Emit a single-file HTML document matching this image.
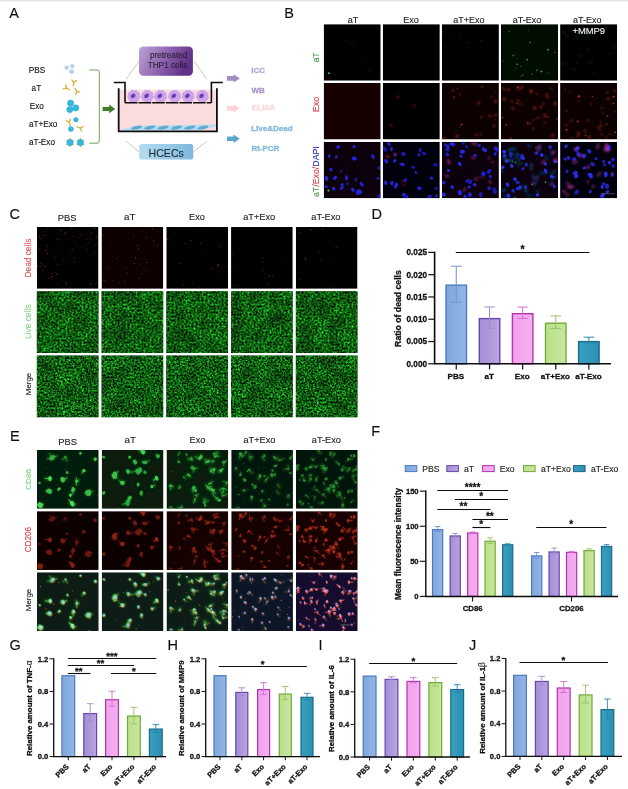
<!DOCTYPE html>
<html lang="en"><head><meta charset="utf-8"><title>Figure</title>
<style>html,body{margin:0;padding:0;background:#fff}svg{display:block}text{white-space:pre}</style></head>
<body>
<svg width="628" height="789" viewBox="0 0 628 789" font-family='"Liberation Sans", Arial, sans-serif'>
<defs>
<filter id="soft" filterUnits="userSpaceOnUse" x="0" y="0" width="628" height="789"><feGaussianBlur stdDeviation="0.4"/></filter>
<filter id="b1" x="-50%" y="-50%" width="200%" height="200%"><feGaussianBlur stdDeviation="0.5"/></filter>
<filter id="b2" x="-50%" y="-50%" width="200%" height="200%"><feGaussianBlur stdDeviation="0.9"/></filter>
<filter id="b3" x="-50%" y="-50%" width="200%" height="200%"><feGaussianBlur stdDeviation="1.6"/></filter>
<filter id="e1" x="-50%" y="-50%" width="200%" height="200%"><feMorphology operator="erode" radius="0.45"/><feGaussianBlur stdDeviation="0.55"/></filter>
<filter id="gn1" x="0" y="0" width="100%" height="100%" color-interpolation-filters="sRGB">
 <feTurbulence type="fractalNoise" baseFrequency="0.5" numOctaves="2" seed="7"/>
 <feColorMatrix type="matrix" values="0 0.28 0 0 -0.09  0 1.32 0 0 -0.3  0 0.32 0 0 -0.1  0 0 0 0 1" result="hi"/>
 <feTurbulence type="fractalNoise" baseFrequency="0.07" numOctaves="2" seed="11"/>
 <feColorMatrix type="matrix" values="0.9 0 0 0 0.05  0.9 0 0 0 0.05  0.9 0 0 0 0.05  0 0 0 0 1" result="lo"/>
 <feComposite in="hi" in2="lo" operator="arithmetic" k1="1.0" k2="0.5" k3="0" k4="0"/>
</filter>
<filter id="gn2" x="0" y="0" width="100%" height="100%" color-interpolation-filters="sRGB">
 <feTurbulence type="fractalNoise" baseFrequency="0.52" numOctaves="2" seed="23"/>
 <feColorMatrix type="matrix" values="0 0.28 0 0 -0.09  0 1.32 0 0 -0.3  0 0.32 0 0 -0.1  0 0 0 0 1" result="hi"/>
 <feTurbulence type="fractalNoise" baseFrequency="0.07" numOctaves="2" seed="11"/>
 <feColorMatrix type="matrix" values="0.9 0 0 0 0.05  0.9 0 0 0 0.05  0.9 0 0 0 0.05  0 0 0 0 1" result="lo"/>
 <feComposite in="hi" in2="lo" operator="arithmetic" k1="1.0" k2="0.5" k3="0" k4="0"/>
</filter>
<linearGradient id="gPur" x1="0" y1="0" x2="1" y2="0.3"><stop offset="0" stop-color="#bba5d6"/><stop offset="0.5" stop-color="#9269b3"/><stop offset="1" stop-color="#5f3088"/></linearGradient>
<linearGradient id="gBlu" x1="0" y1="0" x2="1" y2="0"><stop offset="0" stop-color="#b4dcef"/><stop offset="1" stop-color="#7db9dc"/></linearGradient>
<linearGradient id="bPBS" x1="0" y1="0" x2="1" y2="0"><stop offset="0" stop-color="#7fa6dc"/><stop offset="1" stop-color="#93b6e4"/></linearGradient>
<linearGradient id="baT" x1="0" y1="0" x2="1" y2="0"><stop offset="0" stop-color="#a48ed6"/><stop offset="1" stop-color="#b9a3e0"/></linearGradient>
<linearGradient id="bExo" x1="0" y1="0" x2="1" y2="0"><stop offset="0" stop-color="#f3a0ee"/><stop offset="1" stop-color="#f2b0f0"/></linearGradient>
<linearGradient id="baTpE" x1="0" y1="0" x2="1" y2="0"><stop offset="0" stop-color="#b9e08a"/><stop offset="1" stop-color="#c8e79e"/></linearGradient>
<linearGradient id="baTmE" x1="0" y1="0" x2="1" y2="0"><stop offset="0" stop-color="#3aa0c0"/><stop offset="1" stop-color="#2b8fb3"/></linearGradient>
</defs>
<rect width="628" height="789" fill="#fff"/>
<rect width="628" height="1.3" fill="#e6e6e6"/>
<g filter="url(#soft)">
<text x="9.30" y="17.80" font-size="14.5" fill="#111" text-anchor="start" stroke="#111" stroke-width="0.12">A</text>
<text x="284.30" y="17.60" font-size="14.5" fill="#111" text-anchor="start" stroke="#111" stroke-width="0.12">B</text>
<text x="9.60" y="218.80" font-size="14.5" fill="#111" text-anchor="start" stroke="#111" stroke-width="0.12">C</text>
<text x="371.50" y="218.80" font-size="14.5" fill="#111" text-anchor="start" stroke="#111" stroke-width="0.12">D</text>
<text x="10.00" y="441.30" font-size="14.5" fill="#111" text-anchor="start" stroke="#111" stroke-width="0.12">E</text>
<text x="371.30" y="435.60" font-size="14.5" fill="#111" text-anchor="start" stroke="#111" stroke-width="0.12">F</text>
<text x="9.60" y="650.40" font-size="14.5" fill="#111" text-anchor="start" stroke="#111" stroke-width="0.12">G</text>
<text x="167.60" y="650.20" font-size="14.5" fill="#111" text-anchor="start" stroke="#111" stroke-width="0.12">H</text>
<text x="318.60" y="650.20" font-size="14.5" fill="#111" text-anchor="start" stroke="#111" stroke-width="0.12">I</text>
<text x="469.00" y="650.20" font-size="14.5" fill="#111" text-anchor="start" stroke="#111" stroke-width="0.12">J</text>
<text x="36.90" y="72.50" font-size="8.2" fill="#151515" text-anchor="middle" stroke="#151515" stroke-width="0.12">PBS</text>
<text x="36.40" y="90.80" font-size="8.2" fill="#151515" text-anchor="middle" stroke="#151515" stroke-width="0.12">aT</text>
<text x="36.80" y="108.60" font-size="8.2" fill="#151515" text-anchor="middle" stroke="#151515" stroke-width="0.12">Exo</text>
<text x="43.20" y="126.80" font-size="8.2" fill="#151515" text-anchor="middle" stroke="#151515" stroke-width="0.12">aT+Exo</text>
<text x="42.00" y="145.00" font-size="8.2" fill="#151515" text-anchor="middle" stroke="#151515" stroke-width="0.12">aT-Exo</text>
<circle cx="66.7" cy="67.6" r="2.2" fill="#b9cfe8"/>
<circle cx="72.3" cy="66.2" r="2.1" fill="#b9cfe8"/>
<circle cx="71.6" cy="71.7" r="2.4" fill="#b9cfe8"/>
<g transform="translate(73.8 82.6) rotate(10) scale(1.0)" stroke="#d9b23a" stroke-width="1.3" stroke-linecap="round" fill="none"><path d="M0 3.2 L0 0 L-2.3 -2.4 M0 0 L2.3 -2.4"/></g>
<g transform="translate(66.6 88.2) rotate(-60) scale(1.0)" stroke="#d9b23a" stroke-width="1.3" stroke-linecap="round" fill="none"><path d="M0 3.2 L0 0 L-2.3 -2.4 M0 0 L2.3 -2.4"/></g>
<g transform="translate(76.6 91.2) rotate(150) scale(1.0)" stroke="#d9b23a" stroke-width="1.3" stroke-linecap="round" fill="none"><path d="M0 3.2 L0 0 L-2.3 -2.4 M0 0 L2.3 -2.4"/></g>
<circle cx="70.6" cy="103.1" r="3.1" fill="#36b9dd" stroke="#2aa0c8" stroke-width="0.5"/>
<circle cx="75.7" cy="107.9" r="3.1" fill="#36b9dd" stroke="#2aa0c8" stroke-width="0.5"/>
<circle cx="69.8" cy="109.6" r="3.1" fill="#36b9dd" stroke="#2aa0c8" stroke-width="0.5"/>
<g transform="translate(69.2 122.2) rotate(-20) scale(1.0)" stroke="#d9b23a" stroke-width="1.3" stroke-linecap="round" fill="none"><path d="M0 3.2 L0 0 L-2.3 -2.4 M0 0 L2.3 -2.4"/></g>
<g transform="translate(80.2 128.0) rotate(110) scale(1.0)" stroke="#d9b23a" stroke-width="1.3" stroke-linecap="round" fill="none"><path d="M0 3.2 L0 0 L-2.3 -2.4 M0 0 L2.3 -2.4"/></g>
<circle cx="75.9" cy="119.7" r="2.3" fill="#36b9dd" stroke="#2aa0c8" stroke-width="0.5"/>
<circle cx="70.9" cy="129.0" r="2.5" fill="#36b9dd" stroke="#2aa0c8" stroke-width="0.5"/>
<line x1="70.0" y1="142.5" x2="73.98" y2="144.80" stroke="#d9b23a" stroke-width="1"/>
<line x1="70.0" y1="142.5" x2="70.00" y2="147.10" stroke="#d9b23a" stroke-width="1"/>
<line x1="70.0" y1="142.5" x2="66.02" y2="144.80" stroke="#d9b23a" stroke-width="1"/>
<line x1="70.0" y1="142.5" x2="66.02" y2="140.20" stroke="#d9b23a" stroke-width="1"/>
<line x1="70.0" y1="142.5" x2="70.00" y2="137.90" stroke="#d9b23a" stroke-width="1"/>
<line x1="70.0" y1="142.5" x2="73.98" y2="140.20" stroke="#d9b23a" stroke-width="1"/>
<circle cx="70.0" cy="142.5" r="3.2" fill="#36b9dd" stroke="#2aa0c8" stroke-width="0.5"/>
<line x1="80.4" y1="142.5" x2="84.38" y2="144.80" stroke="#d9b23a" stroke-width="1"/>
<line x1="80.4" y1="142.5" x2="80.40" y2="147.10" stroke="#d9b23a" stroke-width="1"/>
<line x1="80.4" y1="142.5" x2="76.42" y2="144.80" stroke="#d9b23a" stroke-width="1"/>
<line x1="80.4" y1="142.5" x2="76.42" y2="140.20" stroke="#d9b23a" stroke-width="1"/>
<line x1="80.4" y1="142.5" x2="80.40" y2="137.90" stroke="#d9b23a" stroke-width="1"/>
<line x1="80.4" y1="142.5" x2="84.38" y2="140.20" stroke="#d9b23a" stroke-width="1"/>
<circle cx="80.4" cy="142.5" r="3.2" fill="#36b9dd" stroke="#2aa0c8" stroke-width="0.5"/>
<path d="M89.2 70 H97 Q99.3 70 99.3 72.3 V140.9 Q99.3 143.2 97 143.2 H89.2" fill="none" stroke="#5f9a46" stroke-width="0.9"/>
<path d="M102.6 106.9 H109.2 V104.5 L115.3 108.9 L109.2 113.3 V110.9 H102.6 Z" fill="#3e7f2a"/>
<line x1="139.2" y1="61" x2="126.2" y2="79.2" stroke="#a4a4a4" stroke-width="0.6"/>
<line x1="194" y1="61" x2="206.8" y2="79.2" stroke="#a4a4a4" stroke-width="0.6"/>
<line x1="126.2" y1="141.3" x2="139.2" y2="152" stroke="#a4a4a4" stroke-width="0.6"/>
<line x1="206.8" y1="141.3" x2="193.2" y2="152" stroke="#a4a4a4" stroke-width="0.6"/>
<rect x="119.4" y="89.6" width="96.8" height="41" fill="#fbdcdc"/>
<path d="M119.6 130.4 Q130 126 150 125.4 Q185 125.6 216 124.6 L216 126.4 Q205 128.6 196 130.6 L119.6 130.8 Z" fill="#b3dcf0"/>
<ellipse cx="136.5" cy="127.6" rx="5.6" ry="1.7" fill="#62a9cf" transform="rotate(-12 136.5 127.6)"/>
<ellipse cx="149.8" cy="127.6" rx="5.6" ry="1.7" fill="#62a9cf" transform="rotate(-12 149.8 127.6)"/>
<ellipse cx="163.1" cy="127.6" rx="5.6" ry="1.7" fill="#62a9cf" transform="rotate(-12 163.1 127.6)"/>
<ellipse cx="176.4" cy="127.6" rx="5.6" ry="1.7" fill="#62a9cf" transform="rotate(-12 176.4 127.6)"/>
<ellipse cx="189.7" cy="127.6" rx="5.6" ry="1.7" fill="#62a9cf" transform="rotate(-12 189.7 127.6)"/>
<ellipse cx="203.0" cy="127.6" rx="5.6" ry="1.7" fill="#62a9cf" transform="rotate(-12 203.0 127.6)"/>
<polygon points="140.07,97.55 138.68,99.22 137.83,101.23 135.68,101.61 133.74,102.60 131.85,101.51 129.73,101.02 128.98,98.98 127.67,97.24 128.41,95.19 128.53,93.01 130.41,91.92 131.90,90.33 134.04,90.70 136.20,90.44 137.61,92.10 139.43,93.29 139.44,95.47" fill="#cda4ec" stroke="#c79be8" stroke-width="0.7" stroke-linejoin="round"/>
<ellipse cx="133.1" cy="95.89999999999999" rx="2.6" ry="1.9" fill="#6b3fb0" transform="rotate(-35 133.1 95.89999999999999)"/>
<polygon points="153.57,97.55 152.18,99.22 151.33,101.23 149.18,101.61 147.24,102.60 145.35,101.51 143.23,101.02 142.48,98.98 141.17,97.24 141.91,95.19 142.03,93.01 143.91,91.92 145.40,90.33 147.54,90.70 149.70,90.44 151.11,92.10 152.93,93.29 152.94,95.47" fill="#cda4ec" stroke="#c79be8" stroke-width="0.7" stroke-linejoin="round"/>
<ellipse cx="146.6" cy="95.89999999999999" rx="2.6" ry="1.9" fill="#6b3fb0" transform="rotate(-35 146.6 95.89999999999999)"/>
<polygon points="166.77,97.55 165.38,99.22 164.53,101.23 162.38,101.61 160.44,102.60 158.55,101.51 156.43,101.02 155.68,98.98 154.37,97.24 155.11,95.19 155.23,93.01 157.11,91.92 158.60,90.33 160.74,90.70 162.90,90.44 164.31,92.10 166.13,93.29 166.14,95.47" fill="#cda4ec" stroke="#c79be8" stroke-width="0.7" stroke-linejoin="round"/>
<ellipse cx="159.79999999999998" cy="95.89999999999999" rx="2.6" ry="1.9" fill="#6b3fb0" transform="rotate(-35 159.79999999999998 95.89999999999999)"/>
<polygon points="180.77,97.55 179.38,99.22 178.53,101.23 176.38,101.61 174.44,102.60 172.55,101.51 170.43,101.02 169.68,98.98 168.37,97.24 169.11,95.19 169.23,93.01 171.11,91.92 172.60,90.33 174.74,90.70 176.90,90.44 178.31,92.10 180.13,93.29 180.14,95.47" fill="#cda4ec" stroke="#c79be8" stroke-width="0.7" stroke-linejoin="round"/>
<ellipse cx="173.79999999999998" cy="95.89999999999999" rx="2.6" ry="1.9" fill="#6b3fb0" transform="rotate(-35 173.79999999999998 95.89999999999999)"/>
<polygon points="194.37,97.55 192.98,99.22 192.13,101.23 189.98,101.61 188.04,102.60 186.15,101.51 184.03,101.02 183.28,98.98 181.97,97.24 182.71,95.19 182.83,93.01 184.71,91.92 186.20,90.33 188.34,90.70 190.50,90.44 191.91,92.10 193.73,93.29 193.74,95.47" fill="#cda4ec" stroke="#c79be8" stroke-width="0.7" stroke-linejoin="round"/>
<ellipse cx="187.39999999999998" cy="95.89999999999999" rx="2.6" ry="1.9" fill="#6b3fb0" transform="rotate(-35 187.39999999999998 95.89999999999999)"/>
<polygon points="208.57,97.55 207.18,99.22 206.33,101.23 204.18,101.61 202.24,102.60 200.35,101.51 198.23,101.02 197.48,98.98 196.17,97.24 196.91,95.19 197.03,93.01 198.91,91.92 200.40,90.33 202.54,90.70 204.70,90.44 206.11,92.10 207.93,93.29 207.94,95.47" fill="#cda4ec" stroke="#c79be8" stroke-width="0.7" stroke-linejoin="round"/>
<ellipse cx="201.6" cy="95.89999999999999" rx="2.6" ry="1.9" fill="#6b3fb0" transform="rotate(-35 201.6 95.89999999999999)"/>
<path d="M113.8 82.5 H125 V102.8" fill="none" stroke="#111" stroke-width="1.6"/>
<path d="M222.8 82.5 H211.4 V102.8" fill="none" stroke="#111" stroke-width="1.6"/>
<path d="M125 102.8 H211.4" fill="none" stroke="#111" stroke-width="1.4" stroke-dasharray="12.6 1.0"/>
<path d="M118.7 88.2 V131.3 H216.9 V88.2" fill="none" stroke="#111" stroke-width="1.8"/>
<rect x="139.0" y="46.6" width="53.9" height="29.2" rx="4.2" fill="url(#gPur)"/>
<text x="187.30" y="57.90" font-size="8.2" fill="#2a1f35" text-anchor="end" stroke="#2a1f35" stroke-width="0.12">pretreated</text>
<text x="187.30" y="67.70" font-size="8.2" fill="#2a1f35" text-anchor="end" stroke="#2a1f35" stroke-width="0.12">THP1 cells</text>
<rect x="139.2" y="144.1" width="54" height="15.4" rx="2.6" fill="url(#gBlu)"/>
<text x="166.20" y="156.90" font-size="10.6" fill="#1c2a33" text-anchor="middle" stroke="#1c2a33" stroke-width="0.12">HCECs</text>
<path d="M227 76.10000000000001 H233.6 V74.2 L239.8 78.4 L233.6 82.60000000000001 V80.7 H227 Z" fill="#a58cc6"/>
<path d="M227 106.10000000000001 H233.6 V104.2 L239.8 108.4 L233.6 112.60000000000001 V110.7 H227 Z" fill="#fbd3d8"/>
<path d="M227 136.39999999999998 H233.6 V134.5 L239.8 138.7 L233.6 142.89999999999998 V141.0 H227 Z" fill="#5ca6cd"/>
<text x="251.20" y="72.90" font-size="8.0" fill="#b6a6d2" text-anchor="start" font-weight="bold" stroke="#b6a6d2" stroke-width="0.28">ICC</text>
<text x="251.40" y="93.20" font-size="8.0" fill="#a993cb" text-anchor="start" font-weight="bold" stroke="#a993cb" stroke-width="0.28">WB</text>
<text x="251.80" y="110.30" font-size="8.0" fill="#fbd6da" text-anchor="start" font-weight="bold" stroke="#fbd6da" stroke-width="0.28">ELISA</text>
<text x="251.20" y="131.00" font-size="8.0" fill="#80b8d8" text-anchor="start" font-weight="bold" stroke="#80b8d8" stroke-width="0.28">Live&amp;Dead</text>
<text x="251.40" y="150.60" font-size="8.0" fill="#80b8d8" text-anchor="start" font-weight="bold" stroke="#80b8d8" stroke-width="0.28">Rt-PCR</text>
<text x="353.00" y="22.50" font-size="9.0" fill="#222" text-anchor="middle" stroke="#222" stroke-width="0.12">aT</text>
<text x="411.00" y="22.50" font-size="9.0" fill="#222" text-anchor="middle" stroke="#222" stroke-width="0.12">Exo</text>
<text x="468.80" y="22.50" font-size="9.0" fill="#222" text-anchor="middle" stroke="#222" stroke-width="0.12">aT+Exo</text>
<text x="527.10" y="22.50" font-size="9.0" fill="#222" text-anchor="middle" stroke="#222" stroke-width="0.12">aT-Exo</text>
<text x="587.30" y="22.50" font-size="9.0" fill="#222" text-anchor="middle" stroke="#222" stroke-width="0.12">aT-Exo</text>
<text x="319.20" y="57.50" font-size="8.7" fill="#4f9a4f" text-anchor="middle" stroke="#4f9a4f" stroke-width="0.12" transform="rotate(-90 319.20 57.50)">aT</text>
<text x="319.20" y="104.60" font-size="9.0" fill="#d13a3a" text-anchor="middle" stroke="#d13a3a" stroke-width="0.12" transform="rotate(-90 319.20 104.60)">Exo</text>
<text x="319.2" y="171.6" font-size="8.8" text-anchor="middle" stroke-width="0.12" transform="rotate(-90 319.2 171.6)"><tspan fill="#4f9a4f" stroke="#4f9a4f">aT</tspan><tspan fill="#d13a3a" stroke="#d13a3a">/Exo/</tspan><tspan fill="#2a2ab8" stroke="#2a2ab8">DAPI</tspan></text>
<clipPath id="c1"><rect x="323.70" y="24.20" width="57.00" height="56.50"/></clipPath>
<g clip-path="url(#c1)">
<rect x="323.70" y="24.20" width="57.00" height="56.50" fill="#020302"/>
<g fill="#35d040" filter="url(#b1)">
<circle cx="328.9" cy="73.3" r="1.06" opacity="0.92"/>
</g>
<g fill="#1f8a28" filter="url(#b1)">
<circle cx="370.1" cy="70.7" r="0.60" opacity="0.36"/>
<circle cx="353.4" cy="42.7" r="0.47" opacity="0.68"/>
<circle cx="380.5" cy="26.7" r="0.66" opacity="0.54"/>
<circle cx="345.5" cy="40.2" r="0.60" opacity="0.48"/>
<circle cx="362.8" cy="61.6" r="0.44" opacity="0.61"/>
<circle cx="379.7" cy="79.0" r="0.58" opacity="0.32"/>
</g>
</g>
<clipPath id="c2"><rect x="382.80" y="24.20" width="57.00" height="56.50"/></clipPath>
<g clip-path="url(#c2)">
<rect x="382.80" y="24.20" width="57.00" height="56.50" fill="#010101"/>
</g>
<clipPath id="c3"><rect x="441.90" y="24.20" width="57.00" height="56.50"/></clipPath>
<g clip-path="url(#c3)">
<rect x="441.90" y="24.20" width="57.00" height="56.50" fill="#010201"/>
<g fill="#1f9a28" filter="url(#b1)">
<circle cx="469.0" cy="42.8" r="0.67" opacity="0.36"/>
<circle cx="442.5" cy="34.8" r="0.51" opacity="0.62"/>
<circle cx="481.3" cy="41.2" r="0.62" opacity="0.56"/>
<circle cx="450.2" cy="36.6" r="0.46" opacity="0.66"/>
<circle cx="445.3" cy="47.3" r="0.43" opacity="0.57"/>
<circle cx="461.1" cy="35.6" r="0.74" opacity="0.31"/>
</g>
</g>
<clipPath id="c4"><rect x="501.00" y="24.20" width="57.00" height="56.50"/></clipPath>
<g clip-path="url(#c4)">
<rect x="501.00" y="24.20" width="57.00" height="56.50" fill="#030803"/>
<g fill="#1c7a24" filter="url(#b2)">
<circle cx="515.8" cy="68.3" r="1.05" opacity="0.45"/>
<circle cx="511.6" cy="50.3" r="0.62" opacity="0.27"/>
<circle cx="542.8" cy="46.3" r="0.93" opacity="0.26"/>
<circle cx="517.8" cy="58.2" r="1.17" opacity="0.38"/>
<circle cx="501.8" cy="52.1" r="0.62" opacity="0.46"/>
<circle cx="547.2" cy="73.0" r="1.16" opacity="0.42"/>
<circle cx="555.1" cy="72.5" r="0.71" opacity="0.45"/>
<circle cx="528.7" cy="71.0" r="0.95" opacity="0.33"/>
<circle cx="521.8" cy="58.1" r="0.75" opacity="0.24"/>
<circle cx="547.7" cy="72.7" r="1.29" opacity="0.41"/>
<circle cx="532.6" cy="70.7" r="0.61" opacity="0.40"/>
<circle cx="526.3" cy="48.1" r="0.66" opacity="0.36"/>
<circle cx="515.4" cy="59.3" r="0.98" opacity="0.32"/>
<circle cx="508.5" cy="60.6" r="0.69" opacity="0.27"/>
<circle cx="512.1" cy="55.6" r="0.56" opacity="0.40"/>
<circle cx="555.4" cy="56.6" r="1.08" opacity="0.48"/>
<circle cx="503.5" cy="46.8" r="1.14" opacity="0.45"/>
<circle cx="537.4" cy="47.5" r="0.83" opacity="0.46"/>
<circle cx="551.5" cy="72.9" r="0.66" opacity="0.46"/>
<circle cx="522.4" cy="69.5" r="0.61" opacity="0.49"/>
<circle cx="535.4" cy="69.7" r="0.67" opacity="0.39"/>
<circle cx="534.1" cy="64.5" r="0.79" opacity="0.42"/>
<circle cx="520.5" cy="52.8" r="0.63" opacity="0.41"/>
<circle cx="507.4" cy="50.1" r="0.56" opacity="0.39"/>
<circle cx="532.7" cy="62.6" r="0.53" opacity="0.33"/>
<circle cx="520.6" cy="44.8" r="0.50" opacity="0.50"/>
<circle cx="507.9" cy="53.1" r="0.72" opacity="0.38"/>
<circle cx="505.4" cy="59.7" r="0.79" opacity="0.45"/>
<circle cx="501.3" cy="54.4" r="0.90" opacity="0.49"/>
<circle cx="530.5" cy="59.9" r="1.04" opacity="0.29"/>
<circle cx="502.8" cy="61.0" r="1.23" opacity="0.42"/>
<circle cx="515.7" cy="68.2" r="1.18" opacity="0.28"/>
<circle cx="534.5" cy="55.2" r="0.70" opacity="0.29"/>
<circle cx="512.6" cy="55.0" r="0.53" opacity="0.32"/>
</g>
<g fill="#1c7a24" filter="url(#b2)">
<circle cx="505.9" cy="67.0" r="0.80" opacity="0.20"/>
<circle cx="545.1" cy="35.0" r="0.74" opacity="0.37"/>
<circle cx="520.0" cy="40.6" r="0.72" opacity="0.24"/>
<circle cx="550.2" cy="30.5" r="0.91" opacity="0.27"/>
<circle cx="518.3" cy="46.1" r="0.52" opacity="0.24"/>
<circle cx="521.6" cy="49.2" r="0.94" opacity="0.50"/>
<circle cx="503.5" cy="54.4" r="0.56" opacity="0.44"/>
<circle cx="519.4" cy="74.6" r="0.77" opacity="0.24"/>
<circle cx="501.3" cy="38.2" r="0.93" opacity="0.24"/>
<circle cx="528.3" cy="45.2" r="0.67" opacity="0.44"/>
</g>
<g fill="#2fc23a" filter="url(#b1)">
<circle cx="517.1" cy="64.3" r="0.80" opacity="0.92"/>
<circle cx="531.9" cy="74.1" r="0.70" opacity="0.76"/>
<circle cx="536.8" cy="70.2" r="0.90" opacity="0.55"/>
<circle cx="513.3" cy="55.5" r="0.87" opacity="0.74"/>
<circle cx="521.2" cy="76.0" r="0.63" opacity="0.54"/>
<circle cx="509.2" cy="31.3" r="0.83" opacity="0.55"/>
<circle cx="541.4" cy="71.5" r="0.95" opacity="0.86"/>
<circle cx="527.3" cy="59.7" r="0.87" opacity="0.82"/>
<circle cx="520.8" cy="66.4" r="0.55" opacity="0.64"/>
<circle cx="555.0" cy="52.5" r="0.62" opacity="0.85"/>
<circle cx="528.5" cy="30.0" r="0.51" opacity="0.62"/>
<circle cx="522.8" cy="74.9" r="0.61" opacity="0.88"/>
<circle cx="548.1" cy="49.8" r="0.95" opacity="0.84"/>
<circle cx="530.2" cy="42.4" r="0.71" opacity="0.91"/>
</g>
</g>
<clipPath id="c5"><rect x="560.10" y="24.20" width="57.00" height="56.50"/></clipPath>
<g clip-path="url(#c5)">
<rect x="560.10" y="24.20" width="57.00" height="56.50" fill="#020402"/>
<g fill="#17601d" filter="url(#b2)">
<circle cx="566.2" cy="63.9" r="0.89" opacity="0.53"/>
<circle cx="575.6" cy="38.7" r="0.94" opacity="0.45"/>
<circle cx="577.4" cy="62.9" r="0.74" opacity="0.48"/>
<circle cx="566.8" cy="36.8" r="1.04" opacity="0.36"/>
<circle cx="574.9" cy="69.6" r="0.88" opacity="0.29"/>
<circle cx="591.5" cy="61.7" r="0.60" opacity="0.45"/>
<circle cx="567.1" cy="43.2" r="0.55" opacity="0.31"/>
<circle cx="615.8" cy="47.0" r="1.09" opacity="0.38"/>
<circle cx="594.7" cy="73.5" r="0.91" opacity="0.28"/>
<circle cx="593.7" cy="60.0" r="0.61" opacity="0.28"/>
<circle cx="610.0" cy="53.2" r="0.62" opacity="0.39"/>
<circle cx="572.5" cy="69.3" r="0.80" opacity="0.28"/>
<circle cx="606.7" cy="29.3" r="0.67" opacity="0.26"/>
<circle cx="602.3" cy="30.6" r="0.82" opacity="0.28"/>
<circle cx="587.5" cy="62.9" r="0.82" opacity="0.39"/>
<circle cx="587.7" cy="48.9" r="0.86" opacity="0.28"/>
<circle cx="587.1" cy="37.5" r="1.02" opacity="0.53"/>
<circle cx="563.9" cy="32.3" r="0.92" opacity="0.42"/>
<circle cx="561.2" cy="64.0" r="1.07" opacity="0.38"/>
<circle cx="579.9" cy="56.4" r="1.06" opacity="0.33"/>
<circle cx="577.3" cy="34.9" r="0.88" opacity="0.39"/>
<circle cx="574.7" cy="46.1" r="0.52" opacity="0.34"/>
</g>
</g>
<clipPath id="c6"><rect x="323.70" y="83.00" width="57.00" height="56.50"/></clipPath>
<g clip-path="url(#c6)">
<rect x="323.70" y="83.00" width="57.00" height="56.50" fill="#130404"/>
</g>
<clipPath id="c7"><rect x="382.80" y="83.00" width="57.00" height="56.50"/></clipPath>
<g clip-path="url(#c7)">
<rect x="382.80" y="83.00" width="57.00" height="56.50" fill="#030000"/>
<g fill="#7a1510" filter="url(#b2)">
<ellipse cx="398.2" cy="97.1" rx="1.71" ry="1.10" opacity="0.69" transform="rotate(114 398.2 97.1)"/>
<ellipse cx="414.2" cy="105.6" rx="1.85" ry="1.13" opacity="0.70" transform="rotate(145 414.2 105.6)"/>
<ellipse cx="391.4" cy="125.4" rx="1.55" ry="1.30" opacity="0.65" transform="rotate(1 391.4 125.4)"/>
</g>
</g>
<clipPath id="c8"><rect x="441.90" y="83.00" width="57.00" height="56.50"/></clipPath>
<g clip-path="url(#c8)">
<rect x="441.90" y="83.00" width="57.00" height="56.50" fill="#080101"/>
<g fill="#8a1c14" filter="url(#b2)">
<ellipse cx="495.5" cy="91.7" rx="1.55" ry="1.10" opacity="0.44" transform="rotate(120 495.5 91.7)"/>
<ellipse cx="444.3" cy="138.3" rx="1.31" ry="1.03" opacity="0.81" transform="rotate(6 444.3 138.3)"/>
<ellipse cx="453.1" cy="90.7" rx="1.70" ry="1.35" opacity="0.68" transform="rotate(74 453.1 90.7)"/>
<ellipse cx="478.7" cy="102.9" rx="1.89" ry="1.64" opacity="0.64" transform="rotate(67 478.7 102.9)"/>
<ellipse cx="491.7" cy="96.7" rx="1.57" ry="1.21" opacity="0.57" transform="rotate(98 491.7 96.7)"/>
<ellipse cx="495.5" cy="101.5" rx="1.86" ry="1.47" opacity="0.85" transform="rotate(16 495.5 101.5)"/>
<ellipse cx="475.9" cy="134.7" rx="1.52" ry="1.25" opacity="0.81" transform="rotate(73 475.9 134.7)"/>
<ellipse cx="480.5" cy="134.2" rx="2.09" ry="1.67" opacity="0.40" transform="rotate(72 480.5 134.2)"/>
<ellipse cx="481.8" cy="86.8" rx="1.77" ry="1.63" opacity="0.52" transform="rotate(98 481.8 86.8)"/>
<ellipse cx="491.3" cy="116.1" rx="1.45" ry="1.23" opacity="0.37" transform="rotate(34 491.3 116.1)"/>
<ellipse cx="460.0" cy="94.4" rx="1.92" ry="1.37" opacity="0.45" transform="rotate(116 460.0 94.4)"/>
<ellipse cx="489.5" cy="115.7" rx="1.52" ry="1.49" opacity="0.76" transform="rotate(74 489.5 115.7)"/>
<ellipse cx="494.4" cy="126.1" rx="2.02" ry="1.64" opacity="0.60" transform="rotate(152 494.4 126.1)"/>
<ellipse cx="495.6" cy="114.8" rx="1.77" ry="1.37" opacity="0.72" transform="rotate(178 495.6 114.8)"/>
<ellipse cx="481.3" cy="117.3" rx="1.82" ry="1.33" opacity="0.53" transform="rotate(116 481.3 117.3)"/>
<ellipse cx="457.2" cy="136.0" rx="2.18" ry="1.55" opacity="0.82" transform="rotate(110 457.2 136.0)"/>
<ellipse cx="460.1" cy="126.5" rx="1.27" ry="1.01" opacity="0.52" transform="rotate(114 460.1 126.5)"/>
<ellipse cx="495.3" cy="119.4" rx="1.51" ry="1.12" opacity="0.48" transform="rotate(78 495.3 119.4)"/>
</g>
<g fill="#c03020" filter="url(#b1)">
<circle cx="444.3" cy="137.6" r="0.84" opacity="0.55"/>
<circle cx="454.2" cy="97.4" r="1.05" opacity="0.57"/>
<circle cx="457.7" cy="88.5" r="0.89" opacity="0.58"/>
<circle cx="461.5" cy="124.5" r="1.07" opacity="0.83"/>
</g>
</g>
<clipPath id="c9"><rect x="501.00" y="83.00" width="57.00" height="56.50"/></clipPath>
<g clip-path="url(#c9)">
<rect x="501.00" y="83.00" width="57.00" height="56.50" fill="#0b0202"/>
<g fill="#8e2018" filter="url(#b2)">
<ellipse cx="552.7" cy="135.6" rx="2.02" ry="1.38" opacity="0.87" transform="rotate(107 552.7 135.6)"/>
<ellipse cx="551.0" cy="88.7" rx="1.66" ry="1.12" opacity="0.58" transform="rotate(10 551.0 88.7)"/>
<ellipse cx="534.5" cy="107.1" rx="1.43" ry="1.02" opacity="0.89" transform="rotate(124 534.5 107.1)"/>
<ellipse cx="531.1" cy="91.2" rx="2.31" ry="1.56" opacity="0.89" transform="rotate(97 531.1 91.2)"/>
<ellipse cx="512.6" cy="108.2" rx="1.79" ry="1.52" opacity="0.56" transform="rotate(175 512.6 108.2)"/>
<ellipse cx="514.2" cy="108.8" rx="1.18" ry="1.14" opacity="0.46" transform="rotate(84 514.2 108.8)"/>
<ellipse cx="503.5" cy="88.8" rx="2.44" ry="1.65" opacity="0.41" transform="rotate(39 503.5 88.8)"/>
<ellipse cx="541.0" cy="107.0" rx="1.49" ry="1.37" opacity="0.80" transform="rotate(98 541.0 107.0)"/>
<ellipse cx="530.2" cy="124.0" rx="1.43" ry="1.18" opacity="0.59" transform="rotate(162 530.2 124.0)"/>
<ellipse cx="521.8" cy="87.3" rx="1.79" ry="1.24" opacity="0.84" transform="rotate(146 521.8 87.3)"/>
<ellipse cx="545.0" cy="116.1" rx="1.79" ry="1.48" opacity="0.81" transform="rotate(125 545.0 116.1)"/>
<ellipse cx="538.1" cy="117.8" rx="1.62" ry="1.45" opacity="0.58" transform="rotate(53 538.1 117.8)"/>
<ellipse cx="555.3" cy="103.8" rx="1.97" ry="1.54" opacity="0.80" transform="rotate(99 555.3 103.8)"/>
<ellipse cx="543.7" cy="104.1" rx="1.42" ry="1.08" opacity="0.66" transform="rotate(60 543.7 104.1)"/>
<ellipse cx="533.4" cy="120.0" rx="1.78" ry="1.58" opacity="0.39" transform="rotate(171 533.4 120.0)"/>
<ellipse cx="519.3" cy="88.8" rx="1.77" ry="1.39" opacity="0.66" transform="rotate(42 519.3 88.8)"/>
<ellipse cx="528.1" cy="123.1" rx="1.63" ry="1.33" opacity="0.35" transform="rotate(129 528.1 123.1)"/>
<ellipse cx="534.5" cy="108.4" rx="1.76" ry="1.26" opacity="0.83" transform="rotate(26 534.5 108.4)"/>
<ellipse cx="537.3" cy="94.0" rx="1.53" ry="1.14" opacity="0.60" transform="rotate(31 537.3 94.0)"/>
<ellipse cx="511.9" cy="101.7" rx="1.35" ry="1.30" opacity="0.61" transform="rotate(126 511.9 101.7)"/>
<ellipse cx="546.8" cy="94.7" rx="1.88" ry="1.48" opacity="0.64" transform="rotate(100 546.8 94.7)"/>
<ellipse cx="508.4" cy="89.5" rx="1.75" ry="1.21" opacity="0.83" transform="rotate(16 508.4 89.5)"/>
<ellipse cx="504.3" cy="99.1" rx="2.00" ry="1.60" opacity="0.72" transform="rotate(140 504.3 99.1)"/>
<ellipse cx="533.5" cy="128.6" rx="1.63" ry="1.42" opacity="0.54" transform="rotate(58 533.5 128.6)"/>
<ellipse cx="520.2" cy="104.2" rx="1.79" ry="1.21" opacity="0.56" transform="rotate(61 520.2 104.2)"/>
<ellipse cx="517.9" cy="100.7" rx="1.82" ry="1.29" opacity="0.65" transform="rotate(86 517.9 100.7)"/>
<ellipse cx="544.7" cy="113.9" rx="1.34" ry="1.18" opacity="0.47" transform="rotate(16 544.7 113.9)"/>
<ellipse cx="516.3" cy="89.9" rx="1.69" ry="1.18" opacity="0.41" transform="rotate(90 516.3 89.9)"/>
<ellipse cx="545.0" cy="122.5" rx="1.40" ry="1.32" opacity="0.59" transform="rotate(102 545.0 122.5)"/>
<ellipse cx="547.5" cy="97.0" rx="1.81" ry="1.60" opacity="0.49" transform="rotate(153 547.5 97.0)"/>
</g>
<g fill="#c83424" filter="url(#b1)">
<circle cx="557.0" cy="118.8" r="0.72" opacity="0.82"/>
<circle cx="516.7" cy="103.5" r="0.76" opacity="0.83"/>
<circle cx="506.2" cy="124.7" r="0.86" opacity="0.77"/>
<circle cx="517.7" cy="87.4" r="1.07" opacity="0.76"/>
<circle cx="510.7" cy="138.2" r="1.06" opacity="0.57"/>
<circle cx="502.1" cy="117.5" r="0.76" opacity="0.79"/>
<circle cx="527.7" cy="123.1" r="0.93" opacity="0.81"/>
<circle cx="547.8" cy="117.1" r="0.94" opacity="0.63"/>
</g>
</g>
<clipPath id="c10"><rect x="560.10" y="83.00" width="57.00" height="56.50"/></clipPath>
<g clip-path="url(#c10)">
<rect x="560.10" y="83.00" width="57.00" height="56.50" fill="#080101"/>
<g fill="#8a1c14" filter="url(#b2)">
<ellipse cx="600.2" cy="129.7" rx="1.51" ry="1.15" opacity="0.67" transform="rotate(47 600.2 129.7)"/>
<ellipse cx="571.2" cy="138.3" rx="1.66" ry="1.39" opacity="0.55" transform="rotate(143 571.2 138.3)"/>
<ellipse cx="571.9" cy="120.5" rx="1.81" ry="1.28" opacity="0.44" transform="rotate(45 571.9 120.5)"/>
<ellipse cx="566.3" cy="125.2" rx="1.64" ry="1.34" opacity="0.47" transform="rotate(157 566.3 125.2)"/>
<ellipse cx="569.5" cy="122.5" rx="1.26" ry="1.22" opacity="0.51" transform="rotate(81 569.5 122.5)"/>
<ellipse cx="600.9" cy="125.7" rx="1.75" ry="1.27" opacity="0.84" transform="rotate(7 600.9 125.7)"/>
<ellipse cx="585.4" cy="131.1" rx="2.01" ry="1.43" opacity="0.64" transform="rotate(97 585.4 131.1)"/>
<ellipse cx="615.3" cy="90.4" rx="1.49" ry="1.25" opacity="0.50" transform="rotate(40 615.3 90.4)"/>
<ellipse cx="589.5" cy="136.1" rx="1.37" ry="1.18" opacity="0.75" transform="rotate(163 589.5 136.1)"/>
<ellipse cx="601.7" cy="108.2" rx="1.40" ry="1.38" opacity="0.62" transform="rotate(47 601.7 108.2)"/>
<ellipse cx="577.9" cy="135.8" rx="1.71" ry="1.42" opacity="0.80" transform="rotate(114 577.9 135.8)"/>
<ellipse cx="565.9" cy="125.4" rx="1.38" ry="1.16" opacity="0.51" transform="rotate(137 565.9 125.4)"/>
<ellipse cx="607.4" cy="92.7" rx="1.72" ry="1.43" opacity="0.58" transform="rotate(3 607.4 92.7)"/>
<ellipse cx="579.1" cy="100.7" rx="1.45" ry="1.04" opacity="0.61" transform="rotate(152 579.1 100.7)"/>
<ellipse cx="590.9" cy="104.0" rx="1.70" ry="1.54" opacity="0.44" transform="rotate(80 590.9 104.0)"/>
<ellipse cx="610.1" cy="134.3" rx="1.45" ry="1.03" opacity="0.82" transform="rotate(9 610.1 134.3)"/>
<ellipse cx="578.5" cy="132.7" rx="1.80" ry="1.33" opacity="0.80" transform="rotate(9 578.5 132.7)"/>
<ellipse cx="565.0" cy="89.4" rx="1.55" ry="1.48" opacity="0.42" transform="rotate(33 565.0 89.4)"/>
<ellipse cx="597.6" cy="127.5" rx="1.35" ry="1.30" opacity="0.60" transform="rotate(144 597.6 127.5)"/>
<ellipse cx="606.1" cy="137.9" rx="1.60" ry="1.42" opacity="0.58" transform="rotate(118 606.1 137.9)"/>
<ellipse cx="608.3" cy="98.6" rx="1.67" ry="1.39" opacity="0.77" transform="rotate(178 608.3 98.6)"/>
<ellipse cx="601.9" cy="134.3" rx="1.76" ry="1.50" opacity="0.43" transform="rotate(34 601.9 134.3)"/>
<ellipse cx="566.4" cy="110.9" rx="1.60" ry="1.08" opacity="0.79" transform="rotate(51 566.4 110.9)"/>
<ellipse cx="569.7" cy="91.9" rx="1.49" ry="1.14" opacity="0.50" transform="rotate(45 569.7 91.9)"/>
<ellipse cx="587.5" cy="120.5" rx="1.89" ry="1.45" opacity="0.47" transform="rotate(170 587.5 120.5)"/>
<ellipse cx="614.5" cy="91.3" rx="1.20" ry="1.16" opacity="0.84" transform="rotate(39 614.5 91.3)"/>
<ellipse cx="588.9" cy="138.2" rx="1.66" ry="1.34" opacity="0.73" transform="rotate(61 588.9 138.2)"/>
<ellipse cx="603.1" cy="113.0" rx="1.52" ry="1.41" opacity="0.44" transform="rotate(8 603.1 113.0)"/>
</g>
<g fill="#d83a26" filter="url(#b1)">
<circle cx="606.7" cy="124.4" r="0.81" opacity="0.62"/>
<circle cx="577.6" cy="121.4" r="1.07" opacity="0.62"/>
<circle cx="578.9" cy="96.4" r="1.17" opacity="0.78"/>
<circle cx="613.7" cy="96.7" r="1.02" opacity="0.78"/>
<circle cx="613.2" cy="103.6" r="0.81" opacity="0.91"/>
<circle cx="614.4" cy="111.7" r="0.87" opacity="0.54"/>
<circle cx="585.4" cy="135.3" r="0.88" opacity="0.72"/>
<circle cx="592.3" cy="96.4" r="0.75" opacity="0.76"/>
<circle cx="615.2" cy="132.3" r="0.85" opacity="0.89"/>
<circle cx="607.5" cy="116.0" r="0.88" opacity="0.60"/>
<circle cx="600.2" cy="121.8" r="0.81" opacity="0.57"/>
<circle cx="566.6" cy="129.8" r="1.14" opacity="0.76"/>
</g>
</g>
<clipPath id="c11"><rect x="323.70" y="141.80" width="57.00" height="56.50"/></clipPath>
<g clip-path="url(#c11)">
<rect x="323.70" y="141.80" width="57.00" height="56.50" fill="#0e0307"/>
<g fill="#2424f0" filter="url(#b1)">
<ellipse cx="354.3" cy="158.6" rx="2.54" ry="1.86" opacity="0.98" transform="rotate(12 354.3 158.6)"/>
<ellipse cx="326.5" cy="178.4" rx="2.48" ry="1.86" opacity="0.98" transform="rotate(87 326.5 178.4)"/>
<ellipse cx="336.3" cy="156.9" rx="1.62" ry="1.38" opacity="0.89" transform="rotate(125 336.3 156.9)"/>
<ellipse cx="346.6" cy="177.7" rx="2.65" ry="1.68" opacity="0.80" transform="rotate(92 346.6 177.7)"/>
<ellipse cx="378.9" cy="168.0" rx="1.56" ry="1.36" opacity="0.80" transform="rotate(67 378.9 168.0)"/>
<ellipse cx="379.2" cy="196.8" rx="2.46" ry="1.72" opacity="0.78" transform="rotate(92 379.2 196.8)"/>
<ellipse cx="338.1" cy="146.9" rx="2.08" ry="1.64" opacity="0.88" transform="rotate(144 338.1 146.9)"/>
<ellipse cx="333.6" cy="188.6" rx="2.13" ry="1.69" opacity="0.90" transform="rotate(93 333.6 188.6)"/>
<ellipse cx="357.6" cy="192.7" rx="2.56" ry="1.87" opacity="0.89" transform="rotate(58 357.6 192.7)"/>
<ellipse cx="378.0" cy="178.4" rx="1.58" ry="1.28" opacity="0.84" transform="rotate(6 378.0 178.4)"/>
<ellipse cx="354.1" cy="146.6" rx="1.76" ry="1.38" opacity="0.87" transform="rotate(142 354.1 146.6)"/>
<ellipse cx="326.1" cy="186.6" rx="1.61" ry="1.23" opacity="0.94" transform="rotate(1 326.1 186.6)"/>
<ellipse cx="361.6" cy="184.3" rx="2.47" ry="1.55" opacity="0.94" transform="rotate(48 361.6 184.3)"/>
<ellipse cx="355.8" cy="179.5" rx="2.08" ry="1.30" opacity="0.68" transform="rotate(70 355.8 179.5)"/>
<ellipse cx="359.8" cy="191.5" rx="2.92" ry="1.84" opacity="0.85" transform="rotate(35 359.8 191.5)"/>
<ellipse cx="331.0" cy="169.7" rx="1.69" ry="1.53" opacity="0.99" transform="rotate(77 331.0 169.7)"/>
<ellipse cx="341.8" cy="187.9" rx="2.25" ry="1.47" opacity="0.92" transform="rotate(137 341.8 187.9)"/>
<ellipse cx="372.8" cy="156.6" rx="2.66" ry="1.63" opacity="0.82" transform="rotate(62 372.8 156.6)"/>
<ellipse cx="329.2" cy="156.1" rx="1.62" ry="1.51" opacity="0.92" transform="rotate(88 329.2 156.1)"/>
<ellipse cx="342.1" cy="184.7" rx="1.80" ry="1.60" opacity="0.82" transform="rotate(44 342.1 184.7)"/>
<ellipse cx="347.3" cy="183.6" rx="1.45" ry="1.27" opacity="0.69" transform="rotate(133 347.3 183.6)"/>
<ellipse cx="341.3" cy="171.3" rx="1.42" ry="1.28" opacity="0.66" transform="rotate(93 341.3 171.3)"/>
<ellipse cx="335.0" cy="177.9" rx="2.35" ry="1.68" opacity="0.92" transform="rotate(137 335.0 177.9)"/>
<ellipse cx="352.9" cy="189.7" rx="2.32" ry="1.71" opacity="0.86" transform="rotate(55 352.9 189.7)"/>
</g>
<g fill="#2fd23a" filter="url(#b1)">
<circle cx="328.4" cy="190.6" r="1.07" opacity="0.96"/>
</g>
</g>
<clipPath id="c12"><rect x="382.80" y="141.80" width="57.00" height="56.50"/></clipPath>
<g clip-path="url(#c12)">
<rect x="382.80" y="141.80" width="57.00" height="56.50" fill="#030108"/>
<g fill="#2424f0" filter="url(#b1)">
<ellipse cx="384.6" cy="149.0" rx="2.94" ry="1.90" opacity="0.71" transform="rotate(55 384.6 149.0)"/>
<ellipse cx="405.4" cy="180.0" rx="2.26" ry="1.64" opacity="0.68" transform="rotate(121 405.4 180.0)"/>
<ellipse cx="391.5" cy="149.0" rx="2.20" ry="1.33" opacity="0.89" transform="rotate(108 391.5 149.0)"/>
<ellipse cx="396.6" cy="184.0" rx="1.62" ry="1.27" opacity="0.88" transform="rotate(164 396.6 184.0)"/>
<ellipse cx="392.0" cy="183.1" rx="2.16" ry="1.89" opacity="0.93" transform="rotate(82 392.0 183.1)"/>
<ellipse cx="420.2" cy="150.3" rx="2.35" ry="1.51" opacity="0.69" transform="rotate(101 420.2 150.3)"/>
<ellipse cx="413.3" cy="167.2" rx="2.14" ry="1.27" opacity="0.72" transform="rotate(21 413.3 167.2)"/>
<ellipse cx="406.5" cy="197.0" rx="2.15" ry="1.43" opacity="0.82" transform="rotate(154 406.5 197.0)"/>
<ellipse cx="389.0" cy="144.0" rx="2.40" ry="1.55" opacity="0.78" transform="rotate(50 389.0 144.0)"/>
<ellipse cx="435.4" cy="164.8" rx="2.35" ry="1.63" opacity="0.69" transform="rotate(7 435.4 164.8)"/>
<ellipse cx="394.8" cy="160.8" rx="1.95" ry="1.30" opacity="0.99" transform="rotate(125 394.8 160.8)"/>
<ellipse cx="403.9" cy="194.7" rx="2.05" ry="1.74" opacity="0.99" transform="rotate(138 403.9 194.7)"/>
<ellipse cx="395.4" cy="154.7" rx="1.46" ry="1.44" opacity="0.75" transform="rotate(68 395.4 154.7)"/>
<ellipse cx="415.9" cy="172.6" rx="1.37" ry="1.32" opacity="0.95" transform="rotate(22 415.9 172.6)"/>
<ellipse cx="436.1" cy="188.4" rx="1.77" ry="1.23" opacity="0.72" transform="rotate(37 436.1 188.4)"/>
<ellipse cx="403.4" cy="154.0" rx="2.15" ry="1.77" opacity="0.81" transform="rotate(33 403.4 154.0)"/>
<ellipse cx="429.7" cy="196.6" rx="2.31" ry="1.69" opacity="0.79" transform="rotate(155 429.7 196.6)"/>
<ellipse cx="385.6" cy="182.8" rx="2.35" ry="1.57" opacity="0.90" transform="rotate(83 385.6 182.8)"/>
<ellipse cx="431.5" cy="178.2" rx="1.67" ry="1.53" opacity="0.92" transform="rotate(22 431.5 178.2)"/>
<ellipse cx="395.9" cy="186.1" rx="2.86" ry="1.72" opacity="0.85" transform="rotate(124 395.9 186.1)"/>
<ellipse cx="423.9" cy="153.4" rx="2.10" ry="1.32" opacity="0.80" transform="rotate(21 423.9 153.4)"/>
<ellipse cx="419.0" cy="154.8" rx="1.64" ry="1.30" opacity="0.80" transform="rotate(55 419.0 154.8)"/>
<ellipse cx="386.2" cy="161.2" rx="2.34" ry="1.70" opacity="0.92" transform="rotate(44 386.2 161.2)"/>
<ellipse cx="402.2" cy="164.4" rx="2.71" ry="1.71" opacity="0.87" transform="rotate(6 402.2 164.4)"/>
<ellipse cx="419.3" cy="188.3" rx="2.16" ry="1.83" opacity="0.93" transform="rotate(36 419.3 188.3)"/>
<ellipse cx="436.5" cy="195.9" rx="1.86" ry="1.45" opacity="0.78" transform="rotate(147 436.5 195.9)"/>
</g>
<g fill="#b01a40" filter="url(#b2)">
<ellipse cx="394.8" cy="154.6" rx="2.26" ry="1.31" opacity="0.78" transform="rotate(90 394.8 154.6)"/>
<ellipse cx="402.9" cy="180.8" rx="1.45" ry="1.14" opacity="0.64" transform="rotate(6 402.9 180.8)"/>
<ellipse cx="404.1" cy="184.8" rx="1.96" ry="1.15" opacity="0.50" transform="rotate(1 404.1 184.8)"/>
<ellipse cx="387.5" cy="156.4" rx="2.54" ry="1.19" opacity="0.77" transform="rotate(54 387.5 156.4)"/>
</g>
</g>
<clipPath id="c13"><rect x="441.90" y="141.80" width="57.00" height="56.50"/></clipPath>
<g clip-path="url(#c13)">
<rect x="441.90" y="141.80" width="57.00" height="56.50" fill="#07020a"/>
<g fill="#2626f0" filter="url(#b1)">
<ellipse cx="447.3" cy="154.5" rx="2.25" ry="1.72" opacity="0.78" transform="rotate(41 447.3 154.5)"/>
<ellipse cx="459.6" cy="191.8" rx="2.10" ry="1.88" opacity="0.83" transform="rotate(153 459.6 191.8)"/>
<ellipse cx="470.2" cy="182.0" rx="2.66" ry="1.78" opacity="0.70" transform="rotate(116 470.2 182.0)"/>
<ellipse cx="448.5" cy="170.5" rx="1.50" ry="1.50" opacity="0.98" transform="rotate(5 448.5 170.5)"/>
<ellipse cx="489.2" cy="171.3" rx="2.81" ry="1.77" opacity="0.76" transform="rotate(141 489.2 171.3)"/>
<ellipse cx="494.7" cy="190.8" rx="3.22" ry="2.07" opacity="0.68" transform="rotate(82 494.7 190.8)"/>
<ellipse cx="463.3" cy="143.0" rx="1.71" ry="1.55" opacity="0.68" transform="rotate(66 463.3 143.0)"/>
<ellipse cx="484.4" cy="149.8" rx="2.97" ry="1.87" opacity="0.92" transform="rotate(38 484.4 149.8)"/>
<ellipse cx="443.6" cy="182.6" rx="2.28" ry="1.77" opacity="0.78" transform="rotate(163 443.6 182.6)"/>
<ellipse cx="489.2" cy="188.3" rx="2.00" ry="1.96" opacity="0.71" transform="rotate(174 489.2 188.3)"/>
<ellipse cx="495.2" cy="153.9" rx="1.99" ry="1.30" opacity="0.89" transform="rotate(130 495.2 153.9)"/>
<ellipse cx="447.5" cy="149.5" rx="2.35" ry="1.91" opacity="0.76" transform="rotate(21 447.5 149.5)"/>
<ellipse cx="496.5" cy="149.0" rx="3.28" ry="2.06" opacity="0.80" transform="rotate(41 496.5 149.0)"/>
<ellipse cx="451.8" cy="144.0" rx="2.56" ry="1.66" opacity="0.94" transform="rotate(1 451.8 144.0)"/>
<ellipse cx="445.7" cy="145.0" rx="2.00" ry="1.50" opacity="0.68" transform="rotate(23 445.7 145.0)"/>
<ellipse cx="462.4" cy="151.8" rx="2.61" ry="2.01" opacity="0.95" transform="rotate(175 462.4 151.8)"/>
<ellipse cx="460.0" cy="193.3" rx="1.99" ry="1.90" opacity="1.00" transform="rotate(106 460.0 193.3)"/>
<ellipse cx="452.2" cy="187.1" rx="1.77" ry="1.70" opacity="1.00" transform="rotate(33 452.2 187.1)"/>
<ellipse cx="483.4" cy="173.8" rx="2.39" ry="2.08" opacity="0.90" transform="rotate(57 483.4 173.8)"/>
<ellipse cx="474.5" cy="184.7" rx="1.90" ry="1.71" opacity="0.87" transform="rotate(177 474.5 184.7)"/>
<ellipse cx="475.2" cy="155.4" rx="1.61" ry="1.59" opacity="0.91" transform="rotate(92 475.2 155.4)"/>
<ellipse cx="461.1" cy="156.2" rx="1.52" ry="1.44" opacity="0.97" transform="rotate(130 461.1 156.2)"/>
<ellipse cx="465.0" cy="196.5" rx="2.06" ry="1.60" opacity="0.83" transform="rotate(115 465.0 196.5)"/>
<ellipse cx="466.4" cy="146.7" rx="1.63" ry="1.40" opacity="0.72" transform="rotate(37 466.4 146.7)"/>
<ellipse cx="469.1" cy="187.0" rx="1.69" ry="1.37" opacity="0.95" transform="rotate(39 469.1 187.0)"/>
<ellipse cx="467.4" cy="181.0" rx="2.46" ry="1.56" opacity="0.74" transform="rotate(146 467.4 181.0)"/>
<ellipse cx="448.0" cy="146.3" rx="1.91" ry="1.42" opacity="0.84" transform="rotate(85 448.0 146.3)"/>
<ellipse cx="479.3" cy="145.5" rx="1.84" ry="1.40" opacity="0.81" transform="rotate(137 479.3 145.5)"/>
<ellipse cx="459.6" cy="163.8" rx="2.34" ry="1.50" opacity="1.00" transform="rotate(53 459.6 163.8)"/>
<ellipse cx="453.6" cy="144.9" rx="1.85" ry="1.85" opacity="0.70" transform="rotate(81 453.6 144.9)"/>
<ellipse cx="443.4" cy="194.5" rx="2.42" ry="1.93" opacity="0.98" transform="rotate(15 443.4 194.5)"/>
<ellipse cx="480.7" cy="194.6" rx="2.65" ry="1.94" opacity="0.68" transform="rotate(102 480.7 194.6)"/>
<ellipse cx="469.9" cy="194.7" rx="2.46" ry="2.09" opacity="0.82" transform="rotate(94 469.9 194.7)"/>
<ellipse cx="490.2" cy="176.5" rx="1.70" ry="1.68" opacity="0.82" transform="rotate(161 490.2 176.5)"/>
</g>
<g fill="#b0208a" filter="url(#b2)">
<ellipse cx="464.6" cy="189.6" rx="3.25" ry="1.41" opacity="0.48" transform="rotate(125 464.6 189.6)"/>
<ellipse cx="490.1" cy="181.9" rx="2.09" ry="1.37" opacity="0.69" transform="rotate(75 490.1 181.9)"/>
<ellipse cx="492.7" cy="161.9" rx="2.14" ry="1.10" opacity="0.48" transform="rotate(169 492.7 161.9)"/>
<ellipse cx="448.8" cy="161.8" rx="3.12" ry="1.51" opacity="0.72" transform="rotate(73 448.8 161.8)"/>
<ellipse cx="476.0" cy="185.6" rx="1.30" ry="1.05" opacity="0.67" transform="rotate(180 476.0 185.6)"/>
<ellipse cx="483.2" cy="177.1" rx="1.31" ry="1.10" opacity="0.64" transform="rotate(80 483.2 177.1)"/>
<ellipse cx="475.9" cy="179.1" rx="2.04" ry="1.59" opacity="0.60" transform="rotate(114 475.9 179.1)"/>
<ellipse cx="474.5" cy="143.8" rx="3.22" ry="1.33" opacity="0.74" transform="rotate(21 474.5 143.8)"/>
<ellipse cx="473.0" cy="157.9" rx="2.02" ry="1.44" opacity="0.71" transform="rotate(22 473.0 157.9)"/>
<ellipse cx="447.0" cy="176.1" rx="2.30" ry="1.51" opacity="0.64" transform="rotate(25 447.0 176.1)"/>
<ellipse cx="489.1" cy="158.3" rx="2.16" ry="1.40" opacity="0.49" transform="rotate(74 489.1 158.3)"/>
<ellipse cx="479.7" cy="176.9" rx="1.45" ry="1.08" opacity="0.49" transform="rotate(136 479.7 176.9)"/>
</g>
</g>
<clipPath id="c14"><rect x="501.00" y="141.80" width="57.00" height="56.50"/></clipPath>
<g clip-path="url(#c14)">
<rect x="501.00" y="141.80" width="57.00" height="56.50" fill="#070410"/>
<g fill="#1c5cb4" filter="url(#b2)">
<ellipse cx="533.3" cy="177.2" rx="3.28" ry="0.96" opacity="0.54" transform="rotate(85 533.3 177.2)"/>
<ellipse cx="546.8" cy="158.0" rx="3.73" ry="0.92" opacity="0.43" transform="rotate(55 546.8 158.0)"/>
<ellipse cx="537.8" cy="191.2" rx="2.91" ry="0.89" opacity="0.44" transform="rotate(140 537.8 191.2)"/>
<ellipse cx="551.9" cy="153.0" rx="2.65" ry="1.05" opacity="0.58" transform="rotate(98 551.9 153.0)"/>
<ellipse cx="537.8" cy="176.4" rx="3.53" ry="0.83" opacity="0.47" transform="rotate(126 537.8 176.4)"/>
<ellipse cx="529.7" cy="195.3" rx="3.34" ry="0.90" opacity="0.43" transform="rotate(6 529.7 195.3)"/>
<ellipse cx="531.0" cy="167.1" rx="3.72" ry="0.94" opacity="0.57" transform="rotate(83 531.0 167.1)"/>
<ellipse cx="553.8" cy="177.4" rx="2.73" ry="0.90" opacity="0.78" transform="rotate(158 553.8 177.4)"/>
<ellipse cx="518.6" cy="159.7" rx="2.27" ry="0.89" opacity="0.72" transform="rotate(71 518.6 159.7)"/>
<ellipse cx="529.3" cy="145.8" rx="2.25" ry="0.83" opacity="0.68" transform="rotate(33 529.3 145.8)"/>
<ellipse cx="535.4" cy="182.8" rx="2.92" ry="0.95" opacity="0.70" transform="rotate(112 535.4 182.8)"/>
<ellipse cx="525.5" cy="188.8" rx="4.52" ry="1.09" opacity="0.72" transform="rotate(78 525.5 188.8)"/>
<ellipse cx="552.9" cy="173.1" rx="4.54" ry="1.07" opacity="0.63" transform="rotate(135 552.9 173.1)"/>
<ellipse cx="539.4" cy="149.3" rx="3.80" ry="0.90" opacity="0.69" transform="rotate(113 539.4 149.3)"/>
<ellipse cx="505.2" cy="196.1" rx="2.12" ry="0.79" opacity="0.63" transform="rotate(49 505.2 196.1)"/>
<ellipse cx="517.7" cy="154.5" rx="2.69" ry="0.93" opacity="0.78" transform="rotate(34 517.7 154.5)"/>
<ellipse cx="551.2" cy="183.6" rx="3.17" ry="0.73" opacity="0.63" transform="rotate(139 551.2 183.6)"/>
<ellipse cx="508.9" cy="160.4" rx="4.24" ry="1.10" opacity="0.78" transform="rotate(1 508.9 160.4)"/>
<ellipse cx="515.4" cy="157.7" rx="3.75" ry="0.87" opacity="0.46" transform="rotate(146 515.4 157.7)"/>
<ellipse cx="502.5" cy="171.4" rx="1.82" ry="0.72" opacity="0.72" transform="rotate(141 502.5 171.4)"/>
<ellipse cx="518.8" cy="164.3" rx="2.16" ry="0.79" opacity="0.72" transform="rotate(66 518.8 164.3)"/>
<ellipse cx="512.3" cy="148.9" rx="4.22" ry="1.00" opacity="0.70" transform="rotate(174 512.3 148.9)"/>
<ellipse cx="503.9" cy="190.3" rx="2.62" ry="1.03" opacity="0.74" transform="rotate(1 503.9 190.3)"/>
<ellipse cx="543.0" cy="173.3" rx="2.99" ry="0.95" opacity="0.53" transform="rotate(23 543.0 173.3)"/>
<ellipse cx="508.9" cy="151.0" rx="2.92" ry="0.84" opacity="0.48" transform="rotate(81 508.9 151.0)"/>
<ellipse cx="508.7" cy="160.1" rx="2.13" ry="0.73" opacity="0.44" transform="rotate(23 508.7 160.1)"/>
<ellipse cx="505.3" cy="157.9" rx="2.39" ry="0.87" opacity="0.62" transform="rotate(144 505.3 157.9)"/>
<ellipse cx="513.2" cy="153.4" rx="3.34" ry="0.88" opacity="0.41" transform="rotate(42 513.2 153.4)"/>
</g>
<g fill="#2834f4" filter="url(#b1)">
<ellipse cx="506.4" cy="161.2" rx="1.94" ry="1.83" opacity="0.83" transform="rotate(24 506.4 161.2)"/>
<ellipse cx="521.9" cy="156.6" rx="3.00" ry="1.93" opacity="0.68" transform="rotate(102 521.9 156.6)"/>
<ellipse cx="518.9" cy="188.2" rx="3.05" ry="1.91" opacity="0.84" transform="rotate(162 518.9 188.2)"/>
<ellipse cx="502.6" cy="167.3" rx="2.12" ry="1.57" opacity="1.00" transform="rotate(142 502.6 167.3)"/>
<ellipse cx="523.1" cy="158.2" rx="2.15" ry="1.65" opacity="0.84" transform="rotate(56 523.1 158.2)"/>
<ellipse cx="541.8" cy="155.1" rx="1.97" ry="1.68" opacity="0.97" transform="rotate(82 541.8 155.1)"/>
<ellipse cx="504.5" cy="151.6" rx="1.69" ry="1.47" opacity="0.95" transform="rotate(55 504.5 151.6)"/>
<ellipse cx="555.7" cy="161.7" rx="2.26" ry="1.51" opacity="0.96" transform="rotate(167 555.7 161.7)"/>
<ellipse cx="508.5" cy="195.6" rx="2.08" ry="1.86" opacity="0.94" transform="rotate(81 508.5 195.6)"/>
<ellipse cx="537.4" cy="194.8" rx="2.00" ry="1.47" opacity="0.98" transform="rotate(157 537.4 194.8)"/>
<ellipse cx="520.3" cy="186.9" rx="1.66" ry="1.55" opacity="0.76" transform="rotate(6 520.3 186.9)"/>
<ellipse cx="504.4" cy="155.8" rx="1.97" ry="1.68" opacity="0.88" transform="rotate(148 504.4 155.8)"/>
<ellipse cx="545.6" cy="170.9" rx="2.60" ry="1.73" opacity="0.88" transform="rotate(59 545.6 170.9)"/>
<ellipse cx="545.3" cy="163.9" rx="1.81" ry="1.55" opacity="0.93" transform="rotate(21 545.3 163.9)"/>
<ellipse cx="550.1" cy="147.1" rx="1.97" ry="1.93" opacity="0.67" transform="rotate(129 550.1 147.1)"/>
<ellipse cx="536.3" cy="153.2" rx="1.89" ry="1.59" opacity="0.80" transform="rotate(163 536.3 153.2)"/>
<ellipse cx="513.1" cy="190.8" rx="2.01" ry="1.66" opacity="0.74" transform="rotate(46 513.1 190.8)"/>
<ellipse cx="525.7" cy="187.0" rx="1.36" ry="1.34" opacity="0.91" transform="rotate(99 525.7 187.0)"/>
<ellipse cx="517.7" cy="182.5" rx="2.04" ry="1.77" opacity="0.68" transform="rotate(178 517.7 182.5)"/>
<ellipse cx="551.8" cy="176.9" rx="1.92" ry="1.60" opacity="0.99" transform="rotate(32 551.8 176.9)"/>
<ellipse cx="515.0" cy="179.2" rx="1.94" ry="1.80" opacity="0.93" transform="rotate(32 515.0 179.2)"/>
<ellipse cx="554.2" cy="186.4" rx="1.84" ry="1.56" opacity="0.76" transform="rotate(53 554.2 186.4)"/>
<ellipse cx="526.4" cy="164.6" rx="2.03" ry="1.71" opacity="0.67" transform="rotate(107 526.4 164.6)"/>
<ellipse cx="507.5" cy="184.6" rx="2.26" ry="1.67" opacity="0.95" transform="rotate(58 507.5 184.6)"/>
<ellipse cx="510.8" cy="154.8" rx="2.72" ry="1.95" opacity="0.71" transform="rotate(74 510.8 154.8)"/>
<ellipse cx="504.0" cy="151.8" rx="2.04" ry="1.74" opacity="0.84" transform="rotate(30 504.0 151.8)"/>
<ellipse cx="523.1" cy="168.8" rx="1.99" ry="1.44" opacity="0.65" transform="rotate(137 523.1 168.8)"/>
<ellipse cx="511.7" cy="166.0" rx="1.94" ry="1.74" opacity="0.90" transform="rotate(61 511.7 166.0)"/>
</g>
<g fill="#b0208a" filter="url(#b2)">
<ellipse cx="555.0" cy="160.0" rx="2.83" ry="1.37" opacity="0.78" transform="rotate(134 555.0 160.0)"/>
<ellipse cx="543.4" cy="161.7" rx="3.18" ry="1.37" opacity="0.61" transform="rotate(133 543.4 161.7)"/>
<ellipse cx="553.6" cy="152.4" rx="2.29" ry="1.48" opacity="0.76" transform="rotate(149 553.6 152.4)"/>
<ellipse cx="538.5" cy="147.4" rx="3.64" ry="1.54" opacity="0.65" transform="rotate(125 538.5 147.4)"/>
<ellipse cx="532.8" cy="183.2" rx="2.30" ry="1.17" opacity="0.61" transform="rotate(161 532.8 183.2)"/>
<ellipse cx="552.1" cy="184.4" rx="2.41" ry="1.13" opacity="0.56" transform="rotate(164 552.1 184.4)"/>
<ellipse cx="532.2" cy="164.6" rx="1.27" ry="1.08" opacity="0.75" transform="rotate(99 532.2 164.6)"/>
<ellipse cx="536.6" cy="178.1" rx="2.51" ry="1.15" opacity="0.56" transform="rotate(8 536.6 178.1)"/>
</g>
<g fill="#40c848" filter="url(#b1)">
<circle cx="532.2" cy="184.6" r="0.70" opacity="0.88"/>
<circle cx="521.5" cy="163.1" r="0.71" opacity="0.60"/>
<circle cx="512.4" cy="161.6" r="0.76" opacity="0.68"/>
<circle cx="514.9" cy="197.8" r="0.76" opacity="0.76"/>
<circle cx="545.6" cy="182.2" r="0.83" opacity="0.82"/>
<circle cx="536.0" cy="147.3" r="0.67" opacity="0.76"/>
<circle cx="515.6" cy="162.4" r="0.85" opacity="0.69"/>
<circle cx="507.5" cy="160.7" r="0.57" opacity="0.61"/>
</g>
</g>
<clipPath id="c15"><rect x="560.10" y="141.80" width="57.00" height="56.50"/></clipPath>
<g clip-path="url(#c15)">
<rect x="560.10" y="141.80" width="57.00" height="56.50" fill="#04020a"/>
<g fill="#2c2cf0" filter="url(#b1)">
<ellipse cx="590.2" cy="174.7" rx="2.57" ry="1.79" opacity="0.91" transform="rotate(12 590.2 174.7)"/>
<ellipse cx="607.4" cy="191.7" rx="1.82" ry="1.57" opacity="0.91" transform="rotate(139 607.4 191.7)"/>
<ellipse cx="609.5" cy="162.7" rx="1.86" ry="1.57" opacity="0.98" transform="rotate(50 609.5 162.7)"/>
<ellipse cx="613.2" cy="165.9" rx="2.02" ry="1.79" opacity="0.67" transform="rotate(96 613.2 165.9)"/>
<ellipse cx="578.0" cy="148.1" rx="1.90" ry="1.52" opacity="0.95" transform="rotate(175 578.0 148.1)"/>
<ellipse cx="589.2" cy="151.3" rx="2.40" ry="1.74" opacity="0.89" transform="rotate(45 589.2 151.3)"/>
<ellipse cx="576.2" cy="176.0" rx="2.26" ry="2.10" opacity="0.99" transform="rotate(168 576.2 176.0)"/>
<ellipse cx="603.7" cy="183.8" rx="2.24" ry="1.59" opacity="0.70" transform="rotate(178 603.7 183.8)"/>
<ellipse cx="566.0" cy="146.3" rx="2.17" ry="1.67" opacity="0.74" transform="rotate(143 566.0 146.3)"/>
<ellipse cx="575.2" cy="172.9" rx="2.57" ry="1.90" opacity="0.91" transform="rotate(154 575.2 172.9)"/>
<ellipse cx="607.1" cy="186.3" rx="2.59" ry="1.99" opacity="0.81" transform="rotate(98 607.1 186.3)"/>
<ellipse cx="612.3" cy="174.9" rx="2.00" ry="1.63" opacity="0.79" transform="rotate(89 612.3 174.9)"/>
<ellipse cx="596.1" cy="158.8" rx="1.70" ry="1.42" opacity="0.76" transform="rotate(170 596.1 158.8)"/>
<ellipse cx="578.4" cy="154.1" rx="2.95" ry="2.09" opacity="0.73" transform="rotate(82 578.4 154.1)"/>
<ellipse cx="590.5" cy="175.9" rx="2.96" ry="2.00" opacity="0.88" transform="rotate(56 590.5 175.9)"/>
<ellipse cx="592.6" cy="164.2" rx="2.49" ry="1.90" opacity="0.73" transform="rotate(22 592.6 164.2)"/>
<ellipse cx="584.4" cy="156.4" rx="2.47" ry="1.88" opacity="0.75" transform="rotate(121 584.4 156.4)"/>
<ellipse cx="605.8" cy="174.4" rx="2.78" ry="2.00" opacity="0.95" transform="rotate(87 605.8 174.4)"/>
<ellipse cx="602.2" cy="187.0" rx="1.95" ry="1.54" opacity="0.99" transform="rotate(94 602.2 187.0)"/>
<ellipse cx="576.6" cy="149.3" rx="2.40" ry="2.05" opacity="0.75" transform="rotate(140 576.6 149.3)"/>
<ellipse cx="576.7" cy="192.1" rx="2.90" ry="2.01" opacity="0.66" transform="rotate(123 576.7 192.1)"/>
<ellipse cx="604.6" cy="164.9" rx="1.68" ry="1.54" opacity="0.66" transform="rotate(91 604.6 164.9)"/>
<ellipse cx="603.7" cy="161.5" rx="1.42" ry="1.35" opacity="0.86" transform="rotate(156 603.7 161.5)"/>
<ellipse cx="608.6" cy="147.8" rx="2.93" ry="1.99" opacity="0.95" transform="rotate(102 608.6 147.8)"/>
<ellipse cx="601.8" cy="196.1" rx="2.15" ry="1.65" opacity="0.81" transform="rotate(30 601.8 196.1)"/>
<ellipse cx="584.2" cy="168.0" rx="1.70" ry="1.38" opacity="1.00" transform="rotate(173 584.2 168.0)"/>
<ellipse cx="568.4" cy="157.9" rx="1.94" ry="1.90" opacity="0.84" transform="rotate(178 568.4 157.9)"/>
<ellipse cx="574.0" cy="159.0" rx="2.21" ry="1.84" opacity="0.76" transform="rotate(140 574.0 159.0)"/>
<ellipse cx="565.0" cy="159.2" rx="1.71" ry="1.39" opacity="0.73" transform="rotate(34 565.0 159.2)"/>
<ellipse cx="566.9" cy="171.4" rx="1.97" ry="1.46" opacity="0.73" transform="rotate(123 566.9 171.4)"/>
<ellipse cx="583.5" cy="155.3" rx="1.88" ry="1.85" opacity="0.73" transform="rotate(170 583.5 155.3)"/>
<ellipse cx="612.9" cy="159.7" rx="2.03" ry="1.71" opacity="0.80" transform="rotate(154 612.9 159.7)"/>
<ellipse cx="590.3" cy="191.5" rx="2.05" ry="1.43" opacity="0.74" transform="rotate(105 590.3 191.5)"/>
<ellipse cx="602.7" cy="195.3" rx="2.71" ry="1.87" opacity="0.93" transform="rotate(134 602.7 195.3)"/>
</g>
<g fill="#c030b0" filter="url(#b2)">
<ellipse cx="580.6" cy="155.7" rx="1.99" ry="1.37" opacity="0.76" transform="rotate(6 580.6 155.7)"/>
<ellipse cx="564.2" cy="191.6" rx="2.14" ry="1.02" opacity="0.80" transform="rotate(50 564.2 191.6)"/>
<ellipse cx="574.0" cy="162.9" rx="1.78" ry="1.04" opacity="0.69" transform="rotate(176 574.0 162.9)"/>
<ellipse cx="605.2" cy="149.0" rx="2.44" ry="1.37" opacity="0.64" transform="rotate(107 605.2 149.0)"/>
<ellipse cx="612.1" cy="173.4" rx="1.67" ry="1.16" opacity="0.61" transform="rotate(151 612.1 173.4)"/>
<ellipse cx="570.6" cy="186.9" rx="3.42" ry="1.42" opacity="0.80" transform="rotate(167 570.6 186.9)"/>
<ellipse cx="597.9" cy="146.4" rx="3.04" ry="1.54" opacity="0.54" transform="rotate(97 597.9 146.4)"/>
<ellipse cx="587.9" cy="181.5" rx="1.51" ry="1.04" opacity="0.67" transform="rotate(87 587.9 181.5)"/>
<ellipse cx="576.2" cy="161.1" rx="1.89" ry="1.01" opacity="0.64" transform="rotate(64 576.2 161.1)"/>
<ellipse cx="608.1" cy="150.6" rx="2.28" ry="1.05" opacity="0.76" transform="rotate(144 608.1 150.6)"/>
<ellipse cx="575.0" cy="149.6" rx="1.10" ry="1.07" opacity="0.72" transform="rotate(172 575.0 149.6)"/>
<ellipse cx="587.9" cy="167.1" rx="2.53" ry="1.57" opacity="0.54" transform="rotate(143 587.9 167.1)"/>
<ellipse cx="576.3" cy="148.0" rx="2.12" ry="1.05" opacity="0.62" transform="rotate(121 576.3 148.0)"/>
<ellipse cx="568.0" cy="183.9" rx="2.56" ry="1.32" opacity="0.50" transform="rotate(42 568.0 183.9)"/>
<ellipse cx="593.0" cy="186.4" rx="1.80" ry="1.28" opacity="0.57" transform="rotate(173 593.0 186.4)"/>
<ellipse cx="567.4" cy="194.6" rx="1.76" ry="1.32" opacity="0.57" transform="rotate(76 567.4 194.6)"/>
<ellipse cx="599.0" cy="174.2" rx="2.40" ry="1.13" opacity="0.73" transform="rotate(134 599.0 174.2)"/>
<ellipse cx="606.5" cy="146.9" rx="3.89" ry="1.60" opacity="0.81" transform="rotate(94 606.5 146.9)"/>
</g>
</g>
<text x="588.70" y="33.80" font-size="9.4" fill="#f4f4f4" text-anchor="middle" stroke="#f4f4f4" stroke-width="0.12">+MMP9</text>
<rect x="601" y="193.5" width="13.6" height="0.6" fill="#6a6a6a"/>
<text x="67.20" y="221.20" font-size="9.4" fill="#222" text-anchor="middle" stroke="#222" stroke-width="0.12">PBS</text>
<text x="129.80" y="219.90" font-size="9.8" fill="#222" text-anchor="middle" stroke="#222" stroke-width="0.12">aT</text>
<text x="196.90" y="219.90" font-size="9.1" fill="#222" text-anchor="middle" stroke="#222" stroke-width="0.12">Exo</text>
<text x="259.20" y="219.90" font-size="9.2" fill="#222" text-anchor="middle" stroke="#222" stroke-width="0.12">aT+Exo</text>
<text x="325.90" y="219.90" font-size="9.2" fill="#222" text-anchor="middle" stroke="#222" stroke-width="0.12">aT-Exo</text>
<text x="31.00" y="258.00" font-size="8.35" fill="#d85456" text-anchor="middle" stroke="#d85456" stroke-width="0.12" transform="rotate(-90 31.00 258.00)">Dead cells</text>
<text x="31.00" y="321.60" font-size="8.45" fill="#86d486" text-anchor="middle" stroke="#86d486" stroke-width="0.12" transform="rotate(-90 31.00 321.60)">Live cells</text>
<text x="31.00" y="384.00" font-size="7.9" fill="#222" text-anchor="middle" stroke="#222" stroke-width="0.12" transform="rotate(-90 31.00 384.00)">Merge</text>
<clipPath id="c16"><rect x="36.80" y="227.00" width="61.70" height="61.80"/></clipPath>
<g clip-path="url(#c16)">
<rect x="36.80" y="227.00" width="61.70" height="61.80" fill="#030000"/>
<g fill="#e03c2a">
<circle cx="65.1" cy="281.3" r="0.36" opacity="0.71"/>
<circle cx="96.1" cy="268.1" r="0.38" opacity="0.74"/>
<circle cx="91.1" cy="254.2" r="0.36" opacity="0.96"/>
<circle cx="44.8" cy="266.6" r="0.50" opacity="0.78"/>
<circle cx="96.2" cy="237.9" r="0.50" opacity="0.65"/>
<circle cx="96.4" cy="235.9" r="0.48" opacity="0.93"/>
<circle cx="91.3" cy="233.0" r="0.57" opacity="0.94"/>
<circle cx="56.3" cy="273.8" r="0.41" opacity="0.66"/>
<circle cx="46.8" cy="246.1" r="0.56" opacity="0.78"/>
<circle cx="97.8" cy="282.2" r="0.40" opacity="0.77"/>
<circle cx="40.8" cy="263.1" r="0.50" opacity="0.83"/>
<circle cx="42.3" cy="264.8" r="0.38" opacity="0.94"/>
<circle cx="65.3" cy="233.1" r="0.59" opacity="0.98"/>
<circle cx="57.3" cy="284.4" r="0.42" opacity="0.81"/>
<circle cx="72.1" cy="275.9" r="0.37" opacity="0.61"/>
<circle cx="46.0" cy="250.8" r="0.55" opacity="0.89"/>
<circle cx="43.5" cy="272.4" r="0.40" opacity="0.61"/>
<circle cx="66.4" cy="283.2" r="0.58" opacity="0.78"/>
<circle cx="86.1" cy="239.0" r="0.39" opacity="0.98"/>
<circle cx="78.2" cy="237.7" r="0.43" opacity="0.91"/>
<circle cx="40.3" cy="238.5" r="0.55" opacity="0.69"/>
<circle cx="62.7" cy="253.6" r="0.47" opacity="0.72"/>
<circle cx="52.1" cy="276.5" r="0.54" opacity="0.98"/>
<circle cx="39.4" cy="236.8" r="0.56" opacity="0.72"/>
<circle cx="85.7" cy="245.7" r="0.45" opacity="0.87"/>
<circle cx="63.1" cy="259.4" r="0.36" opacity="0.94"/>
<circle cx="75.0" cy="242.8" r="0.47" opacity="0.86"/>
<circle cx="94.4" cy="228.4" r="0.58" opacity="0.84"/>
<circle cx="39.3" cy="249.6" r="0.53" opacity="0.64"/>
<circle cx="73.1" cy="261.7" r="0.49" opacity="0.61"/>
<circle cx="38.0" cy="286.6" r="0.39" opacity="0.67"/>
<circle cx="71.9" cy="228.1" r="0.53" opacity="0.91"/>
<circle cx="57.6" cy="264.2" r="0.47" opacity="0.87"/>
<circle cx="47.6" cy="228.8" r="0.37" opacity="0.97"/>
<circle cx="97.6" cy="243.3" r="0.53" opacity="0.69"/>
<circle cx="73.7" cy="251.1" r="0.49" opacity="0.96"/>
<circle cx="90.7" cy="284.6" r="0.56" opacity="0.79"/>
<circle cx="49.1" cy="278.2" r="0.51" opacity="0.66"/>
<circle cx="61.0" cy="230.2" r="0.54" opacity="0.98"/>
<circle cx="37.4" cy="266.0" r="0.57" opacity="0.96"/>
<circle cx="81.8" cy="234.4" r="0.49" opacity="0.74"/>
<circle cx="72.6" cy="249.1" r="0.40" opacity="0.84"/>
<circle cx="44.0" cy="235.3" r="0.51" opacity="0.90"/>
<circle cx="44.1" cy="231.2" r="0.46" opacity="0.64"/>
<circle cx="95.0" cy="245.2" r="0.35" opacity="0.79"/>
<circle cx="70.0" cy="253.7" r="0.49" opacity="0.63"/>
<circle cx="46.5" cy="263.9" r="0.36" opacity="0.78"/>
<circle cx="51.5" cy="273.7" r="0.48" opacity="0.84"/>
<circle cx="55.1" cy="257.5" r="0.47" opacity="0.79"/>
<circle cx="74.3" cy="257.7" r="0.54" opacity="0.77"/>
<circle cx="50.9" cy="230.1" r="0.37" opacity="0.60"/>
<circle cx="42.0" cy="270.0" r="0.51" opacity="0.72"/>
<circle cx="88.5" cy="242.1" r="0.45" opacity="0.88"/>
<circle cx="49.1" cy="252.9" r="0.43" opacity="0.88"/>
<circle cx="47.4" cy="253.3" r="0.53" opacity="0.88"/>
<circle cx="95.6" cy="252.4" r="0.49" opacity="0.68"/>
<circle cx="56.9" cy="273.8" r="0.59" opacity="0.75"/>
<circle cx="43.4" cy="269.1" r="0.37" opacity="0.71"/>
<circle cx="40.3" cy="266.3" r="0.54" opacity="0.65"/>
<circle cx="81.7" cy="247.1" r="0.46" opacity="0.82"/>
<circle cx="67.9" cy="261.8" r="0.43" opacity="0.79"/>
<circle cx="91.6" cy="239.9" r="0.47" opacity="0.70"/>
<circle cx="57.7" cy="239.5" r="0.55" opacity="0.79"/>
<circle cx="39.3" cy="277.3" r="0.46" opacity="0.67"/>
<circle cx="73.0" cy="235.9" r="0.49" opacity="0.88"/>
<circle cx="61.0" cy="245.4" r="0.45" opacity="0.66"/>
<circle cx="78.3" cy="246.1" r="0.40" opacity="0.94"/>
<circle cx="89.7" cy="238.2" r="0.51" opacity="0.66"/>
<circle cx="53.6" cy="251.3" r="0.37" opacity="0.60"/>
<circle cx="87.3" cy="249.3" r="0.44" opacity="0.67"/>
</g>
</g>
<clipPath id="c17"><rect x="101.55" y="227.00" width="61.70" height="61.80"/></clipPath>
<g clip-path="url(#c17)">
<rect x="101.55" y="227.00" width="61.70" height="61.80" fill="#070100"/>
<g fill="#e03c2a">
<circle cx="125.1" cy="241.3" r="0.39" opacity="0.97"/>
<circle cx="137.2" cy="269.7" r="0.49" opacity="0.75"/>
<circle cx="146.7" cy="262.6" r="0.55" opacity="0.86"/>
<circle cx="153.3" cy="254.2" r="0.39" opacity="0.66"/>
<circle cx="146.2" cy="237.4" r="0.51" opacity="0.85"/>
<circle cx="105.2" cy="275.5" r="0.36" opacity="0.95"/>
<circle cx="153.4" cy="240.3" r="0.53" opacity="0.89"/>
<circle cx="109.3" cy="268.4" r="0.38" opacity="0.97"/>
<circle cx="144.1" cy="287.6" r="0.36" opacity="0.73"/>
<circle cx="139.8" cy="264.6" r="0.40" opacity="0.96"/>
<circle cx="153.8" cy="245.6" r="0.39" opacity="0.87"/>
<circle cx="126.7" cy="268.0" r="0.47" opacity="0.76"/>
<circle cx="102.9" cy="235.3" r="0.46" opacity="0.89"/>
<circle cx="127.8" cy="273.0" r="0.48" opacity="0.95"/>
<circle cx="142.0" cy="246.9" r="0.38" opacity="0.63"/>
<circle cx="104.0" cy="280.3" r="0.57" opacity="0.90"/>
<circle cx="108.3" cy="267.8" r="0.38" opacity="0.96"/>
<circle cx="142.0" cy="273.3" r="0.50" opacity="0.77"/>
<circle cx="153.9" cy="286.4" r="0.41" opacity="0.77"/>
<circle cx="146.8" cy="269.0" r="0.45" opacity="0.78"/>
<circle cx="161.3" cy="244.1" r="0.40" opacity="0.87"/>
<circle cx="118.6" cy="282.5" r="0.43" opacity="0.97"/>
<circle cx="125.0" cy="281.7" r="0.54" opacity="0.89"/>
<circle cx="114.8" cy="237.2" r="0.36" opacity="0.67"/>
<circle cx="142.7" cy="231.0" r="0.41" opacity="0.83"/>
<circle cx="111.1" cy="247.3" r="0.41" opacity="0.87"/>
<circle cx="108.9" cy="288.6" r="0.50" opacity="0.89"/>
<circle cx="135.6" cy="257.8" r="0.59" opacity="0.96"/>
<circle cx="152.3" cy="228.8" r="0.50" opacity="0.98"/>
<circle cx="140.9" cy="258.7" r="0.51" opacity="0.67"/>
<circle cx="146.4" cy="275.4" r="0.37" opacity="0.80"/>
<circle cx="138.3" cy="248.8" r="0.52" opacity="0.97"/>
<circle cx="157.5" cy="246.0" r="0.39" opacity="0.94"/>
<circle cx="139.3" cy="278.3" r="0.57" opacity="0.71"/>
<circle cx="137.8" cy="245.7" r="0.55" opacity="0.88"/>
<circle cx="116.3" cy="257.9" r="0.50" opacity="0.69"/>
<circle cx="112.8" cy="256.3" r="0.37" opacity="0.80"/>
<circle cx="159.5" cy="278.0" r="0.36" opacity="0.93"/>
<circle cx="145.8" cy="270.8" r="0.36" opacity="0.90"/>
<circle cx="113.6" cy="276.6" r="0.43" opacity="0.75"/>
<circle cx="112.2" cy="280.6" r="0.41" opacity="0.95"/>
<circle cx="133.3" cy="236.2" r="0.51" opacity="0.81"/>
<circle cx="103.2" cy="277.9" r="0.42" opacity="0.61"/>
<circle cx="148.8" cy="271.9" r="0.45" opacity="0.67"/>
<circle cx="134.1" cy="263.2" r="0.52" opacity="0.80"/>
</g>
</g>
<clipPath id="c18"><rect x="166.30" y="227.00" width="61.70" height="61.80"/></clipPath>
<g clip-path="url(#c18)">
<rect x="166.30" y="227.00" width="61.70" height="61.80" fill="#020000"/>
<g fill="#e03c2a">
<circle cx="205.8" cy="228.5" r="0.42" opacity="0.69"/>
<circle cx="211.7" cy="268.8" r="0.57" opacity="0.63"/>
<circle cx="192.3" cy="228.8" r="0.40" opacity="0.80"/>
<circle cx="167.9" cy="239.3" r="0.51" opacity="0.82"/>
<circle cx="179.9" cy="263.4" r="0.55" opacity="0.60"/>
<circle cx="216.0" cy="270.1" r="0.44" opacity="0.66"/>
<circle cx="225.4" cy="247.8" r="0.37" opacity="0.64"/>
<circle cx="218.6" cy="264.3" r="0.55" opacity="0.89"/>
<circle cx="199.4" cy="287.1" r="0.44" opacity="0.82"/>
<circle cx="217.5" cy="265.2" r="0.57" opacity="0.83"/>
<circle cx="209.8" cy="229.8" r="0.41" opacity="0.72"/>
<circle cx="171.2" cy="241.4" r="0.38" opacity="0.71"/>
<circle cx="205.5" cy="249.5" r="0.44" opacity="0.68"/>
<circle cx="182.8" cy="284.9" r="0.51" opacity="0.84"/>
<circle cx="176.9" cy="272.1" r="0.39" opacity="0.75"/>
<circle cx="227.4" cy="266.6" r="0.49" opacity="0.87"/>
<circle cx="218.3" cy="275.0" r="0.41" opacity="0.61"/>
<circle cx="185.8" cy="243.5" r="0.40" opacity="0.98"/>
<circle cx="220.4" cy="246.4" r="0.51" opacity="0.76"/>
<circle cx="222.7" cy="255.4" r="0.42" opacity="0.70"/>
<circle cx="200.9" cy="243.2" r="0.50" opacity="0.96"/>
<circle cx="190.9" cy="240.6" r="0.60" opacity="0.80"/>
</g>
</g>
<clipPath id="c19"><rect x="231.05" y="227.00" width="61.70" height="61.80"/></clipPath>
<g clip-path="url(#c19)">
<rect x="231.05" y="227.00" width="61.70" height="61.80" fill="#010000"/>
<g fill="#e03c2a">
<circle cx="233.4" cy="270.0" r="0.39" opacity="0.79"/>
<circle cx="272.5" cy="276.0" r="0.46" opacity="0.80"/>
<circle cx="232.2" cy="253.7" r="0.44" opacity="0.94"/>
<circle cx="264.8" cy="273.7" r="0.46" opacity="0.67"/>
<circle cx="283.5" cy="277.7" r="0.44" opacity="0.64"/>
<circle cx="262.7" cy="257.7" r="0.54" opacity="0.84"/>
<circle cx="262.3" cy="262.5" r="0.44" opacity="0.62"/>
<circle cx="234.8" cy="285.2" r="0.56" opacity="0.72"/>
<circle cx="285.9" cy="259.3" r="0.38" opacity="0.94"/>
<circle cx="267.1" cy="284.6" r="0.52" opacity="0.64"/>
<circle cx="269.5" cy="275.6" r="0.57" opacity="0.73"/>
<circle cx="263.7" cy="270.3" r="0.39" opacity="0.94"/>
</g>
</g>
<clipPath id="c20"><rect x="295.80" y="227.00" width="61.70" height="61.80"/></clipPath>
<g clip-path="url(#c20)">
<rect x="295.80" y="227.00" width="61.70" height="61.80" fill="#010000"/>
<g fill="#e03c2a">
<circle cx="321.0" cy="260.5" r="0.57" opacity="0.67"/>
<circle cx="309.7" cy="228.8" r="0.38" opacity="0.60"/>
<circle cx="305.5" cy="258.7" r="0.60" opacity="0.88"/>
<circle cx="319.1" cy="252.0" r="0.52" opacity="0.73"/>
<circle cx="300.3" cy="279.0" r="0.50" opacity="0.64"/>
<circle cx="300.1" cy="232.8" r="0.59" opacity="0.64"/>
<circle cx="334.4" cy="286.9" r="0.36" opacity="0.75"/>
<circle cx="325.2" cy="283.7" r="0.40" opacity="0.70"/>
<circle cx="311.1" cy="230.0" r="0.52" opacity="0.93"/>
<circle cx="322.7" cy="229.3" r="0.53" opacity="0.89"/>
<circle cx="336.1" cy="247.3" r="0.56" opacity="0.85"/>
<circle cx="332.2" cy="260.4" r="0.41" opacity="0.78"/>
</g>
</g>
<clipPath id="c21"><rect x="36.80" y="291.25" width="61.70" height="61.80"/></clipPath>
<g clip-path="url(#c21)">
<rect x="36.80" y="291.25" width="61.70" height="61.80" fill="#0a300c"/>
<rect x="36.80" y="291.25" width="61.70" height="61.80" filter="url(#gn1)"/>
</g>
<clipPath id="c22"><rect x="101.55" y="291.25" width="61.70" height="61.80"/></clipPath>
<g clip-path="url(#c22)">
<rect x="101.55" y="291.25" width="61.70" height="61.80" fill="#0a300c"/>
<rect x="101.55" y="291.25" width="61.70" height="61.80" filter="url(#gn1)"/>
</g>
<clipPath id="c23"><rect x="166.30" y="291.25" width="61.70" height="61.80"/></clipPath>
<g clip-path="url(#c23)">
<rect x="166.30" y="291.25" width="61.70" height="61.80" fill="#0a300c"/>
<rect x="166.30" y="291.25" width="61.70" height="61.80" filter="url(#gn1)"/>
</g>
<clipPath id="c24"><rect x="231.05" y="291.25" width="61.70" height="61.80"/></clipPath>
<g clip-path="url(#c24)">
<rect x="231.05" y="291.25" width="61.70" height="61.80" fill="#0a300c"/>
<rect x="231.05" y="291.25" width="61.70" height="61.80" filter="url(#gn1)"/>
</g>
<clipPath id="c25"><rect x="295.80" y="291.25" width="61.70" height="61.80"/></clipPath>
<g clip-path="url(#c25)">
<rect x="295.80" y="291.25" width="61.70" height="61.80" fill="#0a300c"/>
<rect x="295.80" y="291.25" width="61.70" height="61.80" filter="url(#gn1)"/>
</g>
<clipPath id="c26"><rect x="36.80" y="355.50" width="61.70" height="61.80"/></clipPath>
<g clip-path="url(#c26)">
<rect x="36.80" y="355.50" width="61.70" height="61.80" fill="#0a300c"/>
<rect x="36.80" y="355.50" width="61.70" height="61.80" filter="url(#gn2)"/>
<g fill="#e0a030">
<circle cx="67.5" cy="371.9" r="0.40" opacity="0.60"/>
<circle cx="66.0" cy="415.5" r="0.31" opacity="0.63"/>
<circle cx="78.5" cy="360.8" r="0.32" opacity="0.83"/>
<circle cx="97.2" cy="375.2" r="0.33" opacity="0.89"/>
<circle cx="57.1" cy="392.8" r="0.39" opacity="0.75"/>
<circle cx="93.3" cy="415.0" r="0.40" opacity="0.83"/>
<circle cx="85.8" cy="395.2" r="0.36" opacity="0.59"/>
<circle cx="53.2" cy="413.0" r="0.41" opacity="0.54"/>
<circle cx="93.0" cy="372.3" r="0.40" opacity="0.68"/>
<circle cx="53.4" cy="368.4" r="0.39" opacity="0.66"/>
<circle cx="75.3" cy="398.5" r="0.42" opacity="0.84"/>
<circle cx="75.4" cy="415.2" r="0.37" opacity="0.86"/>
<circle cx="87.1" cy="406.0" r="0.32" opacity="0.73"/>
<circle cx="68.7" cy="361.3" r="0.36" opacity="0.71"/>
<circle cx="37.2" cy="356.1" r="0.39" opacity="0.66"/>
<circle cx="97.2" cy="408.0" r="0.42" opacity="0.82"/>
<circle cx="50.6" cy="400.4" r="0.31" opacity="0.55"/>
<circle cx="60.0" cy="370.7" r="0.31" opacity="0.71"/>
<circle cx="96.4" cy="360.4" r="0.34" opacity="0.87"/>
<circle cx="69.4" cy="384.2" r="0.36" opacity="0.83"/>
<circle cx="65.8" cy="380.4" r="0.35" opacity="0.81"/>
<circle cx="38.0" cy="382.9" r="0.40" opacity="0.50"/>
<circle cx="56.3" cy="376.9" r="0.40" opacity="0.71"/>
<circle cx="67.5" cy="374.1" r="0.36" opacity="0.87"/>
<circle cx="43.7" cy="360.9" r="0.32" opacity="0.52"/>
<circle cx="45.6" cy="374.7" r="0.41" opacity="0.88"/>
<circle cx="37.8" cy="386.4" r="0.34" opacity="0.86"/>
<circle cx="98.2" cy="398.6" r="0.30" opacity="0.70"/>
<circle cx="63.5" cy="388.9" r="0.33" opacity="0.51"/>
<circle cx="74.1" cy="406.6" r="0.35" opacity="0.65"/>
<circle cx="39.5" cy="388.5" r="0.42" opacity="0.69"/>
<circle cx="44.6" cy="362.5" r="0.43" opacity="0.78"/>
<circle cx="52.6" cy="387.3" r="0.32" opacity="0.72"/>
<circle cx="38.5" cy="374.1" r="0.37" opacity="0.69"/>
<circle cx="55.0" cy="396.5" r="0.34" opacity="0.81"/>
</g>
</g>
<clipPath id="c27"><rect x="101.55" y="355.50" width="61.70" height="61.80"/></clipPath>
<g clip-path="url(#c27)">
<rect x="101.55" y="355.50" width="61.70" height="61.80" fill="#0a300c"/>
<rect x="101.55" y="355.50" width="61.70" height="61.80" filter="url(#gn2)"/>
<g fill="#e0a030">
<circle cx="116.6" cy="386.5" r="0.32" opacity="0.83"/>
<circle cx="115.8" cy="389.6" r="0.44" opacity="0.66"/>
<circle cx="161.3" cy="400.7" r="0.38" opacity="0.75"/>
<circle cx="137.7" cy="377.8" r="0.45" opacity="0.66"/>
<circle cx="162.3" cy="408.2" r="0.30" opacity="0.60"/>
<circle cx="131.0" cy="405.8" r="0.33" opacity="0.75"/>
<circle cx="124.2" cy="404.1" r="0.44" opacity="0.80"/>
<circle cx="113.5" cy="402.5" r="0.37" opacity="0.83"/>
<circle cx="130.6" cy="411.5" r="0.45" opacity="0.83"/>
<circle cx="152.5" cy="406.1" r="0.39" opacity="0.57"/>
<circle cx="162.4" cy="384.2" r="0.30" opacity="0.67"/>
<circle cx="127.2" cy="367.9" r="0.44" opacity="0.54"/>
<circle cx="157.3" cy="389.5" r="0.33" opacity="0.64"/>
<circle cx="129.3" cy="362.8" r="0.41" opacity="0.76"/>
<circle cx="162.2" cy="406.8" r="0.42" opacity="0.90"/>
<circle cx="159.0" cy="395.3" r="0.38" opacity="0.71"/>
<circle cx="151.8" cy="412.7" r="0.42" opacity="0.84"/>
<circle cx="103.2" cy="381.5" r="0.31" opacity="0.73"/>
<circle cx="137.3" cy="390.2" r="0.43" opacity="0.59"/>
<circle cx="146.5" cy="391.7" r="0.33" opacity="0.89"/>
<circle cx="104.9" cy="384.2" r="0.38" opacity="0.74"/>
<circle cx="162.1" cy="389.6" r="0.43" opacity="0.62"/>
</g>
</g>
<clipPath id="c28"><rect x="166.30" y="355.50" width="61.70" height="61.80"/></clipPath>
<g clip-path="url(#c28)">
<rect x="166.30" y="355.50" width="61.70" height="61.80" fill="#0a300c"/>
<rect x="166.30" y="355.50" width="61.70" height="61.80" filter="url(#gn2)"/>
<g fill="#e0a030">
<circle cx="226.7" cy="358.9" r="0.41" opacity="0.69"/>
<circle cx="224.4" cy="380.6" r="0.44" opacity="0.56"/>
<circle cx="227.7" cy="381.0" r="0.33" opacity="0.64"/>
<circle cx="205.2" cy="357.6" r="0.36" opacity="0.50"/>
<circle cx="170.6" cy="366.0" r="0.33" opacity="0.61"/>
<circle cx="214.3" cy="381.2" r="0.43" opacity="0.86"/>
<circle cx="221.5" cy="414.1" r="0.39" opacity="0.77"/>
<circle cx="220.7" cy="389.1" r="0.32" opacity="0.71"/>
<circle cx="199.0" cy="366.6" r="0.31" opacity="0.57"/>
<circle cx="209.3" cy="405.7" r="0.40" opacity="0.67"/>
<circle cx="168.1" cy="355.8" r="0.40" opacity="0.71"/>
</g>
</g>
<clipPath id="c29"><rect x="231.05" y="355.50" width="61.70" height="61.80"/></clipPath>
<g clip-path="url(#c29)">
<rect x="231.05" y="355.50" width="61.70" height="61.80" fill="#0a300c"/>
<rect x="231.05" y="355.50" width="61.70" height="61.80" filter="url(#gn2)"/>
<g fill="#e0a030">
<circle cx="269.1" cy="410.5" r="0.37" opacity="0.78"/>
<circle cx="288.9" cy="387.7" r="0.41" opacity="0.79"/>
<circle cx="284.0" cy="357.8" r="0.33" opacity="0.90"/>
<circle cx="277.1" cy="371.6" r="0.41" opacity="0.57"/>
<circle cx="253.3" cy="382.7" r="0.33" opacity="0.56"/>
<circle cx="262.4" cy="395.5" r="0.35" opacity="0.76"/>
</g>
</g>
<clipPath id="c30"><rect x="295.80" y="355.50" width="61.70" height="61.80"/></clipPath>
<g clip-path="url(#c30)">
<rect x="295.80" y="355.50" width="61.70" height="61.80" fill="#0a300c"/>
<rect x="295.80" y="355.50" width="61.70" height="61.80" filter="url(#gn2)"/>
<g fill="#e0a030">
<circle cx="352.2" cy="364.0" r="0.38" opacity="0.69"/>
<circle cx="355.0" cy="379.0" r="0.37" opacity="0.73"/>
<circle cx="319.4" cy="411.9" r="0.43" opacity="0.79"/>
<circle cx="299.3" cy="416.7" r="0.38" opacity="0.74"/>
<circle cx="329.2" cy="387.4" r="0.44" opacity="0.61"/>
<circle cx="304.6" cy="417.3" r="0.34" opacity="0.61"/>
</g>
</g>
<text x="67.60" y="444.50" font-size="9.4" fill="#222" text-anchor="middle" stroke="#222" stroke-width="0.12">PBS</text>
<text x="130.20" y="443.20" font-size="9.8" fill="#222" text-anchor="middle" stroke="#222" stroke-width="0.12">aT</text>
<text x="197.40" y="443.20" font-size="9.1" fill="#222" text-anchor="middle" stroke="#222" stroke-width="0.12">Exo</text>
<text x="259.40" y="443.20" font-size="9.2" fill="#222" text-anchor="middle" stroke="#222" stroke-width="0.12">aT+Exo</text>
<text x="326.40" y="443.20" font-size="9.2" fill="#222" text-anchor="middle" stroke="#222" stroke-width="0.12">aT-Exo</text>
<text x="30.70" y="479.40" font-size="8.1" fill="#86d486" text-anchor="middle" stroke="#86d486" stroke-width="0.12" transform="rotate(-90 30.70 479.40)">CD86</text>
<text x="30.70" y="539.60" font-size="8.2" fill="#d83a3a" text-anchor="middle" stroke="#d83a3a" stroke-width="0.12" transform="rotate(-90 30.70 539.60)">CD206</text>
<text x="31.00" y="600.00" font-size="7.9" fill="#222" text-anchor="middle" stroke="#222" stroke-width="0.12" transform="rotate(-90 31.00 600.00)">Merge</text>
<defs><g id="cs0" stroke-linecap="round">
<g opacity="0.64"><ellipse cx="15.4" cy="7.6" rx="2.9" ry="2.3" stroke="none" transform="rotate(143 15.4 7.6)"/>
<circle cx="14.0" cy="9.2" r="1.3" stroke="none"/>
<path d="M15.4 7.6L19.9 6.0M15.4 7.6L18.1 6.2M15.4 7.6L10.3 8.8M15.4 7.6L12.4 3.5" fill="none"/>
</g>
<g opacity="0.60"><ellipse cx="28.4" cy="7.1" rx="1.4" ry="1.1" stroke="none" transform="rotate(73 28.4 7.1)"/>
<circle cx="29.0" cy="7.7" r="0.6" stroke="none"/>
<path d="M28.4 7.1L30.1 10.9M28.4 7.1L25.3 9.6" fill="none"/>
</g>
<g opacity="0.82"><ellipse cx="43.2" cy="3.5" rx="1.2" ry="1.1" stroke="none" transform="rotate(39 43.2 3.5)"/>
<circle cx="43.7" cy="3.0" r="0.9" stroke="none"/>
</g>
<g opacity="0.83"><ellipse cx="58.0" cy="8.8" rx="1.5" ry="1.4" stroke="none" transform="rotate(169 58.0 8.8)"/>
<circle cx="58.5" cy="10.1" r="0.8" stroke="none"/>
<circle cx="59.0" cy="9.0" r="1.1" stroke="none"/>
<circle cx="57.9" cy="9.8" r="1.0" stroke="none"/>
</g>
<g opacity="0.92"><ellipse cx="46.9" cy="20.6" rx="1.6" ry="1.2" stroke="none" transform="rotate(12 46.9 20.6)"/>
<circle cx="46.5" cy="21.4" r="0.8" stroke="none"/>
<circle cx="48.0" cy="21.0" r="0.6" stroke="none"/>
<circle cx="46.9" cy="19.5" r="0.6" stroke="none"/>
<path d="M46.9 20.6L45.0 23.0" fill="none"/>
</g>
<g opacity="0.65"><ellipse cx="30.2" cy="22.9" rx="1.4" ry="1.2" stroke="none" transform="rotate(2 30.2 22.9)"/>
<circle cx="30.0" cy="22.0" r="0.9" stroke="none"/>
</g>
<g opacity="0.98"><ellipse cx="13.0" cy="28.8" rx="2.3" ry="1.8" stroke="none" transform="rotate(83 13.0 28.8)"/>
<circle cx="13.1" cy="27.9" r="1.3" stroke="none"/>
<circle cx="13.4" cy="27.2" r="0.8" stroke="none"/>
<path d="M13.0 28.8L8.1 28.4" fill="none"/>
</g>
<g opacity="0.79"><ellipse cx="25.9" cy="30.0" rx="2.4" ry="2.2" stroke="none" transform="rotate(110 25.9 30.0)"/>
<circle cx="25.4" cy="28.7" r="1.6" stroke="none"/>
<circle cx="24.6" cy="28.7" r="1.2" stroke="none"/>
<path d="M25.9 30.0L29.3 28.1M25.9 30.0L29.8 28.0" fill="none"/>
</g>
<g opacity="0.80"><ellipse cx="39.5" cy="31.2" rx="1.5" ry="1.4" stroke="none" transform="rotate(108 39.5 31.2)"/>
<circle cx="40.8" cy="31.6" r="0.7" stroke="none"/>
<path d="M39.5 31.2L41.8 30.0M39.5 31.2L39.3 27.9M39.5 31.2L39.5 35.1" fill="none"/>
</g>
<g opacity="0.77"><ellipse cx="2.5" cy="32.9" rx="1.2" ry="1.1" stroke="none" transform="rotate(132 2.5 32.9)"/>
<circle cx="1.8" cy="32.2" r="0.5" stroke="none"/>
</g>
<g opacity="0.73"><ellipse cx="12.3" cy="41.2" rx="2.9" ry="2.2" stroke="none" transform="rotate(53 12.3 41.2)"/>
<circle cx="13.9" cy="40.3" r="1.1" stroke="none"/>
<circle cx="10.2" cy="40.9" r="1.5" stroke="none"/>
</g>
<g opacity="0.85"><ellipse cx="22.2" cy="38.8" rx="1.5" ry="1.3" stroke="none" transform="rotate(162 22.2 38.8)"/>
<circle cx="21.3" cy="39.7" r="1.0" stroke="none"/>
</g>
<g opacity="0.79"><ellipse cx="36.4" cy="39.4" rx="1.9" ry="1.7" stroke="none" transform="rotate(16 36.4 39.4)"/>
<circle cx="35.4" cy="40.6" r="1.2" stroke="none"/>
<circle cx="35.9" cy="38.1" r="1.2" stroke="none"/>
<circle cx="35.5" cy="40.5" r="0.9" stroke="none"/>
<path d="M36.4 39.4L35.8 43.8" fill="none"/>
</g>
<g opacity="0.71"><ellipse cx="51.2" cy="42.9" rx="3.2" ry="2.5" stroke="none" transform="rotate(53 51.2 42.9)"/>
<circle cx="52.3" cy="41.4" r="1.8" stroke="none"/>
<circle cx="50.5" cy="44.4" r="1.4" stroke="none"/>
<circle cx="49.1" cy="42.9" r="1.5" stroke="none"/>
<path d="M51.2 42.9L55.6 41.4" fill="none"/>
</g>
<g opacity="0.98"><ellipse cx="33.3" cy="45.3" rx="1.6" ry="1.1" stroke="none" transform="rotate(74 33.3 45.3)"/>
<circle cx="34.0" cy="44.6" r="0.9" stroke="none"/>
</g>
<g opacity="0.91"><ellipse cx="3.1" cy="55.3" rx="2.9" ry="2.4" stroke="none" transform="rotate(30 3.1 55.3)"/>
<circle cx="4.7" cy="54.6" r="1.7" stroke="none"/>
<circle cx="2.7" cy="53.2" r="1.2" stroke="none"/>
</g>
<g opacity="0.99"><ellipse cx="35.2" cy="53.5" rx="2.4" ry="1.9" stroke="none" transform="rotate(76 35.2 53.5)"/>
<circle cx="34.4" cy="52.7" r="1.4" stroke="none"/>
<circle cx="35.9" cy="55.0" r="1.5" stroke="none"/>
<path d="M35.2 53.5L31.9 50.3M35.2 53.5L32.3 50.1M35.2 53.5L38.3 54.1" fill="none"/>
</g>
</g>
<g id="cs0n">
<circle cx="15.8" cy="7.3" r="1.7"/>
<circle cx="28.8" cy="6.8" r="0.8"/>
<circle cx="43.6" cy="3.2" r="0.8"/>
<circle cx="58.4" cy="8.5" r="1.1"/>
<circle cx="47.3" cy="20.3" r="0.9"/>
<circle cx="30.6" cy="22.6" r="0.9"/>
<circle cx="13.4" cy="28.5" r="1.3"/>
<circle cx="26.3" cy="29.7" r="1.6"/>
<circle cx="39.9" cy="30.9" r="1.1"/>
<circle cx="2.9" cy="32.6" r="0.8"/>
<circle cx="12.7" cy="40.9" r="1.6"/>
<circle cx="22.6" cy="38.5" r="1.0"/>
<circle cx="36.8" cy="39.1" r="1.3"/>
<circle cx="51.6" cy="42.6" r="1.9"/>
<circle cx="33.7" cy="45.0" r="0.9"/>
<circle cx="3.5" cy="55.0" r="1.8"/>
<circle cx="35.6" cy="53.2" r="1.4"/>
</g></defs>
<defs><g id="cs1" stroke-linecap="round">
<g opacity="0.74"><ellipse cx="1.9" cy="7.1" rx="1.7" ry="1.1" stroke="none" transform="rotate(20 1.9 7.1)"/>
<circle cx="1.0" cy="7.1" r="0.7" stroke="none"/>
</g>
<g opacity="0.85"><ellipse cx="27.8" cy="7.1" rx="1.3" ry="1.2" stroke="none" transform="rotate(37 27.8 7.1)"/>
<circle cx="28.3" cy="6.7" r="0.7" stroke="none"/>
<circle cx="27.6" cy="7.9" r="0.6" stroke="none"/>
<circle cx="28.2" cy="6.3" r="0.6" stroke="none"/>
</g>
<g opacity="0.96"><ellipse cx="41.3" cy="2.4" rx="2.2" ry="1.7" stroke="none" transform="rotate(61 41.3 2.4)"/>
<circle cx="40.6" cy="1.4" r="0.8" stroke="none"/>
<circle cx="40.2" cy="1.6" r="1.3" stroke="none"/>
<circle cx="42.7" cy="2.1" r="1.0" stroke="none"/>
<path d="M41.3 2.4L37.0 -0.1M41.3 2.4L42.9 -1.1" fill="none"/>
</g>
<g opacity="0.66"><ellipse cx="56.1" cy="6.5" rx="1.8" ry="1.7" stroke="none" transform="rotate(102 56.1 6.5)"/>
<circle cx="57.1" cy="5.6" r="1.0" stroke="none"/>
<circle cx="57.4" cy="6.3" r="1.0" stroke="none"/>
<circle cx="55.9" cy="5.4" r="1.2" stroke="none"/>
<path d="M56.1 6.5L53.8 4.4" fill="none"/>
</g>
<g opacity="0.72"><ellipse cx="33.3" cy="11.8" rx="2.5" ry="1.7" stroke="none" transform="rotate(54 33.3 11.8)"/>
<circle cx="32.2" cy="11.8" r="1.1" stroke="none"/>
<circle cx="34.3" cy="12.7" r="1.1" stroke="none"/>
<path d="M33.3 11.8L33.3 14.5" fill="none"/>
</g>
<g opacity="0.71"><ellipse cx="43.2" cy="12.3" rx="2.4" ry="1.6" stroke="none" transform="rotate(2 43.2 12.3)"/>
<circle cx="41.7" cy="12.4" r="1.1" stroke="none"/>
<path d="M43.2 12.3L40.0 11.7M43.2 12.3L47.2 10.6" fill="none"/>
</g>
<g opacity="0.78"><ellipse cx="13.0" cy="25.3" rx="3.8" ry="2.4" stroke="none" transform="rotate(93 13.0 25.3)"/>
<circle cx="12.2" cy="26.6" r="1.5" stroke="none"/>
<circle cx="11.4" cy="25.6" r="1.7" stroke="none"/>
<circle cx="11.9" cy="24.6" r="1.3" stroke="none"/>
<path d="M13.0 25.3L16.4 21.3M13.0 25.3L15.4 23.4M13.0 25.3L15.6 27.9" fill="none"/>
</g>
<g opacity="0.79"><ellipse cx="26.5" cy="21.8" rx="2.3" ry="1.5" stroke="none" transform="rotate(98 26.5 21.8)"/>
<circle cx="25.5" cy="21.0" r="1.2" stroke="none"/>
<circle cx="25.7" cy="20.6" r="1.1" stroke="none"/>
<path d="M26.5 21.8L30.7 22.1" fill="none"/>
</g>
<g opacity="0.66"><ellipse cx="37.0" cy="20.6" rx="3.6" ry="2.5" stroke="none" transform="rotate(162 37.0 20.6)"/>
<circle cx="38.1" cy="18.8" r="1.5" stroke="none"/>
<circle cx="36.5" cy="22.7" r="1.9" stroke="none"/>
<path d="M37.0 20.6L32.2 21.7" fill="none"/>
</g>
<g opacity="0.63"><ellipse cx="43.2" cy="22.3" rx="1.8" ry="1.4" stroke="none" transform="rotate(90 43.2 22.3)"/>
<circle cx="42.3" cy="22.1" r="0.9" stroke="none"/>
<circle cx="44.3" cy="22.7" r="0.7" stroke="none"/>
</g>
<g opacity="0.98"><ellipse cx="54.9" cy="28.2" rx="2.4" ry="1.5" stroke="none" transform="rotate(60 54.9 28.2)"/>
<circle cx="55.4" cy="27.4" r="1.0" stroke="none"/>
<path d="M54.9 28.2L52.3 29.5M54.9 28.2L51.8 30.4" fill="none"/>
</g>
<g opacity="0.86"><ellipse cx="20.4" cy="32.9" rx="2.1" ry="2.0" stroke="none" transform="rotate(53 20.4 32.9)"/>
<circle cx="21.4" cy="33.4" r="1.3" stroke="none"/>
<path d="M20.4 32.9L23.1 31.4M20.4 32.9L17.5 30.5" fill="none"/>
</g>
<g opacity="0.77"><ellipse cx="36.4" cy="34.7" rx="1.7" ry="1.4" stroke="none" transform="rotate(103 36.4 34.7)"/>
<circle cx="36.3" cy="33.3" r="0.7" stroke="none"/>
</g>
<g opacity="0.87"><ellipse cx="50.0" cy="36.5" rx="1.8" ry="1.3" stroke="none" transform="rotate(88 50.0 36.5)"/>
<circle cx="50.5" cy="37.1" r="0.8" stroke="none"/>
<path d="M50.0 36.5L53.1 35.2" fill="none"/>
</g>
<g opacity="0.65"><ellipse cx="39.5" cy="42.9" rx="2.5" ry="1.6" stroke="none" transform="rotate(99 39.5 42.9)"/>
<circle cx="39.5" cy="44.3" r="1.0" stroke="none"/>
<path d="M39.5 42.9L40.0 45.7" fill="none"/>
</g>
<g opacity="0.83"><ellipse cx="1.9" cy="42.9" rx="1.8" ry="1.4" stroke="none" transform="rotate(133 1.9 42.9)"/>
<circle cx="2.3" cy="43.5" r="0.8" stroke="none"/>
</g>
<g opacity="0.62"><ellipse cx="25.9" cy="52.9" rx="3.2" ry="2.1" stroke="none" transform="rotate(91 25.9 52.9)"/>
<circle cx="26.2" cy="51.9" r="1.5" stroke="none"/>
<path d="M25.9 52.9L22.1 54.1M25.9 52.9L20.6 54.2" fill="none"/>
</g>
<g opacity="0.75"><ellipse cx="27.8" cy="48.2" rx="2.5" ry="1.6" stroke="none" transform="rotate(123 27.8 48.2)"/>
<circle cx="26.8" cy="48.3" r="1.1" stroke="none"/>
<circle cx="26.7" cy="49.2" r="0.9" stroke="none"/>
<circle cx="29.0" cy="47.7" r="1.1" stroke="none"/>
<path d="M27.8 48.2L28.3 51.1" fill="none"/>
</g>
</g>
<g id="cs1n">
<circle cx="2.3" cy="6.8" r="0.8"/>
<circle cx="28.2" cy="6.8" r="0.9"/>
<circle cx="41.7" cy="2.1" r="1.3"/>
<circle cx="56.5" cy="6.2" r="1.2"/>
<circle cx="33.7" cy="11.5" r="1.3"/>
<circle cx="43.6" cy="12.0" r="1.2"/>
<circle cx="13.4" cy="25.0" r="1.8"/>
<circle cx="26.9" cy="21.5" r="1.1"/>
<circle cx="37.4" cy="20.3" r="1.9"/>
<circle cx="43.6" cy="22.0" r="1.0"/>
<circle cx="55.3" cy="27.9" r="1.1"/>
<circle cx="20.8" cy="32.6" r="1.5"/>
<circle cx="36.8" cy="34.4" r="1.1"/>
<circle cx="50.4" cy="36.2" r="1.0"/>
<circle cx="39.9" cy="42.6" r="1.2"/>
<circle cx="2.3" cy="42.6" r="1.1"/>
<circle cx="26.3" cy="52.6" r="1.6"/>
<circle cx="28.2" cy="47.9" r="1.2"/>
</g></defs>
<defs><g id="cs2" stroke-linecap="round">
<g opacity="0.86"><ellipse cx="44.0" cy="21.4" rx="1.1" ry="0.8" stroke="none" transform="rotate(127 44.0 21.4)"/>
<circle cx="44.1" cy="20.8" r="0.6" stroke="none"/>
<path d="M44.0 21.4L47.1 18.6M44.0 21.4L47.5 23.1" fill="none"/>
</g>
<g opacity="0.72"><ellipse cx="38.6" cy="55.4" rx="1.6" ry="1.0" stroke="none" transform="rotate(80 38.6 55.4)"/>
<circle cx="39.3" cy="55.6" r="0.5" stroke="none"/>
<circle cx="38.9" cy="54.7" r="0.5" stroke="none"/>
</g>
<g opacity="0.82"><ellipse cx="3.4" cy="57.2" rx="1.0" ry="0.6" stroke="none" transform="rotate(58 3.4 57.2)"/>
</g>
<g opacity="0.77"><ellipse cx="11.9" cy="4.7" rx="0.7" ry="0.7" stroke="none" transform="rotate(22 11.9 4.7)"/>
<circle cx="12.4" cy="4.6" r="0.4" stroke="none"/>
<path d="M11.9 4.7L13.2 2.3" fill="none"/>
</g>
<g opacity="0.73"><ellipse cx="12.3" cy="12.2" rx="1.3" ry="0.9" stroke="none" transform="rotate(2 12.3 12.2)"/>
<circle cx="11.7" cy="11.8" r="0.5" stroke="none"/>
<circle cx="12.3" cy="11.6" r="0.5" stroke="none"/>
<path d="M12.3 12.2L12.0 10.2" fill="none"/>
</g>
<g opacity="0.81"><ellipse cx="56.7" cy="38.5" rx="1.1" ry="0.8" stroke="none" transform="rotate(107 56.7 38.5)"/>
<path d="M56.7 38.5L53.1 39.9" fill="none"/>
</g>
<g opacity="0.68"><ellipse cx="26.5" cy="18.1" rx="2.7" ry="1.6" stroke="none" transform="rotate(19 26.5 18.1)"/>
<circle cx="25.8" cy="18.7" r="0.9" stroke="none"/>
<path d="M26.5 18.1L25.5 15.8M26.5 18.1L31.4 18.2M26.5 18.1L26.9 22.3" fill="none"/>
</g>
<g opacity="0.80"><ellipse cx="55.8" cy="19.4" rx="1.4" ry="1.0" stroke="none" transform="rotate(135 55.8 19.4)"/>
<circle cx="56.3" cy="18.7" r="0.6" stroke="none"/>
<circle cx="55.4" cy="19.7" r="0.7" stroke="none"/>
<path d="M55.8 19.4L53.1 22.5" fill="none"/>
</g>
<g opacity="0.84"><ellipse cx="12.6" cy="38.1" rx="0.6" ry="0.5" stroke="none" transform="rotate(18 12.6 38.1)"/>
<circle cx="12.2" cy="38.1" r="0.2" stroke="none"/>
<circle cx="12.7" cy="38.5" r="0.2" stroke="none"/>
<path d="M12.6 38.1L14.3 36.8M12.6 38.1L13.3 35.7" fill="none"/>
</g>
<g opacity="0.93"><ellipse cx="52.7" cy="50.2" rx="2.0" ry="1.0" stroke="none" transform="rotate(4 52.7 50.2)"/>
<circle cx="52.4" cy="50.9" r="0.6" stroke="none"/>
<circle cx="52.5" cy="49.6" r="0.8" stroke="none"/>
</g>
<g opacity="0.84"><ellipse cx="33.9" cy="7.4" rx="2.7" ry="1.5" stroke="none" transform="rotate(121 33.9 7.4)"/>
<circle cx="35.2" cy="7.6" r="0.8" stroke="none"/>
<circle cx="33.8" cy="8.1" r="1.1" stroke="none"/>
<path d="M33.9 7.4L34.8 4.5" fill="none"/>
</g>
<g opacity="0.64"><ellipse cx="45.7" cy="39.1" rx="1.5" ry="0.7" stroke="none" transform="rotate(74 45.7 39.1)"/>
<circle cx="46.1" cy="38.9" r="0.3" stroke="none"/>
</g>
<g opacity="0.70"><ellipse cx="54.3" cy="20.6" rx="1.9" ry="1.4" stroke="none" transform="rotate(63 54.3 20.6)"/>
<path d="M54.3 20.6L52.2 20.8" fill="none"/>
</g>
<g opacity="0.75"><ellipse cx="20.0" cy="4.5" rx="1.2" ry="0.7" stroke="none" transform="rotate(71 20.0 4.5)"/>
<circle cx="19.6" cy="4.8" r="0.5" stroke="none"/>
<circle cx="20.5" cy="4.1" r="0.5" stroke="none"/>
</g>
<g opacity="0.83"><ellipse cx="28.3" cy="49.1" rx="1.1" ry="0.6" stroke="none" transform="rotate(100 28.3 49.1)"/>
<circle cx="28.8" cy="49.4" r="0.3" stroke="none"/>
<circle cx="28.0" cy="49.3" r="0.4" stroke="none"/>
<path d="M28.3 49.1L28.3 51.0M28.3 49.1L27.2 52.8" fill="none"/>
</g>
<g opacity="0.83"><ellipse cx="47.8" cy="19.5" rx="1.8" ry="1.0" stroke="none" transform="rotate(98 47.8 19.5)"/>
<circle cx="48.3" cy="19.1" r="0.6" stroke="none"/>
<circle cx="48.1" cy="20.0" r="0.6" stroke="none"/>
<path d="M47.8 19.5L45.2 21.0M47.8 19.5L43.4 18.7M47.8 19.5L46.9 21.9" fill="none"/>
</g>
<g opacity="0.73"><ellipse cx="15.4" cy="57.3" rx="0.8" ry="0.6" stroke="none" transform="rotate(18 15.4 57.3)"/>
<path d="M15.4 57.3L15.2 55.6M15.4 57.3L11.7 57.6" fill="none"/>
</g>
<g opacity="0.64"><ellipse cx="43.6" cy="33.6" rx="2.3" ry="1.3" stroke="none" transform="rotate(167 43.6 33.6)"/>
<circle cx="43.9" cy="33.1" r="0.9" stroke="none"/>
<path d="M43.6 33.6L46.5 31.3" fill="none"/>
</g>
<g opacity="0.67"><ellipse cx="37.8" cy="52.6" rx="1.5" ry="1.1" stroke="none" transform="rotate(137 37.8 52.6)"/>
<circle cx="38.5" cy="51.9" r="0.6" stroke="none"/>
<circle cx="38.1" cy="52.1" r="0.6" stroke="none"/>
<path d="M37.8 52.6L37.4 48.3M37.8 52.6L39.2 48.8M37.8 52.6L42.1 50.4" fill="none"/>
</g>
<g opacity="0.65"><ellipse cx="41.5" cy="11.6" rx="2.2" ry="1.0" stroke="none" transform="rotate(138 41.5 11.6)"/>
<circle cx="42.5" cy="11.6" r="0.8" stroke="none"/>
<path d="M41.5 11.6L38.9 13.4" fill="none"/>
</g>
<g opacity="0.65"><ellipse cx="5.2" cy="57.3" rx="1.1" ry="0.7" stroke="none" transform="rotate(62 5.2 57.3)"/>
<circle cx="5.2" cy="56.6" r="0.4" stroke="none"/>
</g>
<g opacity="0.83"><ellipse cx="47.2" cy="11.1" rx="1.0" ry="0.7" stroke="none" transform="rotate(133 47.2 11.1)"/>
<path d="M47.2 11.1L45.4 12.7M47.2 11.1L43.6 11.1" fill="none"/>
</g>
<g opacity="0.82"><ellipse cx="3.8" cy="35.5" rx="1.5" ry="1.1" stroke="none" transform="rotate(153 3.8 35.5)"/>
<path d="M3.8 35.5L6.8 36.5M3.8 35.5L4.1 39.4M3.8 35.5L6.2 36.7" fill="none"/>
</g>
<g opacity="0.60"><ellipse cx="17.3" cy="27.3" rx="1.1" ry="0.9" stroke="none" transform="rotate(152 17.3 27.3)"/>
<path d="M17.3 27.3L19.6 28.8" fill="none"/>
</g>
<g opacity="0.68"><ellipse cx="41.6" cy="10.8" rx="1.0" ry="0.7" stroke="none" transform="rotate(3 41.6 10.8)"/>
<path d="M41.6 10.8L37.8 9.2M41.6 10.8L42.8 9.5" fill="none"/>
</g>
<g opacity="0.76"><ellipse cx="50.7" cy="48.4" rx="1.2" ry="1.2" stroke="none" transform="rotate(93 50.7 48.4)"/>
<path d="M50.7 48.4L47.2 45.9M50.7 48.4L48.9 48.8" fill="none"/>
</g>
<g opacity="0.61"><ellipse cx="56.9" cy="41.6" rx="1.3" ry="0.9" stroke="none" transform="rotate(107 56.9 41.6)"/>
</g>
<g opacity="0.77"><ellipse cx="48.8" cy="6.4" rx="1.6" ry="1.1" stroke="none" transform="rotate(157 48.8 6.4)"/>
<path d="M48.8 6.4L51.3 4.9M48.8 6.4L52.8 6.3M48.8 6.4L50.5 5.0" fill="none"/>
</g>
<g opacity="0.76"><ellipse cx="41.7" cy="37.5" rx="2.6" ry="1.2" stroke="none" transform="rotate(39 41.7 37.5)"/>
<circle cx="42.6" cy="38.0" r="0.5" stroke="none"/>
<path d="M41.7 37.5L42.5 39.5M41.7 37.5L40.5 38.8M41.7 37.5L39.0 34.5" fill="none"/>
</g>
<g opacity="0.61"><ellipse cx="47.5" cy="3.9" rx="1.9" ry="1.1" stroke="none" transform="rotate(135 47.5 3.9)"/>
<path d="M47.5 3.9L51.2 3.0M47.5 3.9L49.2 5.9M47.5 3.9L51.8 1.5" fill="none"/>
</g>
<g opacity="0.82"><ellipse cx="27.6" cy="37.3" rx="1.6" ry="1.5" stroke="none" transform="rotate(24 27.6 37.3)"/>
<circle cx="26.8" cy="37.0" r="0.7" stroke="none"/>
<circle cx="26.9" cy="37.9" r="1.1" stroke="none"/>
<path d="M27.6 37.3L26.4 39.5M27.6 37.3L26.3 41.9" fill="none"/>
</g>
<g opacity="0.69"><ellipse cx="57.5" cy="12.2" rx="2.3" ry="1.1" stroke="none" transform="rotate(174 57.5 12.2)"/>
<circle cx="57.0" cy="12.6" r="0.8" stroke="none"/>
<circle cx="58.0" cy="12.3" r="0.6" stroke="none"/>
<path d="M57.5 12.2L57.2 15.6" fill="none"/>
</g>
<g opacity="0.64"><ellipse cx="39.2" cy="11.8" rx="1.1" ry="0.8" stroke="none" transform="rotate(55 39.2 11.8)"/>
<circle cx="39.3" cy="11.2" r="0.5" stroke="none"/>
<path d="M39.2 11.8L41.8 12.4" fill="none"/>
</g>
<g opacity="0.86"><ellipse cx="56.1" cy="45.8" rx="1.1" ry="0.5" stroke="none" transform="rotate(102 56.1 45.8)"/>
<circle cx="56.4" cy="45.5" r="0.4" stroke="none"/>
<path d="M56.1 45.8L55.2 41.8M56.1 45.8L60.2 44.5" fill="none"/>
</g>
<g opacity="0.83"><ellipse cx="59.6" cy="10.3" rx="0.6" ry="0.5" stroke="none" transform="rotate(111 59.6 10.3)"/>
<circle cx="59.5" cy="10.7" r="0.4" stroke="none"/>
<circle cx="59.8" cy="10.6" r="0.3" stroke="none"/>
</g>
<g opacity="0.74"><ellipse cx="44.5" cy="36.5" rx="1.3" ry="0.8" stroke="none" transform="rotate(11 44.5 36.5)"/>
</g>
<g opacity="0.85"><ellipse cx="22.4" cy="25.1" rx="2.2" ry="1.0" stroke="none" transform="rotate(47 22.4 25.1)"/>
<path d="M22.4 25.1L20.1 25.3M22.4 25.1L24.3 26.9" fill="none"/>
</g>
<g opacity="0.93"><ellipse cx="32.2" cy="8.7" rx="1.0" ry="0.6" stroke="none" transform="rotate(44 32.2 8.7)"/>
<circle cx="32.4" cy="8.9" r="0.4" stroke="none"/>
<circle cx="31.9" cy="8.6" r="0.3" stroke="none"/>
<path d="M32.2 8.7L28.9 6.5M32.2 8.7L35.4 6.7" fill="none"/>
</g>
<g opacity="0.88"><ellipse cx="46.0" cy="40.0" rx="2.6" ry="1.3" stroke="none" transform="rotate(7 46.0 40.0)"/>
<path d="M46.0 40.0L49.1 42.9M46.0 40.0L43.1 37.6M46.0 40.0L46.9 44.9" fill="none"/>
</g>
<g opacity="0.72"><ellipse cx="60.4" cy="32.5" rx="1.3" ry="0.8" stroke="none" transform="rotate(8 60.4 32.5)"/>
<circle cx="60.9" cy="32.9" r="0.4" stroke="none"/>
<path d="M60.4 32.5L59.4 35.3M60.4 32.5L56.7 31.5M60.4 32.5L63.8 31.5" fill="none"/>
</g>
<g opacity="0.66"><ellipse cx="29.9" cy="45.2" rx="1.2" ry="0.6" stroke="none" transform="rotate(93 29.9 45.2)"/>
<path d="M29.9 45.2L27.8 45.6M29.9 45.2L30.4 47.5M29.9 45.2L31.9 44.5" fill="none"/>
</g>
<g opacity="0.66"><ellipse cx="25.1" cy="8.7" rx="2.2" ry="1.2" stroke="none" transform="rotate(79 25.1 8.7)"/>
<path d="M25.1 8.7L26.1 10.6M25.1 8.7L21.3 8.9M25.1 8.7L21.8 9.8" fill="none"/>
</g>
<g opacity="0.85"><ellipse cx="29.2" cy="40.5" rx="1.7" ry="1.1" stroke="none" transform="rotate(97 29.2 40.5)"/>
<circle cx="28.5" cy="40.3" r="0.6" stroke="none"/>
<path d="M29.2 40.5L25.4 39.2" fill="none"/>
</g>
<g opacity="0.62"><ellipse cx="58.6" cy="38.8" rx="1.0" ry="0.7" stroke="none" transform="rotate(152 58.6 38.8)"/>
<circle cx="58.6" cy="38.3" r="0.3" stroke="none"/>
<circle cx="58.1" cy="38.3" r="0.5" stroke="none"/>
<path d="M58.6 38.8L54.9 39.1M58.6 38.8L61.9 40.8" fill="none"/>
</g>
</g>
<g id="cs2n">
<circle cx="44.4" cy="21.1" r="0.8"/>
<circle cx="39.0" cy="55.1" r="0.8"/>
<circle cx="3.8" cy="56.9" r="0.8"/>
<circle cx="12.3" cy="4.4" r="0.8"/>
<circle cx="12.7" cy="11.9" r="0.8"/>
<circle cx="57.1" cy="38.2" r="0.8"/>
<circle cx="26.9" cy="17.8" r="1.2"/>
<circle cx="56.2" cy="19.1" r="0.8"/>
<circle cx="13.0" cy="37.8" r="0.8"/>
<circle cx="53.1" cy="49.9" r="0.8"/>
<circle cx="34.3" cy="7.1" r="1.1"/>
<circle cx="46.1" cy="38.8" r="0.8"/>
<circle cx="54.7" cy="20.3" r="1.1"/>
<circle cx="20.4" cy="4.2" r="0.8"/>
<circle cx="28.7" cy="48.8" r="0.8"/>
<circle cx="48.2" cy="19.2" r="0.8"/>
<circle cx="15.8" cy="57.0" r="0.8"/>
<circle cx="44.0" cy="33.3" r="1.0"/>
<circle cx="38.2" cy="52.3" r="0.8"/>
<circle cx="41.9" cy="11.3" r="0.8"/>
<circle cx="5.6" cy="57.0" r="0.8"/>
<circle cx="47.6" cy="10.8" r="0.8"/>
<circle cx="4.2" cy="35.2" r="0.8"/>
<circle cx="17.7" cy="27.0" r="0.8"/>
<circle cx="42.0" cy="10.5" r="0.8"/>
<circle cx="51.1" cy="48.1" r="0.9"/>
<circle cx="57.3" cy="41.3" r="0.8"/>
<circle cx="49.2" cy="6.1" r="0.8"/>
<circle cx="42.1" cy="37.2" r="0.9"/>
<circle cx="47.9" cy="3.6" r="0.8"/>
<circle cx="28.0" cy="37.0" r="1.1"/>
<circle cx="57.9" cy="11.9" r="0.8"/>
<circle cx="39.6" cy="11.5" r="0.8"/>
<circle cx="56.5" cy="45.5" r="0.8"/>
<circle cx="60.0" cy="10.0" r="0.8"/>
<circle cx="44.9" cy="36.2" r="0.8"/>
<circle cx="22.8" cy="24.8" r="0.8"/>
<circle cx="32.6" cy="8.4" r="0.8"/>
<circle cx="46.4" cy="39.7" r="1.0"/>
<circle cx="60.8" cy="32.2" r="0.8"/>
<circle cx="30.3" cy="44.9" r="0.8"/>
<circle cx="25.5" cy="8.4" r="0.9"/>
<circle cx="29.6" cy="40.2" r="0.8"/>
<circle cx="59.0" cy="38.5" r="0.8"/>
</g></defs>
<defs><g id="cs3" stroke-linecap="round">
<g opacity="0.67"><ellipse cx="58.8" cy="22.9" rx="1.2" ry="0.9" stroke="none" transform="rotate(139 58.8 22.9)"/>
<circle cx="59.6" cy="22.7" r="0.5" stroke="none"/>
<path d="M58.8 22.9L61.9 23.7" fill="none"/>
</g>
<g opacity="0.97"><ellipse cx="44.1" cy="15.9" rx="1.2" ry="1.0" stroke="none" transform="rotate(72 44.1 15.9)"/>
<circle cx="43.3" cy="16.3" r="0.7" stroke="none"/>
</g>
<g opacity="0.81"><ellipse cx="20.7" cy="6.6" rx="0.6" ry="0.6" stroke="none" transform="rotate(12 20.7 6.6)"/>
<circle cx="20.9" cy="6.1" r="0.5" stroke="none"/>
<path d="M20.7 6.6L18.7 8.7M20.7 6.6L21.0 8.3" fill="none"/>
</g>
<g opacity="0.64"><ellipse cx="43.7" cy="24.3" rx="1.3" ry="1.1" stroke="none" transform="rotate(83 43.7 24.3)"/>
</g>
<g opacity="0.94"><ellipse cx="4.9" cy="18.2" rx="0.9" ry="0.8" stroke="none" transform="rotate(145 4.9 18.2)"/>
<circle cx="5.3" cy="17.7" r="0.5" stroke="none"/>
<path d="M4.9 18.2L4.5 19.9" fill="none"/>
</g>
<g opacity="0.61"><ellipse cx="57.1" cy="45.8" rx="1.5" ry="1.5" stroke="none" transform="rotate(159 57.1 45.8)"/>
<circle cx="57.8" cy="45.2" r="0.9" stroke="none"/>
<path d="M57.1 45.8L57.7 47.8M57.1 45.8L56.0 47.6" fill="none"/>
</g>
<g opacity="0.78"><ellipse cx="31.2" cy="7.1" rx="0.9" ry="0.8" stroke="none" transform="rotate(157 31.2 7.1)"/>
<circle cx="31.0" cy="6.6" r="0.5" stroke="none"/>
<path d="M31.2 7.1L33.3 10.6" fill="none"/>
</g>
<g opacity="0.92"><ellipse cx="14.6" cy="2.7" rx="1.1" ry="1.1" stroke="none" transform="rotate(82 14.6 2.7)"/>
<circle cx="14.7" cy="1.7" r="0.8" stroke="none"/>
</g>
<g opacity="0.68"><ellipse cx="18.4" cy="7.3" rx="1.2" ry="1.0" stroke="none" transform="rotate(118 18.4 7.3)"/>
<path d="M18.4 7.3L18.1 3.7M18.4 7.3L19.4 10.4" fill="none"/>
</g>
<g opacity="0.60"><ellipse cx="56.5" cy="54.6" rx="1.3" ry="1.0" stroke="none" transform="rotate(66 56.5 54.6)"/>
<circle cx="56.1" cy="55.0" r="0.6" stroke="none"/>
</g>
<g opacity="0.97"><ellipse cx="7.3" cy="44.6" rx="0.7" ry="0.6" stroke="none" transform="rotate(19 7.3 44.6)"/>
<circle cx="7.9" cy="44.4" r="0.4" stroke="none"/>
</g>
<g opacity="0.78"><ellipse cx="33.1" cy="5.9" rx="1.3" ry="1.2" stroke="none" transform="rotate(1 33.1 5.9)"/>
<circle cx="33.1" cy="5.0" r="0.9" stroke="none"/>
</g>
<g opacity="0.69"><ellipse cx="33.4" cy="25.9" rx="1.2" ry="1.0" stroke="none" transform="rotate(97 33.4 25.9)"/>
<circle cx="32.7" cy="26.2" r="0.7" stroke="none"/>
</g>
<g opacity="0.89"><ellipse cx="33.9" cy="56.1" rx="1.1" ry="0.9" stroke="none" transform="rotate(13 33.9 56.1)"/>
<path d="M33.9 56.1L32.0 56.3M33.9 56.1L32.5 54.0" fill="none"/>
</g>
<g opacity="0.96"><ellipse cx="13.6" cy="30.2" rx="1.5" ry="1.4" stroke="none" transform="rotate(154 13.6 30.2)"/>
<circle cx="12.8" cy="29.3" r="1.1" stroke="none"/>
</g>
<g opacity="0.79"><ellipse cx="23.8" cy="37.0" rx="2.0" ry="1.6" stroke="none" transform="rotate(123 23.8 37.0)"/>
</g>
<g opacity="0.99"><ellipse cx="20.5" cy="46.9" rx="1.3" ry="1.3" stroke="none" transform="rotate(55 20.5 46.9)"/>
<path d="M20.5 46.9L20.0 49.8" fill="none"/>
</g>
<g opacity="0.95"><ellipse cx="9.5" cy="4.2" rx="1.8" ry="1.5" stroke="none" transform="rotate(150 9.5 4.2)"/>
<circle cx="8.8" cy="3.5" r="1.2" stroke="none"/>
<path d="M9.5 4.2L8.0 8.5M9.5 4.2L8.9 6.3" fill="none"/>
</g>
<g opacity="0.96"><ellipse cx="28.8" cy="26.2" rx="1.4" ry="1.3" stroke="none" transform="rotate(59 28.8 26.2)"/>
<circle cx="28.4" cy="25.0" r="0.9" stroke="none"/>
<path d="M28.8 26.2L27.0 29.6" fill="none"/>
</g>
<g opacity="0.97"><ellipse cx="35.2" cy="29.4" rx="0.9" ry="0.8" stroke="none" transform="rotate(160 35.2 29.4)"/>
<circle cx="34.8" cy="29.7" r="0.6" stroke="none"/>
<path d="M35.2 29.4L33.6 31.8M35.2 29.4L37.0 26.9" fill="none"/>
</g>
<g opacity="0.64"><ellipse cx="45.3" cy="15.6" rx="0.9" ry="0.9" stroke="none" transform="rotate(58 45.3 15.6)"/>
<circle cx="45.5" cy="15.0" r="0.7" stroke="none"/>
</g>
<g opacity="0.72"><ellipse cx="46.2" cy="35.3" rx="0.6" ry="0.6" stroke="none" transform="rotate(55 46.2 35.3)"/>
<path d="M46.2 35.3L48.8 37.4M46.2 35.3L47.6 34.3" fill="none"/>
</g>
<g opacity="0.76"><ellipse cx="13.2" cy="40.4" rx="1.3" ry="1.2" stroke="none" transform="rotate(42 13.2 40.4)"/>
<circle cx="12.1" cy="40.2" r="0.7" stroke="none"/>
<path d="M13.2 40.4L11.1 41.0" fill="none"/>
</g>
<g opacity="0.64"><ellipse cx="7.3" cy="57.5" rx="0.8" ry="0.7" stroke="none" transform="rotate(7 7.3 57.5)"/>
<path d="M7.3 57.5L5.0 57.9" fill="none"/>
</g>
<g opacity="0.66"><ellipse cx="11.2" cy="6.2" rx="1.3" ry="1.2" stroke="none" transform="rotate(141 11.2 6.2)"/>
<path d="M11.2 6.2L13.7 5.3M11.2 6.2L13.8 2.9" fill="none"/>
</g>
<g opacity="0.99"><ellipse cx="37.9" cy="49.6" rx="1.0" ry="0.9" stroke="none" transform="rotate(64 37.9 49.6)"/>
</g>
<g opacity="0.77"><ellipse cx="42.6" cy="7.1" rx="1.1" ry="0.9" stroke="none" transform="rotate(57 42.6 7.1)"/>
</g>
<g opacity="0.93"><ellipse cx="16.2" cy="21.3" rx="0.8" ry="0.7" stroke="none" transform="rotate(52 16.2 21.3)"/>
</g>
<g opacity="0.74"><ellipse cx="43.9" cy="8.1" rx="1.5" ry="1.4" stroke="none" transform="rotate(90 43.9 8.1)"/>
<path d="M43.9 8.1L43.0 6.4M43.9 8.1L46.4 10.3" fill="none"/>
</g>
<g opacity="0.80"><ellipse cx="21.2" cy="34.6" rx="1.3" ry="1.2" stroke="none" transform="rotate(168 21.2 34.6)"/>
</g>
<g opacity="0.61"><ellipse cx="30.2" cy="50.5" rx="1.5" ry="1.3" stroke="none" transform="rotate(8 30.2 50.5)"/>
<circle cx="30.4" cy="49.7" r="0.8" stroke="none"/>
</g>
<g opacity="0.91"><ellipse cx="17.9" cy="20.0" rx="1.2" ry="1.2" stroke="none" transform="rotate(177 17.9 20.0)"/>
<path d="M17.9 20.0L21.1 23.0" fill="none"/>
</g>
<g opacity="0.91"><ellipse cx="9.1" cy="24.9" rx="1.3" ry="1.1" stroke="none" transform="rotate(166 9.1 24.9)"/>
<path d="M9.1 24.9L9.6 22.6" fill="none"/>
</g>
<g opacity="0.89"><ellipse cx="59.1" cy="8.4" rx="1.2" ry="1.1" stroke="none" transform="rotate(43 59.1 8.4)"/>
<circle cx="59.7" cy="7.6" r="0.8" stroke="none"/>
<path d="M59.1 8.4L61.1 5.2" fill="none"/>
</g>
<g opacity="0.65"><ellipse cx="46.1" cy="42.3" rx="0.9" ry="0.7" stroke="none" transform="rotate(69 46.1 42.3)"/>
<path d="M46.1 42.3L48.2 43.8M46.1 42.3L45.5 40.9" fill="none"/>
</g>
<g opacity="0.69"><ellipse cx="57.1" cy="18.8" rx="1.2" ry="1.1" stroke="none" transform="rotate(66 57.1 18.8)"/>
<circle cx="56.4" cy="18.7" r="0.6" stroke="none"/>
<path d="M57.1 18.8L53.0 19.2M57.1 18.8L57.0 15.3" fill="none"/>
</g>
<g opacity="0.86"><ellipse cx="40.4" cy="24.9" rx="1.8" ry="1.5" stroke="none" transform="rotate(82 40.4 24.9)"/>
<circle cx="41.2" cy="25.4" r="0.9" stroke="none"/>
<path d="M40.4 24.9L43.9 25.1M40.4 24.9L40.7 26.8" fill="none"/>
</g>
<g opacity="0.84"><ellipse cx="41.3" cy="20.4" rx="1.4" ry="1.1" stroke="none" transform="rotate(25 41.3 20.4)"/>
</g>
<g opacity="0.67"><ellipse cx="31.2" cy="41.3" rx="1.5" ry="1.2" stroke="none" transform="rotate(107 31.2 41.3)"/>
<circle cx="30.4" cy="40.6" r="0.6" stroke="none"/>
</g>
<g opacity="0.72"><ellipse cx="48.4" cy="10.2" rx="1.2" ry="1.0" stroke="none" transform="rotate(17 48.4 10.2)"/>
<path d="M48.4 10.2L46.4 7.7M48.4 10.2L52.4 8.7" fill="none"/>
</g>
</g>
<g id="cs3n">
<circle cx="59.2" cy="22.6" r="0.8"/>
<circle cx="44.5" cy="15.6" r="0.8"/>
<circle cx="21.1" cy="6.3" r="0.8"/>
<circle cx="44.1" cy="24.0" r="0.8"/>
<circle cx="5.3" cy="17.9" r="0.8"/>
<circle cx="57.5" cy="45.5" r="1.1"/>
<circle cx="31.6" cy="6.8" r="0.8"/>
<circle cx="15.0" cy="2.4" r="0.8"/>
<circle cx="18.8" cy="7.0" r="0.8"/>
<circle cx="56.9" cy="54.3" r="0.8"/>
<circle cx="7.7" cy="44.3" r="0.8"/>
<circle cx="33.5" cy="5.6" r="0.9"/>
<circle cx="33.8" cy="25.6" r="0.8"/>
<circle cx="34.3" cy="55.8" r="0.8"/>
<circle cx="14.0" cy="29.9" r="1.0"/>
<circle cx="24.2" cy="36.7" r="1.2"/>
<circle cx="20.9" cy="46.6" r="0.9"/>
<circle cx="9.9" cy="3.9" r="1.1"/>
<circle cx="29.2" cy="25.9" r="1.0"/>
<circle cx="35.6" cy="29.1" r="0.8"/>
<circle cx="45.7" cy="15.3" r="0.8"/>
<circle cx="46.6" cy="35.0" r="0.8"/>
<circle cx="13.6" cy="40.1" r="0.9"/>
<circle cx="7.7" cy="57.2" r="0.8"/>
<circle cx="11.6" cy="5.9" r="0.9"/>
<circle cx="38.3" cy="49.3" r="0.8"/>
<circle cx="43.0" cy="6.8" r="0.8"/>
<circle cx="16.6" cy="21.0" r="0.8"/>
<circle cx="44.3" cy="7.8" r="1.0"/>
<circle cx="21.6" cy="34.3" r="0.9"/>
<circle cx="30.6" cy="50.2" r="1.0"/>
<circle cx="18.3" cy="19.7" r="0.9"/>
<circle cx="9.5" cy="24.6" r="0.9"/>
<circle cx="59.5" cy="8.1" r="0.8"/>
<circle cx="46.5" cy="42.0" r="0.8"/>
<circle cx="57.5" cy="18.5" r="0.9"/>
<circle cx="40.8" cy="24.6" r="1.2"/>
<circle cx="41.7" cy="20.1" r="0.8"/>
<circle cx="31.6" cy="41.0" r="0.9"/>
<circle cx="48.8" cy="9.9" r="0.8"/>
</g></defs>
<defs><g id="cs4" stroke-linecap="round">
<g opacity="0.65"><ellipse cx="34.4" cy="35.4" rx="1.5" ry="1.2" stroke="none" transform="rotate(27 34.4 35.4)"/>
</g>
<g opacity="0.94"><ellipse cx="19.7" cy="16.9" rx="1.0" ry="1.0" stroke="none" transform="rotate(121 19.7 16.9)"/>
<path d="M19.7 16.9L16.0 15.4M19.7 16.9L21.7 15.6" fill="none"/>
</g>
<g opacity="0.87"><ellipse cx="36.8" cy="37.6" rx="0.8" ry="0.7" stroke="none" transform="rotate(15 36.8 37.6)"/>
<path d="M36.8 37.6L39.4 37.4M36.8 37.6L35.6 35.2" fill="none"/>
</g>
<g opacity="0.91"><ellipse cx="27.7" cy="32.8" rx="0.8" ry="0.7" stroke="none" transform="rotate(151 27.7 32.8)"/>
<path d="M27.7 32.8L28.2 34.9" fill="none"/>
</g>
<g opacity="0.97"><ellipse cx="7.3" cy="53.6" rx="0.7" ry="0.6" stroke="none" transform="rotate(170 7.3 53.6)"/>
<circle cx="7.1" cy="54.2" r="0.4" stroke="none"/>
<path d="M7.3 53.6L4.1 52.0M7.3 53.6L5.5 54.3M7.3 53.6L6.1 55.0" fill="none"/>
</g>
<g opacity="0.74"><ellipse cx="30.8" cy="17.8" rx="1.2" ry="0.7" stroke="none" transform="rotate(131 30.8 17.8)"/>
<circle cx="30.7" cy="18.4" r="0.6" stroke="none"/>
<circle cx="30.6" cy="17.5" r="0.4" stroke="none"/>
</g>
<g opacity="0.90"><ellipse cx="17.2" cy="10.3" rx="1.0" ry="0.8" stroke="none" transform="rotate(93 17.2 10.3)"/>
<path d="M17.2 10.3L15.0 8.6M17.2 10.3L18.4 8.4" fill="none"/>
</g>
<g opacity="0.96"><ellipse cx="55.1" cy="5.7" rx="1.1" ry="1.1" stroke="none" transform="rotate(158 55.1 5.7)"/>
</g>
<g opacity="0.83"><ellipse cx="42.4" cy="36.5" rx="0.8" ry="0.6" stroke="none" transform="rotate(160 42.4 36.5)"/>
<circle cx="42.8" cy="36.4" r="0.4" stroke="none"/>
</g>
<g opacity="0.97"><ellipse cx="14.8" cy="17.0" rx="1.6" ry="1.3" stroke="none" transform="rotate(41 14.8 17.0)"/>
<circle cx="14.0" cy="17.1" r="1.0" stroke="none"/>
<path d="M14.8 17.0L12.5 18.4" fill="none"/>
</g>
<g opacity="0.96"><ellipse cx="27.4" cy="15.7" rx="1.1" ry="0.9" stroke="none" transform="rotate(40 27.4 15.7)"/>
<circle cx="27.7" cy="16.2" r="0.5" stroke="none"/>
<circle cx="28.0" cy="15.7" r="0.6" stroke="none"/>
<path d="M27.4 15.7L25.9 17.6M27.4 15.7L26.4 18.8M27.4 15.7L24.5 15.7" fill="none"/>
</g>
<g opacity="0.83"><ellipse cx="30.0" cy="9.6" rx="1.4" ry="1.0" stroke="none" transform="rotate(108 30.0 9.6)"/>
<circle cx="30.0" cy="8.9" r="0.7" stroke="none"/>
</g>
<g opacity="0.96"><ellipse cx="43.9" cy="28.1" rx="1.7" ry="1.2" stroke="none" transform="rotate(153 43.9 28.1)"/>
<circle cx="44.2" cy="29.3" r="0.6" stroke="none"/>
<circle cx="43.1" cy="27.6" r="0.7" stroke="none"/>
<path d="M43.9 28.1L47.2 26.9M43.9 28.1L45.5 26.8" fill="none"/>
</g>
<g opacity="0.86"><ellipse cx="46.9" cy="55.2" rx="1.7" ry="1.2" stroke="none" transform="rotate(25 46.9 55.2)"/>
<circle cx="46.4" cy="54.4" r="0.8" stroke="none"/>
<path d="M46.9 55.2L46.1 58.5M46.9 55.2L46.7 52.6M46.9 55.2L46.6 57.8" fill="none"/>
</g>
<g opacity="0.61"><ellipse cx="3.9" cy="29.7" rx="1.1" ry="1.1" stroke="none" transform="rotate(20 3.9 29.7)"/>
<circle cx="3.1" cy="30.2" r="0.5" stroke="none"/>
<circle cx="3.5" cy="30.2" r="0.8" stroke="none"/>
</g>
<g opacity="0.71"><ellipse cx="20.8" cy="39.8" rx="1.2" ry="1.0" stroke="none" transform="rotate(118 20.8 39.8)"/>
<circle cx="21.2" cy="40.7" r="0.7" stroke="none"/>
<circle cx="19.9" cy="39.8" r="0.5" stroke="none"/>
<path d="M20.8 39.8L23.7 42.6M20.8 39.8L17.3 39.2" fill="none"/>
</g>
<g opacity="0.96"><ellipse cx="37.7" cy="35.8" rx="1.7" ry="1.3" stroke="none" transform="rotate(42 37.7 35.8)"/>
<circle cx="38.5" cy="36.4" r="0.6" stroke="none"/>
</g>
<g opacity="0.80"><ellipse cx="56.1" cy="41.1" rx="1.3" ry="1.2" stroke="none" transform="rotate(135 56.1 41.1)"/>
<circle cx="55.3" cy="41.0" r="0.8" stroke="none"/>
<circle cx="55.6" cy="40.3" r="0.9" stroke="none"/>
</g>
<g opacity="0.90"><ellipse cx="42.9" cy="14.2" rx="1.2" ry="1.2" stroke="none" transform="rotate(25 42.9 14.2)"/>
<circle cx="42.5" cy="13.7" r="0.5" stroke="none"/>
<path d="M42.9 14.2L39.7 11.6M42.9 14.2L40.5 12.3M42.9 14.2L40.9 11.4" fill="none"/>
</g>
<g opacity="0.61"><ellipse cx="38.0" cy="4.6" rx="2.0" ry="1.2" stroke="none" transform="rotate(106 38.0 4.6)"/>
<circle cx="38.7" cy="4.5" r="0.9" stroke="none"/>
<circle cx="39.0" cy="4.2" r="0.9" stroke="none"/>
<path d="M38.0 4.6L36.2 2.0M38.0 4.6L39.1 2.1M38.0 4.6L35.7 7.7" fill="none"/>
</g>
<g opacity="0.87"><ellipse cx="14.7" cy="29.0" rx="1.7" ry="1.2" stroke="none" transform="rotate(80 14.7 29.0)"/>
<circle cx="14.1" cy="29.3" r="0.6" stroke="none"/>
<circle cx="15.2" cy="29.2" r="0.6" stroke="none"/>
<path d="M14.7 29.0L13.0 32.0" fill="none"/>
</g>
<g opacity="0.96"><ellipse cx="44.0" cy="44.4" rx="1.1" ry="1.0" stroke="none" transform="rotate(161 44.0 44.4)"/>
<path d="M44.0 44.4L40.5 45.9M44.0 44.4L41.6 46.6M44.0 44.4L45.6 48.3" fill="none"/>
</g>
<g opacity="0.60"><ellipse cx="56.9" cy="26.2" rx="1.8" ry="1.3" stroke="none" transform="rotate(48 56.9 26.2)"/>
<path d="M56.9 26.2L59.6 24.3M56.9 26.2L57.5 29.5M56.9 26.2L60.1 25.3" fill="none"/>
</g>
<g opacity="0.87"><ellipse cx="60.0" cy="19.5" rx="1.4" ry="1.2" stroke="none" transform="rotate(152 60.0 19.5)"/>
<path d="M60.0 19.5L60.6 16.4M60.0 19.5L56.9 19.6" fill="none"/>
</g>
<g opacity="0.94"><ellipse cx="57.9" cy="5.9" rx="1.6" ry="1.2" stroke="none" transform="rotate(95 57.9 5.9)"/>
<circle cx="58.7" cy="6.1" r="1.0" stroke="none"/>
<circle cx="58.3" cy="5.1" r="0.9" stroke="none"/>
</g>
<g opacity="0.69"><ellipse cx="39.8" cy="31.6" rx="1.5" ry="1.3" stroke="none" transform="rotate(83 39.8 31.6)"/>
<circle cx="39.9" cy="32.5" r="0.6" stroke="none"/>
<circle cx="40.5" cy="32.2" r="0.8" stroke="none"/>
</g>
<g opacity="0.95"><ellipse cx="52.2" cy="9.5" rx="1.7" ry="1.2" stroke="none" transform="rotate(106 52.2 9.5)"/>
<path d="M52.2 9.5L56.4 9.1" fill="none"/>
</g>
<g opacity="0.97"><ellipse cx="37.7" cy="40.6" rx="1.7" ry="1.2" stroke="none" transform="rotate(113 37.7 40.6)"/>
<circle cx="38.6" cy="39.8" r="0.8" stroke="none"/>
<circle cx="38.3" cy="40.7" r="0.9" stroke="none"/>
</g>
<g opacity="0.82"><ellipse cx="48.8" cy="47.9" rx="0.7" ry="0.6" stroke="none" transform="rotate(157 48.8 47.9)"/>
<circle cx="48.8" cy="48.3" r="0.4" stroke="none"/>
<path d="M48.8 47.9L47.8 49.4" fill="none"/>
</g>
<g opacity="0.67"><ellipse cx="26.5" cy="52.7" rx="1.9" ry="1.5" stroke="none" transform="rotate(137 26.5 52.7)"/>
<path d="M26.5 52.7L22.3 53.0" fill="none"/>
</g>
<g opacity="0.81"><ellipse cx="46.0" cy="20.0" rx="1.8" ry="1.4" stroke="none" transform="rotate(52 46.0 20.0)"/>
<path d="M46.0 20.0L47.4 15.7M46.0 20.0L49.8 17.6" fill="none"/>
</g>
<g opacity="0.87"><ellipse cx="32.7" cy="38.9" rx="1.6" ry="1.1" stroke="none" transform="rotate(48 32.7 38.9)"/>
<circle cx="33.0" cy="39.4" r="0.8" stroke="none"/>
<path d="M32.7 38.9L36.7 37.4M32.7 38.9L33.3 43.1M32.7 38.9L28.7 39.6" fill="none"/>
</g>
<g opacity="0.71"><ellipse cx="52.5" cy="41.5" rx="1.7" ry="1.6" stroke="none" transform="rotate(118 52.5 41.5)"/>
</g>
<g opacity="1.00"><ellipse cx="30.5" cy="29.0" rx="1.4" ry="1.2" stroke="none" transform="rotate(105 30.5 29.0)"/>
<circle cx="29.4" cy="29.3" r="0.9" stroke="none"/>
<circle cx="30.1" cy="28.1" r="0.8" stroke="none"/>
</g>
<g opacity="0.70"><ellipse cx="34.5" cy="3.9" rx="2.1" ry="1.6" stroke="none" transform="rotate(89 34.5 3.9)"/>
<circle cx="34.2" cy="2.5" r="1.1" stroke="none"/>
<circle cx="35.0" cy="3.1" r="1.0" stroke="none"/>
</g>
<g opacity="0.99"><ellipse cx="20.1" cy="29.4" rx="1.2" ry="0.7" stroke="none" transform="rotate(65 20.1 29.4)"/>
<path d="M20.1 29.4L21.4 26.9M20.1 29.4L20.0 31.2M20.1 29.4L20.1 31.2" fill="none"/>
</g>
<g opacity="0.97"><ellipse cx="12.5" cy="53.6" rx="0.8" ry="0.7" stroke="none" transform="rotate(67 12.5 53.6)"/>
</g>
<g opacity="0.63"><ellipse cx="18.9" cy="47.0" rx="1.2" ry="0.9" stroke="none" transform="rotate(47 18.9 47.0)"/>
<circle cx="18.2" cy="47.3" r="0.6" stroke="none"/>
<path d="M18.9 47.0L17.6 45.6M18.9 47.0L18.1 50.9" fill="none"/>
</g>
<g opacity="0.78"><ellipse cx="40.8" cy="33.3" rx="1.7" ry="1.2" stroke="none" transform="rotate(142 40.8 33.3)"/>
<path d="M40.8 33.3L38.2 33.2" fill="none"/>
</g>
<g opacity="0.87"><ellipse cx="29.5" cy="19.7" rx="1.3" ry="0.8" stroke="none" transform="rotate(109 29.5 19.7)"/>
<path d="M29.5 19.7L28.8 18.0M29.5 19.7L27.9 22.6" fill="none"/>
</g>
<g opacity="0.78"><ellipse cx="22.8" cy="1.2" rx="1.1" ry="0.8" stroke="none" transform="rotate(155 22.8 1.2)"/>
<path d="M22.8 1.2L25.5 3.6M22.8 1.2L22.3 2.8M22.8 1.2L21.2 -1.1" fill="none"/>
</g>
<g opacity="0.72"><ellipse cx="10.0" cy="18.9" rx="2.0" ry="1.5" stroke="none" transform="rotate(59 10.0 18.9)"/>
<path d="M10.0 18.9L12.7 17.5" fill="none"/>
</g>
<g opacity="0.78"><ellipse cx="57.0" cy="21.2" rx="1.0" ry="0.8" stroke="none" transform="rotate(113 57.0 21.2)"/>
<circle cx="57.0" cy="22.0" r="0.4" stroke="none"/>
<circle cx="56.8" cy="20.7" r="0.5" stroke="none"/>
<path d="M57.0 21.2L58.5 19.9M57.0 21.2L58.7 19.7" fill="none"/>
</g>
<g opacity="0.67"><ellipse cx="18.6" cy="36.7" rx="1.0" ry="0.9" stroke="none" transform="rotate(172 18.6 36.7)"/>
</g>
<g opacity="0.96"><ellipse cx="8.2" cy="30.7" rx="1.3" ry="1.0" stroke="none" transform="rotate(0 8.2 30.7)"/>
<circle cx="7.6" cy="30.2" r="0.4" stroke="none"/>
<circle cx="7.8" cy="30.3" r="0.7" stroke="none"/>
<path d="M8.2 30.7L10.3 30.5M8.2 30.7L7.5 28.2" fill="none"/>
</g>
<g opacity="0.91"><ellipse cx="9.8" cy="45.5" rx="1.0" ry="0.8" stroke="none" transform="rotate(60 9.8 45.5)"/>
<path d="M9.8 45.5L12.7 46.8" fill="none"/>
</g>
<g opacity="0.69"><ellipse cx="27.3" cy="44.4" rx="1.5" ry="1.2" stroke="none" transform="rotate(114 27.3 44.4)"/>
<circle cx="28.2" cy="44.8" r="0.6" stroke="none"/>
<circle cx="27.9" cy="44.8" r="0.9" stroke="none"/>
<path d="M27.3 44.4L25.3 44.4M27.3 44.4L29.8 47.7" fill="none"/>
</g>
<g opacity="0.61"><ellipse cx="53.0" cy="19.1" rx="2.6" ry="1.7" stroke="none" transform="rotate(123 53.0 19.1)"/>
<path d="M53.0 19.1L50.0 20.5M53.0 19.1L50.4 21.0M53.0 19.1L51.5 21.9" fill="none"/>
</g>
<g opacity="0.82"><ellipse cx="3.8" cy="51.7" rx="1.3" ry="1.1" stroke="none" transform="rotate(166 3.8 51.7)"/>
<circle cx="3.3" cy="51.2" r="0.7" stroke="none"/>
</g>
<g opacity="0.67"><ellipse cx="1.4" cy="15.8" rx="2.3" ry="1.7" stroke="none" transform="rotate(160 1.4 15.8)"/>
<path d="M1.4 15.8L-0.2 18.5" fill="none"/>
</g>
<g opacity="0.66"><ellipse cx="43.7" cy="42.8" rx="2.0" ry="1.5" stroke="none" transform="rotate(41 43.7 42.8)"/>
<circle cx="43.0" cy="42.0" r="1.1" stroke="none"/>
<path d="M43.7 42.8L40.0 43.0" fill="none"/>
</g>
<g opacity="0.95"><ellipse cx="1.6" cy="18.5" rx="1.3" ry="0.9" stroke="none" transform="rotate(64 1.6 18.5)"/>
<circle cx="2.1" cy="19.1" r="0.6" stroke="none"/>
<path d="M1.6 18.5L0.3 15.5M1.6 18.5L-0.7 21.0" fill="none"/>
</g>
<g opacity="0.70"><ellipse cx="55.1" cy="52.4" rx="0.9" ry="0.9" stroke="none" transform="rotate(56 55.1 52.4)"/>
<circle cx="55.2" cy="51.9" r="0.5" stroke="none"/>
<path d="M55.1 52.4L57.9 49.6" fill="none"/>
</g>
<g opacity="0.88"><ellipse cx="59.7" cy="32.5" rx="1.4" ry="0.9" stroke="none" transform="rotate(178 59.7 32.5)"/>
<path d="M59.7 32.5L57.9 29.7" fill="none"/>
</g>
<g opacity="0.93"><ellipse cx="6.1" cy="25.3" rx="1.4" ry="1.1" stroke="none" transform="rotate(119 6.1 25.3)"/>
<circle cx="7.0" cy="25.8" r="0.7" stroke="none"/>
<circle cx="6.7" cy="26.1" r="0.6" stroke="none"/>
</g>
<g opacity="0.67"><ellipse cx="28.1" cy="18.7" rx="1.5" ry="1.2" stroke="none" transform="rotate(172 28.1 18.7)"/>
<path d="M28.1 18.7L25.1 18.4" fill="none"/>
</g>
<g opacity="0.83"><ellipse cx="29.4" cy="18.5" rx="2.4" ry="1.5" stroke="none" transform="rotate(15 29.4 18.5)"/>
</g>
<g opacity="0.91"><ellipse cx="15.7" cy="25.0" rx="0.6" ry="0.6" stroke="none" transform="rotate(107 15.7 25.0)"/>
<circle cx="15.7" cy="24.7" r="0.3" stroke="none"/>
<path d="M15.7 25.0L12.7 25.9M15.7 25.0L13.3 24.8M15.7 25.0L14.3 26.0" fill="none"/>
</g>
<g opacity="0.72"><ellipse cx="15.3" cy="57.5" rx="1.7" ry="1.2" stroke="none" transform="rotate(135 15.3 57.5)"/>
<circle cx="16.0" cy="58.2" r="0.9" stroke="none"/>
<path d="M15.3 57.5L13.5 56.6" fill="none"/>
</g>
<g opacity="0.80"><ellipse cx="32.2" cy="39.2" rx="1.7" ry="1.2" stroke="none" transform="rotate(53 32.2 39.2)"/>
<circle cx="32.5" cy="40.0" r="0.6" stroke="none"/>
<circle cx="33.1" cy="38.8" r="0.9" stroke="none"/>
<path d="M32.2 39.2L33.6 37.4M32.2 39.2L31.7 41.2M32.2 39.2L34.3 37.4" fill="none"/>
</g>
</g>
<g id="cs4n">
<circle cx="34.8" cy="35.1" r="0.9"/>
<circle cx="20.1" cy="16.6" r="0.8"/>
<circle cx="37.2" cy="37.3" r="0.8"/>
<circle cx="28.1" cy="32.5" r="0.8"/>
<circle cx="7.7" cy="53.3" r="0.8"/>
<circle cx="31.2" cy="17.5" r="0.8"/>
<circle cx="17.6" cy="10.0" r="0.8"/>
<circle cx="55.5" cy="5.4" r="0.8"/>
<circle cx="42.8" cy="36.2" r="0.8"/>
<circle cx="15.2" cy="16.7" r="1.0"/>
<circle cx="27.8" cy="15.4" r="0.8"/>
<circle cx="30.4" cy="9.3" r="0.8"/>
<circle cx="44.3" cy="27.8" r="0.9"/>
<circle cx="47.3" cy="54.9" r="0.9"/>
<circle cx="4.3" cy="29.4" r="0.8"/>
<circle cx="21.2" cy="39.5" r="0.8"/>
<circle cx="38.1" cy="35.5" r="1.0"/>
<circle cx="56.5" cy="40.8" r="0.9"/>
<circle cx="43.3" cy="13.9" r="0.9"/>
<circle cx="38.4" cy="4.3" r="0.9"/>
<circle cx="15.1" cy="28.7" r="0.9"/>
<circle cx="44.4" cy="44.1" r="0.8"/>
<circle cx="57.3" cy="25.9" r="1.0"/>
<circle cx="60.4" cy="19.2" r="0.9"/>
<circle cx="58.3" cy="5.6" r="0.9"/>
<circle cx="40.2" cy="31.3" r="1.0"/>
<circle cx="52.6" cy="9.2" r="0.9"/>
<circle cx="38.1" cy="40.3" r="0.9"/>
<circle cx="49.2" cy="47.6" r="0.8"/>
<circle cx="26.9" cy="52.4" r="1.2"/>
<circle cx="46.4" cy="19.7" r="1.0"/>
<circle cx="33.1" cy="38.6" r="0.8"/>
<circle cx="52.9" cy="41.2" r="1.2"/>
<circle cx="30.9" cy="28.7" r="0.9"/>
<circle cx="34.9" cy="3.6" r="1.2"/>
<circle cx="20.5" cy="29.1" r="0.8"/>
<circle cx="12.9" cy="53.3" r="0.8"/>
<circle cx="19.3" cy="46.7" r="0.8"/>
<circle cx="41.2" cy="33.0" r="0.9"/>
<circle cx="29.9" cy="19.4" r="0.8"/>
<circle cx="23.2" cy="0.9" r="0.8"/>
<circle cx="10.4" cy="18.6" r="1.1"/>
<circle cx="57.4" cy="20.9" r="0.8"/>
<circle cx="19.0" cy="36.4" r="0.8"/>
<circle cx="8.6" cy="30.4" r="0.8"/>
<circle cx="10.2" cy="45.2" r="0.8"/>
<circle cx="27.7" cy="44.1" r="0.9"/>
<circle cx="53.4" cy="18.8" r="1.3"/>
<circle cx="4.2" cy="51.4" r="0.9"/>
<circle cx="1.8" cy="15.5" r="1.3"/>
<circle cx="44.1" cy="42.5" r="1.1"/>
<circle cx="2.0" cy="18.2" r="0.8"/>
<circle cx="55.5" cy="52.1" r="0.8"/>
<circle cx="60.1" cy="32.2" r="0.8"/>
<circle cx="6.5" cy="25.0" r="0.8"/>
<circle cx="28.5" cy="18.4" r="0.9"/>
<circle cx="29.8" cy="18.2" r="1.2"/>
<circle cx="16.1" cy="24.7" r="0.8"/>
<circle cx="15.7" cy="57.2" r="0.9"/>
<circle cx="32.6" cy="38.9" r="0.9"/>
</g></defs>
<clipPath id="c31"><rect x="37.00" y="450.00" width="61.70" height="58.80"/></clipPath>
<g clip-path="url(#c31)">
<rect x="37.00" y="450.00" width="61.70" height="58.80" fill="#061c08"/>
<use href="#cs0" x="37.00" y="450.00" fill="#229a2e" stroke="#229a2e" stroke-width="2.2" opacity="0.80" filter="url(#b3)"/>
<use href="#cs0" x="37.00" y="450.00" fill="#48e45a" stroke="#48e45a" stroke-width="0.7" opacity="1.00" filter="url(#b1)"/>
<g fill="#2ba838">
<circle cx="56.0" cy="484.0" r="0.38" opacity="0.62"/>
<circle cx="65.8" cy="469.6" r="0.57" opacity="0.62"/>
<circle cx="90.0" cy="489.1" r="0.36" opacity="0.46"/>
<circle cx="51.8" cy="496.6" r="0.30" opacity="0.62"/>
<circle cx="47.3" cy="468.0" r="0.49" opacity="0.57"/>
<circle cx="68.6" cy="482.7" r="0.48" opacity="0.54"/>
<circle cx="43.7" cy="467.8" r="0.31" opacity="0.53"/>
<circle cx="55.2" cy="464.2" r="0.38" opacity="0.68"/>
<circle cx="44.9" cy="503.0" r="0.57" opacity="0.38"/>
<circle cx="88.2" cy="461.5" r="0.49" opacity="0.35"/>
<circle cx="56.6" cy="479.0" r="0.41" opacity="0.63"/>
<circle cx="76.9" cy="452.0" r="0.47" opacity="0.34"/>
<circle cx="47.8" cy="472.9" r="0.39" opacity="0.52"/>
<circle cx="97.7" cy="495.8" r="0.46" opacity="0.64"/>
</g>
</g>
<clipPath id="c32"><rect x="37.00" y="511.15" width="61.70" height="58.80"/></clipPath>
<g clip-path="url(#c32)">
<rect x="37.00" y="511.15" width="61.70" height="58.80" fill="#0c0101"/>
<use href="#cs0" x="37.00" y="511.15" fill="#8a1c10" stroke="#8a1c10" stroke-width="1.6" opacity="0.39" filter="url(#b3)"/>
<use href="#cs0" x="37.00" y="511.15" fill="#d03a20" stroke="#d03a20" stroke-width="0.9" opacity="0.56" filter="url(#e1)"/>
</g>
<clipPath id="c33"><rect x="37.00" y="572.30" width="61.70" height="58.80"/></clipPath>
<g clip-path="url(#c33)">
<rect x="37.00" y="572.30" width="61.70" height="58.80" fill="#0a1b12"/>
<use href="#cs0" x="37.00" y="572.30" fill="#229a2e" stroke="#229a2e" stroke-width="2.2" opacity="0.72" filter="url(#b3)"/>
<use href="#cs0" x="37.00" y="572.30" fill="#40d858" stroke="#40d858" stroke-width="0.7" opacity="0.90" filter="url(#b1)"/>
<use href="#cs0" x="37.90" y="573.00" fill="#e04828" stroke="#e04828" stroke-width="0.9" opacity="0.45" filter="url(#b1)" style="mix-blend-mode:screen"/>
<use href="#cs0n" x="37.00" y="572.30" fill="#5a78ff" opacity="0.8" filter="url(#b1)" style="mix-blend-mode:screen"/>
<g fill="#e08a40" filter="url(#b1)">
<circle cx="53.8" cy="604.2" r="0.61" opacity="0.88"/>
<circle cx="59.8" cy="603.6" r="0.51" opacity="0.72"/>
<circle cx="88.9" cy="630.7" r="0.68" opacity="0.88"/>
<circle cx="40.4" cy="586.5" r="0.68" opacity="0.73"/>
<circle cx="45.9" cy="608.8" r="0.68" opacity="0.59"/>
<circle cx="58.8" cy="582.5" r="0.69" opacity="0.58"/>
<circle cx="52.9" cy="576.9" r="0.43" opacity="0.51"/>
<circle cx="37.2" cy="603.3" r="0.49" opacity="0.65"/>
<circle cx="72.7" cy="590.8" r="0.62" opacity="0.60"/>
<circle cx="67.7" cy="594.0" r="0.62" opacity="0.68"/>
</g>
</g>
<clipPath id="c34"><rect x="101.75" y="450.00" width="61.70" height="58.80"/></clipPath>
<g clip-path="url(#c34)">
<rect x="101.75" y="450.00" width="61.70" height="58.80" fill="#071c09"/>
<use href="#cs1" x="101.75" y="450.00" fill="#229a2e" stroke="#229a2e" stroke-width="2.2" opacity="0.76" filter="url(#b3)"/>
<use href="#cs1" x="101.75" y="450.00" fill="#48e45a" stroke="#48e45a" stroke-width="0.7" opacity="0.95" filter="url(#b1)"/>
<g fill="#2ba838">
<circle cx="132.3" cy="482.7" r="0.54" opacity="0.43"/>
<circle cx="121.6" cy="490.8" r="0.45" opacity="0.44"/>
<circle cx="126.8" cy="469.4" r="0.35" opacity="0.55"/>
<circle cx="156.9" cy="490.5" r="0.49" opacity="0.44"/>
<circle cx="128.5" cy="458.5" r="0.52" opacity="0.42"/>
<circle cx="119.8" cy="507.7" r="0.40" opacity="0.69"/>
<circle cx="139.9" cy="494.8" r="0.49" opacity="0.37"/>
<circle cx="145.7" cy="465.2" r="0.42" opacity="0.35"/>
<circle cx="105.4" cy="471.6" r="0.30" opacity="0.45"/>
<circle cx="154.2" cy="508.7" r="0.43" opacity="0.34"/>
<circle cx="123.1" cy="453.7" r="0.37" opacity="0.55"/>
<circle cx="139.8" cy="451.8" r="0.45" opacity="0.47"/>
<circle cx="126.3" cy="457.9" r="0.42" opacity="0.34"/>
<circle cx="144.1" cy="488.2" r="0.49" opacity="0.46"/>
</g>
</g>
<clipPath id="c35"><rect x="101.75" y="511.15" width="61.70" height="58.80"/></clipPath>
<g clip-path="url(#c35)">
<rect x="101.75" y="511.15" width="61.70" height="58.80" fill="#0f0202"/>
<use href="#cs1" x="101.75" y="511.15" fill="#8a1c10" stroke="#8a1c10" stroke-width="1.6" opacity="0.44" filter="url(#b3)"/>
<use href="#cs1" x="101.75" y="511.15" fill="#d03a20" stroke="#d03a20" stroke-width="0.9" opacity="0.64" filter="url(#e1)"/>
</g>
<clipPath id="c36"><rect x="101.75" y="572.30" width="61.70" height="58.80"/></clipPath>
<g clip-path="url(#c36)">
<rect x="101.75" y="572.30" width="61.70" height="58.80" fill="#0a1b14"/>
<use href="#cs1" x="101.75" y="572.30" fill="#229a2e" stroke="#229a2e" stroke-width="2.2" opacity="0.68" filter="url(#b3)"/>
<use href="#cs1" x="101.75" y="572.30" fill="#40d858" stroke="#40d858" stroke-width="0.7" opacity="0.85" filter="url(#b1)"/>
<use href="#cs1" x="102.65" y="573.00" fill="#e04828" stroke="#e04828" stroke-width="0.9" opacity="0.50" filter="url(#b1)" style="mix-blend-mode:screen"/>
<use href="#cs1n" x="101.75" y="572.30" fill="#5a78ff" opacity="0.8" filter="url(#b1)" style="mix-blend-mode:screen"/>
<g fill="#e08a40" filter="url(#b1)">
<circle cx="133.0" cy="599.0" r="0.57" opacity="0.65"/>
<circle cx="153.2" cy="581.7" r="0.54" opacity="0.81"/>
<circle cx="139.1" cy="625.6" r="0.49" opacity="0.64"/>
<circle cx="120.6" cy="580.1" r="0.42" opacity="0.71"/>
<circle cx="120.1" cy="606.4" r="0.69" opacity="0.90"/>
<circle cx="149.8" cy="591.8" r="0.52" opacity="0.86"/>
<circle cx="116.2" cy="620.7" r="0.47" opacity="0.68"/>
<circle cx="136.1" cy="628.7" r="0.62" opacity="0.84"/>
<circle cx="123.3" cy="592.8" r="0.66" opacity="0.73"/>
<circle cx="146.1" cy="578.1" r="0.42" opacity="0.67"/>
</g>
</g>
<clipPath id="c37"><rect x="166.50" y="450.00" width="61.70" height="58.80"/></clipPath>
<g clip-path="url(#c37)">
<rect x="166.50" y="450.00" width="61.70" height="58.80" fill="#071f09"/>
<use href="#cs2" x="166.50" y="450.00" fill="#229a2e" stroke="#229a2e" stroke-width="2.2" opacity="0.68" filter="url(#b3)"/>
<use href="#cs2" x="166.50" y="450.00" fill="#48e45a" stroke="#48e45a" stroke-width="0.7" opacity="0.85" filter="url(#b1)"/>
<g fill="#2ba838">
<circle cx="223.8" cy="460.2" r="0.59" opacity="0.40"/>
<circle cx="195.2" cy="502.8" r="0.41" opacity="0.50"/>
<circle cx="176.5" cy="506.5" r="0.60" opacity="0.37"/>
<circle cx="174.1" cy="477.8" r="0.46" opacity="0.61"/>
<circle cx="187.6" cy="484.7" r="0.35" opacity="0.39"/>
<circle cx="171.4" cy="482.1" r="0.47" opacity="0.55"/>
<circle cx="224.2" cy="468.0" r="0.40" opacity="0.49"/>
<circle cx="224.9" cy="468.1" r="0.39" opacity="0.47"/>
<circle cx="209.1" cy="466.4" r="0.35" opacity="0.59"/>
<circle cx="202.0" cy="484.1" r="0.30" opacity="0.40"/>
<circle cx="172.8" cy="471.5" r="0.57" opacity="0.70"/>
<circle cx="218.7" cy="471.7" r="0.47" opacity="0.66"/>
<circle cx="187.7" cy="473.5" r="0.51" opacity="0.44"/>
<circle cx="195.7" cy="471.3" r="0.55" opacity="0.51"/>
</g>
</g>
<clipPath id="c38"><rect x="166.50" y="511.15" width="61.70" height="58.80"/></clipPath>
<g clip-path="url(#c38)">
<rect x="166.50" y="511.15" width="61.70" height="58.80" fill="#120202"/>
<use href="#cs2" x="166.50" y="511.15" fill="#8a1c10" stroke="#8a1c10" stroke-width="1.6" opacity="0.47" filter="url(#b3)"/>
<use href="#cs2" x="166.50" y="511.15" fill="#d03a20" stroke="#d03a20" stroke-width="0.9" opacity="0.68" filter="url(#e1)"/>
</g>
<clipPath id="c39"><rect x="166.50" y="572.30" width="61.70" height="58.80"/></clipPath>
<g clip-path="url(#c39)">
<rect x="166.50" y="572.30" width="61.70" height="58.80" fill="#0b1e17"/>
<use href="#cs2" x="166.50" y="572.30" fill="#229a2e" stroke="#229a2e" stroke-width="2.2" opacity="0.64" filter="url(#b3)"/>
<use href="#cs2" x="166.50" y="572.30" fill="#40d858" stroke="#40d858" stroke-width="0.7" opacity="0.80" filter="url(#b1)"/>
<use href="#cs2" x="167.40" y="573.00" fill="#e04828" stroke="#e04828" stroke-width="0.9" opacity="0.65" filter="url(#b1)" style="mix-blend-mode:screen"/>
<use href="#cs2n" x="166.50" y="572.30" fill="#5a78ff" opacity="0.85" filter="url(#b1)" style="mix-blend-mode:screen"/>
<g fill="#e08a40" filter="url(#b1)">
<circle cx="175.4" cy="601.1" r="0.55" opacity="0.89"/>
<circle cx="216.6" cy="618.8" r="0.60" opacity="0.56"/>
<circle cx="222.8" cy="597.8" r="0.57" opacity="0.54"/>
<circle cx="185.5" cy="621.8" r="0.44" opacity="0.53"/>
<circle cx="186.6" cy="592.8" r="0.55" opacity="0.69"/>
<circle cx="177.7" cy="572.4" r="0.51" opacity="0.62"/>
<circle cx="199.7" cy="605.2" r="0.61" opacity="0.68"/>
<circle cx="190.2" cy="610.3" r="0.67" opacity="0.76"/>
<circle cx="168.1" cy="589.9" r="0.69" opacity="0.89"/>
<circle cx="184.9" cy="584.8" r="0.40" opacity="0.55"/>
</g>
</g>
<clipPath id="c40"><rect x="231.25" y="450.00" width="61.70" height="58.80"/></clipPath>
<g clip-path="url(#c40)">
<rect x="231.25" y="450.00" width="61.70" height="58.80" fill="#06190a"/>
<use href="#cs3" x="231.25" y="450.00" fill="#229a2e" stroke="#229a2e" stroke-width="2.2" opacity="0.48" filter="url(#b3)"/>
<use href="#cs3" x="231.25" y="450.00" fill="#48e45a" stroke="#48e45a" stroke-width="0.7" opacity="0.60" filter="url(#b1)"/>
<g fill="#2ba838">
<circle cx="258.7" cy="467.3" r="0.57" opacity="0.49"/>
<circle cx="236.6" cy="494.1" r="0.32" opacity="0.38"/>
<circle cx="235.8" cy="486.9" r="0.55" opacity="0.54"/>
<circle cx="245.0" cy="499.7" r="0.56" opacity="0.43"/>
<circle cx="248.1" cy="489.6" r="0.59" opacity="0.67"/>
<circle cx="285.3" cy="492.1" r="0.37" opacity="0.55"/>
<circle cx="257.7" cy="487.6" r="0.45" opacity="0.38"/>
<circle cx="286.6" cy="452.1" r="0.40" opacity="0.43"/>
<circle cx="290.9" cy="456.9" r="0.47" opacity="0.68"/>
<circle cx="269.0" cy="504.5" r="0.42" opacity="0.48"/>
<circle cx="254.1" cy="471.7" r="0.40" opacity="0.33"/>
<circle cx="292.0" cy="493.1" r="0.50" opacity="0.51"/>
<circle cx="243.6" cy="463.3" r="0.59" opacity="0.63"/>
<circle cx="259.4" cy="493.7" r="0.59" opacity="0.32"/>
</g>
</g>
<clipPath id="c41"><rect x="231.25" y="511.15" width="61.70" height="58.80"/></clipPath>
<g clip-path="url(#c41)">
<rect x="231.25" y="511.15" width="61.70" height="58.80" fill="#120202"/>
<use href="#cs3" x="231.25" y="511.15" fill="#8a1c10" stroke="#8a1c10" stroke-width="1.6" opacity="0.50" filter="url(#b3)"/>
<use href="#cs3" x="231.25" y="511.15" fill="#d03a20" stroke="#d03a20" stroke-width="0.9" opacity="0.72" filter="url(#e1)"/>
</g>
<clipPath id="c42"><rect x="231.25" y="572.30" width="61.70" height="58.80"/></clipPath>
<g clip-path="url(#c42)">
<rect x="231.25" y="572.30" width="61.70" height="58.80" fill="#0f1826"/>
<use href="#cs3" x="231.25" y="572.30" fill="#229a2e" stroke="#229a2e" stroke-width="2.2" opacity="0.14" filter="url(#b3)"/>
<use href="#cs3" x="231.25" y="572.30" fill="#40d858" stroke="#40d858" stroke-width="0.7" opacity="0.18" filter="url(#b1)"/>
<use href="#cs3" x="232.15" y="573.00" fill="#e04828" stroke="#e04828" stroke-width="0.9" opacity="0.65" filter="url(#b1)" style="mix-blend-mode:screen"/>
<use href="#cs3n" x="231.25" y="572.30" fill="#5a78ff" opacity="1.0" filter="url(#b1)" style="mix-blend-mode:screen"/>
<g fill="#e08a40" filter="url(#b1)">
<circle cx="261.9" cy="622.7" r="0.43" opacity="0.65"/>
<circle cx="234.3" cy="610.5" r="0.46" opacity="0.62"/>
<circle cx="281.8" cy="575.5" r="0.45" opacity="0.62"/>
<circle cx="281.3" cy="600.3" r="0.59" opacity="0.86"/>
<circle cx="245.4" cy="598.5" r="0.45" opacity="0.81"/>
<circle cx="232.5" cy="616.8" r="0.50" opacity="0.73"/>
<circle cx="242.8" cy="627.1" r="0.50" opacity="0.68"/>
<circle cx="289.2" cy="607.4" r="0.50" opacity="0.59"/>
<circle cx="287.4" cy="614.5" r="0.59" opacity="0.72"/>
<circle cx="288.1" cy="579.8" r="0.51" opacity="0.83"/>
</g>
</g>
<clipPath id="c43"><rect x="296.00" y="450.00" width="61.70" height="58.80"/></clipPath>
<g clip-path="url(#c43)">
<rect x="296.00" y="450.00" width="61.70" height="58.80" fill="#051508"/>
<use href="#cs4" x="296.00" y="450.00" fill="#229a2e" stroke="#229a2e" stroke-width="2.2" opacity="0.40" filter="url(#b3)"/>
<use href="#cs4" x="296.00" y="450.00" fill="#48e45a" stroke="#48e45a" stroke-width="0.7" opacity="0.50" filter="url(#b1)"/>
<g fill="#2ba838">
<circle cx="325.4" cy="487.1" r="0.42" opacity="0.67"/>
<circle cx="297.0" cy="508.1" r="0.51" opacity="0.62"/>
<circle cx="345.6" cy="461.8" r="0.55" opacity="0.56"/>
<circle cx="305.1" cy="500.6" r="0.43" opacity="0.59"/>
<circle cx="301.2" cy="490.0" r="0.30" opacity="0.33"/>
<circle cx="302.5" cy="452.7" r="0.48" opacity="0.39"/>
<circle cx="308.1" cy="497.9" r="0.53" opacity="0.46"/>
<circle cx="309.2" cy="493.7" r="0.46" opacity="0.44"/>
<circle cx="314.9" cy="471.4" r="0.45" opacity="0.37"/>
<circle cx="296.1" cy="477.4" r="0.36" opacity="0.32"/>
<circle cx="313.3" cy="489.6" r="0.55" opacity="0.31"/>
<circle cx="345.8" cy="467.8" r="0.56" opacity="0.65"/>
<circle cx="314.4" cy="487.7" r="0.47" opacity="0.39"/>
<circle cx="355.4" cy="488.6" r="0.58" opacity="0.36"/>
</g>
</g>
<clipPath id="c44"><rect x="296.00" y="511.15" width="61.70" height="58.80"/></clipPath>
<g clip-path="url(#c44)">
<rect x="296.00" y="511.15" width="61.70" height="58.80" fill="#150303"/>
<use href="#cs4" x="296.00" y="511.15" fill="#8a1c10" stroke="#8a1c10" stroke-width="1.6" opacity="0.55" filter="url(#b3)"/>
<use href="#cs4" x="296.00" y="511.15" fill="#d03a20" stroke="#d03a20" stroke-width="0.9" opacity="0.80" filter="url(#e1)"/>
</g>
<clipPath id="c45"><rect x="296.00" y="572.30" width="61.70" height="58.80"/></clipPath>
<g clip-path="url(#c45)">
<rect x="296.00" y="572.30" width="61.70" height="58.80" fill="#160e2e"/>
<use href="#cs4" x="296.00" y="572.30" fill="#229a2e" stroke="#229a2e" stroke-width="2.2" opacity="0.04" filter="url(#b3)"/>
<use href="#cs4" x="296.00" y="572.30" fill="#40d858" stroke="#40d858" stroke-width="0.7" opacity="0.05" filter="url(#b1)"/>
<use href="#cs4" x="296.90" y="573.00" fill="#e04828" stroke="#e04828" stroke-width="0.9" opacity="1.00" filter="url(#b1)" style="mix-blend-mode:screen"/>
<use href="#cs4n" x="296.00" y="572.30" fill="#5a78ff" opacity="0.9" filter="url(#b1)" style="mix-blend-mode:screen"/>
<g fill="#e08a40" filter="url(#b1)">
<circle cx="341.1" cy="626.0" r="0.41" opacity="0.50"/>
<circle cx="357.3" cy="591.0" r="0.46" opacity="0.70"/>
<circle cx="330.0" cy="615.8" r="0.58" opacity="0.72"/>
<circle cx="342.7" cy="587.7" r="0.54" opacity="0.86"/>
<circle cx="340.8" cy="607.8" r="0.44" opacity="0.88"/>
<circle cx="298.7" cy="620.0" r="0.44" opacity="0.70"/>
<circle cx="338.4" cy="603.8" r="0.40" opacity="0.58"/>
<circle cx="322.1" cy="589.5" r="0.43" opacity="0.55"/>
<circle cx="341.1" cy="604.3" r="0.54" opacity="0.51"/>
<circle cx="343.0" cy="630.5" r="0.62" opacity="0.69"/>
</g>
</g>
<rect x="340.6" y="624.6" width="11" height="0.7" fill="#777"/>
<rect x="446.00" y="285.20" width="20.50" height="78.60" fill="url(#bPBS)" stroke="#4a7abf" stroke-width="1.4"/>
<path d="M456.25 266.20 V302.30 M451.00 266.20 H461.50 M451.00 302.30 H461.50" stroke="#6f93cc" stroke-width="1.0" fill="none"/>
<rect x="479.30" y="318.60" width="20.50" height="45.20" fill="url(#baT)" stroke="#6448ac" stroke-width="1.4"/>
<path d="M489.55 307.00 V328.20 M484.30 307.00 H494.80 M484.30 328.20 H494.80" stroke="#a28ad2" stroke-width="1.0" fill="none"/>
<rect x="512.40" y="313.70" width="20.50" height="50.10" fill="url(#bExo)" stroke="#b432ac" stroke-width="1.4"/>
<path d="M522.65 307.10 V318.50 M517.40 307.10 H527.90 M517.40 318.50 H527.90" stroke="#d070cf" stroke-width="1.0" fill="none"/>
<rect x="545.50" y="323.20" width="20.50" height="40.60" fill="url(#baTpE)" stroke="#72aa3a" stroke-width="1.4"/>
<path d="M555.75 315.90 V328.40 M550.50 315.90 H561.00 M550.50 328.40 H561.00" stroke="#9cc068" stroke-width="1.0" fill="none"/>
<rect x="578.60" y="341.60" width="20.50" height="22.20" fill="url(#baTmE)" stroke="#1a6a8a" stroke-width="1.4"/>
<path d="M588.85 337.20 V342.90 M583.60 337.20 H594.10 M583.60 342.90 H594.10" stroke="#2a86aa" stroke-width="1.0" fill="none"/>
<path d="M434.6 251.8 V363.8 H611" fill="none" stroke="#111" stroke-width="1.6"/>
<line x1="428.3" y1="363.80" x2="434.6" y2="363.80" stroke="#111" stroke-width="1.2"/>
<text x="427.00" y="366.70" font-size="8.2" fill="#111" text-anchor="end" font-weight="bold" stroke="#111" stroke-width="0.28">0.000</text>
<line x1="428.3" y1="341.52" x2="434.6" y2="341.52" stroke="#111" stroke-width="1.2"/>
<text x="427.00" y="344.42" font-size="8.2" fill="#111" text-anchor="end" font-weight="bold" stroke="#111" stroke-width="0.28">0.005</text>
<line x1="428.3" y1="319.24" x2="434.6" y2="319.24" stroke="#111" stroke-width="1.2"/>
<text x="427.00" y="322.14" font-size="8.2" fill="#111" text-anchor="end" font-weight="bold" stroke="#111" stroke-width="0.28">0.010</text>
<line x1="428.3" y1="296.96" x2="434.6" y2="296.96" stroke="#111" stroke-width="1.2"/>
<text x="427.00" y="299.86" font-size="8.2" fill="#111" text-anchor="end" font-weight="bold" stroke="#111" stroke-width="0.28">0.015</text>
<line x1="428.3" y1="274.68" x2="434.6" y2="274.68" stroke="#111" stroke-width="1.2"/>
<text x="427.00" y="277.58" font-size="8.2" fill="#111" text-anchor="end" font-weight="bold" stroke="#111" stroke-width="0.28">0.020</text>
<line x1="428.3" y1="252.40" x2="434.6" y2="252.40" stroke="#111" stroke-width="1.2"/>
<text x="427.00" y="255.30" font-size="8.2" fill="#111" text-anchor="end" font-weight="bold" stroke="#111" stroke-width="0.28">0.025</text>
<line x1="456.25" y1="363.8" x2="456.25" y2="369.40000000000003" stroke="#111" stroke-width="1.2"/>
<text x="455.85" y="379.00" font-size="8.1" fill="#111" text-anchor="middle" font-weight="bold" stroke="#111" stroke-width="0.28">PBS</text>
<line x1="489.55" y1="363.8" x2="489.55" y2="369.40000000000003" stroke="#111" stroke-width="1.2"/>
<text x="489.15" y="379.00" font-size="8.1" fill="#111" text-anchor="middle" font-weight="bold" stroke="#111" stroke-width="0.28">aT</text>
<line x1="522.65" y1="363.8" x2="522.65" y2="369.40000000000003" stroke="#111" stroke-width="1.2"/>
<text x="522.25" y="379.00" font-size="8.1" fill="#111" text-anchor="middle" font-weight="bold" stroke="#111" stroke-width="0.28">Exo</text>
<line x1="555.75" y1="363.8" x2="555.75" y2="369.40000000000003" stroke="#111" stroke-width="1.2"/>
<text x="555.35" y="379.00" font-size="8.1" fill="#111" text-anchor="middle" font-weight="bold" stroke="#111" stroke-width="0.28">aT+Exo</text>
<line x1="588.85" y1="363.8" x2="588.85" y2="369.40000000000003" stroke="#111" stroke-width="1.2"/>
<text x="588.45" y="379.00" font-size="8.1" fill="#111" text-anchor="middle" font-weight="bold" stroke="#111" stroke-width="0.28">aT-Exo</text>
<text x="400.60" y="308.50" font-size="8.7" fill="#111" text-anchor="middle" font-weight="bold" stroke="#111" stroke-width="0.28" transform="rotate(-90 400.60 308.50)">Ratio of dead cells</text>
<line x1="455.80" y1="252.50" x2="589.30" y2="252.50" stroke="#111" stroke-width="1.2"/>
<text x="522.50" y="253.20" font-size="10.5" fill="#111" text-anchor="middle" font-weight="bold" stroke="#111" stroke-width="0.28">*</text>
<rect x="405.2" y="465.6" width="11.6" height="6.0" fill="url(#bPBS)" stroke="#4a7abf" stroke-width="1"/>
<text x="422.20" y="471.60" font-size="8.6" fill="#222" text-anchor="start" stroke="#222" stroke-width="0.12">PBS</text>
<rect x="446.8" y="465.6" width="11.6" height="6.0" fill="url(#baT)" stroke="#6448ac" stroke-width="1"/>
<text x="464.00" y="471.60" font-size="8.6" fill="#222" text-anchor="start" stroke="#222" stroke-width="0.12">aT</text>
<rect x="482.6" y="465.6" width="11.6" height="6.0" fill="url(#bExo)" stroke="#b432ac" stroke-width="1"/>
<text x="499.80" y="471.60" font-size="8.6" fill="#222" text-anchor="start" stroke="#222" stroke-width="0.12">Exo</text>
<rect x="523.5" y="465.6" width="11.6" height="6.0" fill="url(#baTpE)" stroke="#72aa3a" stroke-width="1"/>
<text x="541.00" y="471.60" font-size="8.6" fill="#222" text-anchor="start" stroke="#222" stroke-width="0.12">aT+Exo</text>
<rect x="573.5" y="465.6" width="11.6" height="6.0" fill="url(#baTmE)" stroke="#1a6a8a" stroke-width="1"/>
<text x="591.00" y="471.60" font-size="8.6" fill="#222" text-anchor="start" stroke="#222" stroke-width="0.12">aT-Exo</text>
<rect x="432.50" y="529.65" width="10.20" height="66.75" fill="url(#bPBS)" stroke="#4a7abf" stroke-width="1.2"/>
<path d="M437.60 526.52 V531.57 M434.80 526.52 H440.40 M434.80 531.57 H440.40" stroke="#6f93cc" stroke-width="0.9" fill="none"/>
<rect x="450.10" y="535.96" width="10.20" height="60.44" fill="url(#baT)" stroke="#6448ac" stroke-width="1.2"/>
<path d="M455.20 533.40 V537.33 M452.40 533.40 H458.00 M452.40 537.33 H458.00" stroke="#a28ad2" stroke-width="0.9" fill="none"/>
<rect x="467.60" y="533.01" width="10.20" height="63.39" fill="url(#bExo)" stroke="#b432ac" stroke-width="1.2"/>
<path d="M472.70 531.99 V532.84 M469.90 531.99 H475.50 M469.90 532.84 H475.50" stroke="#d070cf" stroke-width="0.9" fill="none"/>
<rect x="485.00" y="541.22" width="10.20" height="55.18" fill="url(#baTpE)" stroke="#72aa3a" stroke-width="1.2"/>
<path d="M490.10 537.82 V543.43 M487.30 537.82 H492.90 M487.30 543.43 H492.90" stroke="#9cc068" stroke-width="0.9" fill="none"/>
<rect x="502.60" y="544.80" width="10.20" height="51.60" fill="url(#baTmE)" stroke="#1a6a8a" stroke-width="1.2"/>
<path d="M507.70 543.78 V544.62 M504.90 543.78 H510.50 M504.90 544.62 H510.50" stroke="#2a86aa" stroke-width="0.9" fill="none"/>
<rect x="531.60" y="555.89" width="10.20" height="40.51" fill="url(#bPBS)" stroke="#4a7abf" stroke-width="1.2"/>
<path d="M536.70 552.48 V558.09 M533.90 552.48 H539.50 M533.90 558.09 H539.50" stroke="#6f93cc" stroke-width="0.9" fill="none"/>
<rect x="549.00" y="551.96" width="10.20" height="44.44" fill="url(#baT)" stroke="#6448ac" stroke-width="1.2"/>
<path d="M554.10 547.99 V554.72 M551.30 547.99 H556.90 M551.30 554.72 H556.90" stroke="#a28ad2" stroke-width="0.9" fill="none"/>
<rect x="566.50" y="552.38" width="10.20" height="44.02" fill="url(#bExo)" stroke="#b432ac" stroke-width="1.2"/>
<path d="M571.60 551.36 V552.20 M568.80 551.36 H574.40 M568.80 552.20 H574.40" stroke="#d070cf" stroke-width="0.9" fill="none"/>
<rect x="584.00" y="550.55" width="10.20" height="45.85" fill="url(#baTpE)" stroke="#72aa3a" stroke-width="1.2"/>
<path d="M589.10 548.83 V551.08 M586.30 548.83 H591.90 M586.30 551.08 H591.90" stroke="#9cc068" stroke-width="0.9" fill="none"/>
<rect x="601.50" y="546.48" width="10.20" height="49.92" fill="url(#baTmE)" stroke="#1a6a8a" stroke-width="1.2"/>
<path d="M606.60 544.62 V547.15 M603.80 544.62 H609.40 M603.80 547.15 H609.40" stroke="#2a86aa" stroke-width="0.9" fill="none"/>
<path d="M425.8 490.6 V596.4 H618" fill="none" stroke="#111" stroke-width="1.45"/>
<line x1="419.8" y1="596.40" x2="425.8" y2="596.40" stroke="#111" stroke-width="1.1"/>
<text x="418.60" y="599.10" font-size="7.6" fill="#111" text-anchor="end" font-weight="bold" stroke="#111" stroke-width="0.28">0</text>
<line x1="419.8" y1="561.32" x2="425.8" y2="561.32" stroke="#111" stroke-width="1.1"/>
<text x="418.60" y="564.02" font-size="7.6" fill="#111" text-anchor="end" font-weight="bold" stroke="#111" stroke-width="0.28">50</text>
<line x1="419.8" y1="526.24" x2="425.8" y2="526.24" stroke="#111" stroke-width="1.1"/>
<text x="418.60" y="528.94" font-size="7.6" fill="#111" text-anchor="end" font-weight="bold" stroke="#111" stroke-width="0.28">100</text>
<line x1="419.8" y1="491.16" x2="425.8" y2="491.16" stroke="#111" stroke-width="1.1"/>
<text x="418.60" y="493.86" font-size="7.6" fill="#111" text-anchor="end" font-weight="bold" stroke="#111" stroke-width="0.28">150</text>
<line x1="472.6" y1="596.4" x2="472.6" y2="601.6" stroke="#111" stroke-width="1.1"/>
<text x="472.60" y="611.00" font-size="7.8" fill="#111" text-anchor="middle" font-weight="bold" stroke="#111" stroke-width="0.28">CD86</text>
<line x1="571.5" y1="596.4" x2="571.5" y2="601.6" stroke="#111" stroke-width="1.1"/>
<text x="571.50" y="611.00" font-size="7.8" fill="#111" text-anchor="middle" font-weight="bold" stroke="#111" stroke-width="0.28">CD206</text>
<text x="400.70" y="544.00" font-size="8.4" fill="#111" text-anchor="middle" font-weight="bold" stroke="#111" stroke-width="0.28" transform="rotate(-90 400.70 544.00)">Mean fluorescence intensity</text>
<line x1="437.40" y1="490.50" x2="508.00" y2="490.50" stroke="#111" stroke-width="1.15"/>
<text x="472.60" y="491.10" font-size="10" fill="#111" text-anchor="middle" font-weight="bold" stroke="#111" stroke-width="0.28">****</text>
<line x1="454.80" y1="499.50" x2="508.00" y2="499.50" stroke="#111" stroke-width="1.15"/>
<text x="481.30" y="500.10" font-size="10" fill="#111" text-anchor="middle" font-weight="bold" stroke="#111" stroke-width="0.28">*</text>
<line x1="437.40" y1="509.50" x2="490.40" y2="509.50" stroke="#111" stroke-width="1.15"/>
<text x="463.50" y="510.10" font-size="10" fill="#111" text-anchor="middle" font-weight="bold" stroke="#111" stroke-width="0.28">**</text>
<line x1="472.40" y1="519.50" x2="508.00" y2="519.50" stroke="#111" stroke-width="1.15"/>
<text x="489.80" y="520.10" font-size="10" fill="#111" text-anchor="middle" font-weight="bold" stroke="#111" stroke-width="0.28">**</text>
<line x1="472.40" y1="527.50" x2="490.40" y2="527.50" stroke="#111" stroke-width="1.15"/>
<text x="481.30" y="528.10" font-size="10" fill="#111" text-anchor="middle" font-weight="bold" stroke="#111" stroke-width="0.28">*</text>
<line x1="536.20" y1="527.50" x2="606.50" y2="527.50" stroke="#111" stroke-width="1.15"/>
<text x="571.30" y="528.10" font-size="10" fill="#111" text-anchor="middle" font-weight="bold" stroke="#111" stroke-width="0.28">*</text>
<rect x="61.90" y="675.70" width="12.80" height="80.90" fill="url(#bPBS)" stroke="#4a7abf" stroke-width="1.2"/>
<rect x="83.80" y="713.60" width="12.80" height="43.00" fill="url(#baT)" stroke="#6448ac" stroke-width="1.2"/>
<path d="M90.20 703.70 V721.40 M86.90 703.70 H93.50 M86.90 721.40 H93.50" stroke="#a28ad2" stroke-width="0.9" fill="none"/>
<rect x="105.60" y="699.74" width="12.80" height="56.86" fill="url(#bExo)" stroke="#b432ac" stroke-width="1.2"/>
<path d="M112.00 691.20 V706.40 M108.70 691.20 H115.30 M108.70 706.40 H115.30" stroke="#d070cf" stroke-width="0.9" fill="none"/>
<rect x="127.50" y="716.04" width="12.80" height="40.56" fill="url(#baTpE)" stroke="#72aa3a" stroke-width="1.2"/>
<path d="M133.90 707.40 V723.80 M130.60 707.40 H137.20 M130.60 723.80 H137.20" stroke="#9cc068" stroke-width="0.9" fill="none"/>
<rect x="149.40" y="729.08" width="12.80" height="27.52" fill="url(#baTmE)" stroke="#1a6a8a" stroke-width="1.2"/>
<path d="M155.80 724.60 V732.40 M152.50 724.60 H159.10 M152.50 732.40 H159.10" stroke="#2a86aa" stroke-width="0.9" fill="none"/>
<path d="M53.7 658.3 V756.6 H166" fill="none" stroke="#111" stroke-width="1.3"/>
<line x1="49.5" y1="756.60" x2="53.7" y2="756.60" stroke="#111" stroke-width="1.0"/>
<text x="48.30" y="759.30" font-size="7.6" fill="#111" text-anchor="end" font-weight="bold" stroke="#111" stroke-width="0.28">0.0</text>
<line x1="49.5" y1="724.00" x2="53.7" y2="724.00" stroke="#111" stroke-width="1.0"/>
<text x="48.30" y="726.70" font-size="7.6" fill="#111" text-anchor="end" font-weight="bold" stroke="#111" stroke-width="0.28">0.4</text>
<line x1="49.5" y1="691.40" x2="53.7" y2="691.40" stroke="#111" stroke-width="1.0"/>
<text x="48.30" y="694.10" font-size="7.6" fill="#111" text-anchor="end" font-weight="bold" stroke="#111" stroke-width="0.28">0.8</text>
<line x1="49.5" y1="658.80" x2="53.7" y2="658.80" stroke="#111" stroke-width="1.0"/>
<text x="48.30" y="661.50" font-size="7.6" fill="#111" text-anchor="end" font-weight="bold" stroke="#111" stroke-width="0.28">1.2</text>
<line x1="68.30" y1="756.6" x2="68.30" y2="760.2" stroke="#111" stroke-width="1.0"/>
<text x="69.30" y="767.20" font-size="7.4" fill="#111" text-anchor="end" font-weight="bold" stroke="#111" stroke-width="0.28" transform="rotate(-45 69.30 767.20)">PBS</text>
<line x1="90.20" y1="756.6" x2="90.20" y2="760.2" stroke="#111" stroke-width="1.0"/>
<text x="91.20" y="767.20" font-size="7.4" fill="#111" text-anchor="end" font-weight="bold" stroke="#111" stroke-width="0.28" transform="rotate(-45 91.20 767.20)">aT</text>
<line x1="112.00" y1="756.6" x2="112.00" y2="760.2" stroke="#111" stroke-width="1.0"/>
<text x="113.00" y="767.20" font-size="7.4" fill="#111" text-anchor="end" font-weight="bold" stroke="#111" stroke-width="0.28" transform="rotate(-45 113.00 767.20)">Exo</text>
<line x1="133.90" y1="756.6" x2="133.90" y2="760.2" stroke="#111" stroke-width="1.0"/>
<text x="134.90" y="767.20" font-size="7.4" fill="#111" text-anchor="end" font-weight="bold" stroke="#111" stroke-width="0.28" transform="rotate(-45 134.90 767.20)">aT+Exo</text>
<line x1="155.80" y1="756.6" x2="155.80" y2="760.2" stroke="#111" stroke-width="1.0"/>
<text x="156.80" y="767.20" font-size="7.4" fill="#111" text-anchor="end" font-weight="bold" stroke="#111" stroke-width="0.28" transform="rotate(-45 156.80 767.20)">aT-Exo</text>
<text x="32.0" y="708.20" font-size="7.9" font-weight="bold" fill="#111" stroke="#111" stroke-width="0.28" text-anchor="middle" transform="rotate(-90 32.0 708.20)">Relative amount of TNF-<tspan font-weight="normal" font-size="8.4" stroke-width="0.1">α</tspan></text>
<line x1="67.80" y1="658.50" x2="156.30" y2="658.50" stroke="#111" stroke-width="1.1"/>
<text x="111.80" y="659.00" font-size="9.6" fill="#111" text-anchor="middle" font-weight="bold" stroke="#111" stroke-width="0.28">***</text>
<line x1="67.80" y1="665.50" x2="134.00" y2="665.50" stroke="#111" stroke-width="1.1"/>
<text x="100.60" y="666.00" font-size="9.6" fill="#111" text-anchor="middle" font-weight="bold" stroke="#111" stroke-width="0.28">**</text>
<line x1="67.80" y1="673.50" x2="90.50" y2="673.50" stroke="#111" stroke-width="1.1"/>
<text x="78.80" y="674.00" font-size="9.6" fill="#111" text-anchor="middle" font-weight="bold" stroke="#111" stroke-width="0.28">**</text>
<line x1="111.00" y1="673.50" x2="156.30" y2="673.50" stroke="#111" stroke-width="1.1"/>
<text x="133.80" y="674.00" font-size="9.6" fill="#111" text-anchor="middle" font-weight="bold" stroke="#111" stroke-width="0.28">*</text>
<rect x="214.00" y="675.70" width="12.00" height="80.90" fill="url(#bPBS)" stroke="#4a7abf" stroke-width="1.2"/>
<rect x="235.80" y="692.41" width="12.00" height="64.19" fill="url(#baT)" stroke="#6448ac" stroke-width="1.2"/>
<path d="M241.80 687.80 V695.70 M238.50 687.80 H245.10 M238.50 695.70 H245.10" stroke="#a28ad2" stroke-width="0.9" fill="none"/>
<rect x="257.60" y="689.55" width="12.00" height="67.05" fill="url(#bExo)" stroke="#b432ac" stroke-width="1.2"/>
<path d="M263.60 682.60 V694.60 M260.30 682.60 H266.90 M260.30 694.60 H266.90" stroke="#d070cf" stroke-width="0.9" fill="none"/>
<rect x="279.30" y="694.04" width="12.00" height="62.56" fill="url(#baTpE)" stroke="#72aa3a" stroke-width="1.2"/>
<path d="M285.30 686.50 V699.60 M282.00 686.50 H288.60 M282.00 699.60 H288.60" stroke="#9cc068" stroke-width="0.9" fill="none"/>
<rect x="301.00" y="697.30" width="12.00" height="59.30" fill="url(#baTmE)" stroke="#1a6a8a" stroke-width="1.2"/>
<path d="M307.00 693.30 V700.00 M303.70 693.30 H310.30 M303.70 700.00 H310.30" stroke="#2a86aa" stroke-width="0.9" fill="none"/>
<path d="M205.7 658.3 V756.6 H320" fill="none" stroke="#111" stroke-width="1.3"/>
<line x1="201.5" y1="756.60" x2="205.7" y2="756.60" stroke="#111" stroke-width="1.0"/>
<text x="200.30" y="759.30" font-size="7.6" fill="#111" text-anchor="end" font-weight="bold" stroke="#111" stroke-width="0.28">0.0</text>
<line x1="201.5" y1="724.00" x2="205.7" y2="724.00" stroke="#111" stroke-width="1.0"/>
<text x="200.30" y="726.70" font-size="7.6" fill="#111" text-anchor="end" font-weight="bold" stroke="#111" stroke-width="0.28">0.4</text>
<line x1="201.5" y1="691.40" x2="205.7" y2="691.40" stroke="#111" stroke-width="1.0"/>
<text x="200.30" y="694.10" font-size="7.6" fill="#111" text-anchor="end" font-weight="bold" stroke="#111" stroke-width="0.28">0.8</text>
<line x1="201.5" y1="658.80" x2="205.7" y2="658.80" stroke="#111" stroke-width="1.0"/>
<text x="200.30" y="661.50" font-size="7.6" fill="#111" text-anchor="end" font-weight="bold" stroke="#111" stroke-width="0.28">1.2</text>
<line x1="220.00" y1="756.6" x2="220.00" y2="760.2" stroke="#111" stroke-width="1.0"/>
<text x="221.00" y="767.20" font-size="7.4" fill="#111" text-anchor="end" font-weight="bold" stroke="#111" stroke-width="0.28" transform="rotate(-45 221.00 767.20)">PBS</text>
<line x1="241.80" y1="756.6" x2="241.80" y2="760.2" stroke="#111" stroke-width="1.0"/>
<text x="242.80" y="767.20" font-size="7.4" fill="#111" text-anchor="end" font-weight="bold" stroke="#111" stroke-width="0.28" transform="rotate(-45 242.80 767.20)">aT</text>
<line x1="263.60" y1="756.6" x2="263.60" y2="760.2" stroke="#111" stroke-width="1.0"/>
<text x="264.60" y="767.20" font-size="7.4" fill="#111" text-anchor="end" font-weight="bold" stroke="#111" stroke-width="0.28" transform="rotate(-45 264.60 767.20)">Exo</text>
<line x1="285.30" y1="756.6" x2="285.30" y2="760.2" stroke="#111" stroke-width="1.0"/>
<text x="286.30" y="767.20" font-size="7.4" fill="#111" text-anchor="end" font-weight="bold" stroke="#111" stroke-width="0.28" transform="rotate(-45 286.30 767.20)">aT+Exo</text>
<line x1="307.00" y1="756.6" x2="307.00" y2="760.2" stroke="#111" stroke-width="1.0"/>
<text x="308.00" y="767.20" font-size="7.4" fill="#111" text-anchor="end" font-weight="bold" stroke="#111" stroke-width="0.28" transform="rotate(-45 308.00 767.20)">aT-Exo</text>
<text x="184.00" y="708.20" font-size="7.9" fill="#111" text-anchor="middle" font-weight="bold" stroke="#111" stroke-width="0.28" transform="rotate(-90 184.00 708.20)">Relative amount of MMP9</text>
<line x1="218.80" y1="666.50" x2="306.90" y2="666.50" stroke="#111" stroke-width="1.1"/>
<text x="262.70" y="667.00" font-size="9.6" fill="#111" text-anchor="middle" font-weight="bold" stroke="#111" stroke-width="0.28">*</text>
<rect x="363.20" y="676.10" width="12.80" height="80.90" fill="url(#bPBS)" stroke="#4a7abf" stroke-width="1.2"/>
<rect x="385.10" y="679.36" width="12.80" height="77.64" fill="url(#baT)" stroke="#6448ac" stroke-width="1.2"/>
<path d="M391.50 676.80 V680.00 M388.20 676.80 H394.80 M388.20 680.00 H394.80" stroke="#a28ad2" stroke-width="0.9" fill="none"/>
<rect x="407.00" y="681.40" width="12.80" height="75.60" fill="url(#bExo)" stroke="#b432ac" stroke-width="1.2"/>
<path d="M413.40 677.60 V682.80 M410.10 677.60 H416.70 M410.10 682.80 H416.70" stroke="#d070cf" stroke-width="0.9" fill="none"/>
<rect x="428.90" y="682.62" width="12.80" height="74.38" fill="url(#baTpE)" stroke="#72aa3a" stroke-width="1.2"/>
<path d="M435.30 677.60 V686.00 M432.00 677.60 H438.60 M432.00 686.00 H438.60" stroke="#9cc068" stroke-width="0.9" fill="none"/>
<rect x="450.80" y="689.55" width="12.80" height="67.45" fill="url(#baTmE)" stroke="#1a6a8a" stroke-width="1.2"/>
<path d="M457.20 684.70 V692.50 M453.90 684.70 H460.50 M453.90 692.50 H460.50" stroke="#2a86aa" stroke-width="0.9" fill="none"/>
<path d="M354.7 658.7 V757.0 H470" fill="none" stroke="#111" stroke-width="1.3"/>
<line x1="350.5" y1="757.00" x2="354.7" y2="757.00" stroke="#111" stroke-width="1.0"/>
<text x="349.30" y="759.70" font-size="7.6" fill="#111" text-anchor="end" font-weight="bold" stroke="#111" stroke-width="0.28">0.0</text>
<line x1="350.5" y1="724.40" x2="354.7" y2="724.40" stroke="#111" stroke-width="1.0"/>
<text x="349.30" y="727.10" font-size="7.6" fill="#111" text-anchor="end" font-weight="bold" stroke="#111" stroke-width="0.28">0.4</text>
<line x1="350.5" y1="691.80" x2="354.7" y2="691.80" stroke="#111" stroke-width="1.0"/>
<text x="349.30" y="694.50" font-size="7.6" fill="#111" text-anchor="end" font-weight="bold" stroke="#111" stroke-width="0.28">0.8</text>
<line x1="350.5" y1="659.20" x2="354.7" y2="659.20" stroke="#111" stroke-width="1.0"/>
<text x="349.30" y="661.90" font-size="7.6" fill="#111" text-anchor="end" font-weight="bold" stroke="#111" stroke-width="0.28">1.2</text>
<line x1="369.60" y1="757.0" x2="369.60" y2="760.6" stroke="#111" stroke-width="1.0"/>
<text x="370.60" y="767.60" font-size="7.4" fill="#111" text-anchor="end" font-weight="bold" stroke="#111" stroke-width="0.28" transform="rotate(-45 370.60 767.60)">PBS</text>
<line x1="391.50" y1="757.0" x2="391.50" y2="760.6" stroke="#111" stroke-width="1.0"/>
<text x="392.50" y="767.60" font-size="7.4" fill="#111" text-anchor="end" font-weight="bold" stroke="#111" stroke-width="0.28" transform="rotate(-45 392.50 767.60)">aT</text>
<line x1="413.40" y1="757.0" x2="413.40" y2="760.6" stroke="#111" stroke-width="1.0"/>
<text x="414.40" y="767.60" font-size="7.4" fill="#111" text-anchor="end" font-weight="bold" stroke="#111" stroke-width="0.28" transform="rotate(-45 414.40 767.60)">Exo</text>
<line x1="435.30" y1="757.0" x2="435.30" y2="760.6" stroke="#111" stroke-width="1.0"/>
<text x="436.30" y="767.60" font-size="7.4" fill="#111" text-anchor="end" font-weight="bold" stroke="#111" stroke-width="0.28" transform="rotate(-45 436.30 767.60)">aT+Exo</text>
<line x1="457.20" y1="757.0" x2="457.20" y2="760.6" stroke="#111" stroke-width="1.0"/>
<text x="458.20" y="767.60" font-size="7.4" fill="#111" text-anchor="end" font-weight="bold" stroke="#111" stroke-width="0.28" transform="rotate(-45 458.20 767.60)">aT-Exo</text>
<text x="334.20" y="708.60" font-size="7.9" fill="#111" text-anchor="middle" font-weight="bold" stroke="#111" stroke-width="0.28" transform="rotate(-90 334.20 708.60)">Relative amount of IL-6</text>
<line x1="369.10" y1="663.50" x2="457.10" y2="663.50" stroke="#111" stroke-width="1.1"/>
<text x="413.30" y="664.00" font-size="9.6" fill="#111" text-anchor="middle" font-weight="bold" stroke="#111" stroke-width="0.28">*</text>
<rect x="513.60" y="675.33" width="12.80" height="81.07" fill="url(#bPBS)" stroke="#4a7abf" stroke-width="1.2"/>
<rect x="535.40" y="681.46" width="12.80" height="74.94" fill="url(#baT)" stroke="#6448ac" stroke-width="1.2"/>
<path d="M541.80 676.30 V685.20 M538.50 676.30 H545.10 M538.50 685.20 H545.10" stroke="#a28ad2" stroke-width="0.9" fill="none"/>
<rect x="557.30" y="687.99" width="12.80" height="68.41" fill="url(#bExo)" stroke="#b432ac" stroke-width="1.2"/>
<path d="M563.70 681.50 V692.50 M560.40 681.50 H567.00 M560.40 692.50 H567.00" stroke="#d070cf" stroke-width="0.9" fill="none"/>
<rect x="579.20" y="694.93" width="12.80" height="61.47" fill="url(#baTpE)" stroke="#72aa3a" stroke-width="1.2"/>
<path d="M585.60 685.20 V703.00 M582.30 685.20 H588.90 M582.30 703.00 H588.90" stroke="#9cc068" stroke-width="0.9" fill="none"/>
<rect x="601.00" y="709.63" width="12.80" height="46.77" fill="url(#baTmE)" stroke="#1a6a8a" stroke-width="1.2"/>
<path d="M607.40 699.00 V718.80 M604.10 699.00 H610.70 M604.10 718.80 H610.70" stroke="#2a86aa" stroke-width="0.9" fill="none"/>
<path d="M505.8 657.9 V756.4 H622" fill="none" stroke="#111" stroke-width="1.3"/>
<line x1="501.6" y1="756.40" x2="505.8" y2="756.40" stroke="#111" stroke-width="1.0"/>
<text x="500.40" y="759.10" font-size="7.6" fill="#111" text-anchor="end" font-weight="bold" stroke="#111" stroke-width="0.28">0.0</text>
<line x1="501.6" y1="723.73" x2="505.8" y2="723.73" stroke="#111" stroke-width="1.0"/>
<text x="500.40" y="726.43" font-size="7.6" fill="#111" text-anchor="end" font-weight="bold" stroke="#111" stroke-width="0.28">0.4</text>
<line x1="501.6" y1="691.07" x2="505.8" y2="691.07" stroke="#111" stroke-width="1.0"/>
<text x="500.40" y="693.77" font-size="7.6" fill="#111" text-anchor="end" font-weight="bold" stroke="#111" stroke-width="0.28">0.8</text>
<line x1="501.6" y1="658.40" x2="505.8" y2="658.40" stroke="#111" stroke-width="1.0"/>
<text x="500.40" y="661.10" font-size="7.6" fill="#111" text-anchor="end" font-weight="bold" stroke="#111" stroke-width="0.28">1.2</text>
<line x1="520.00" y1="756.4" x2="520.00" y2="760.0" stroke="#111" stroke-width="1.0"/>
<text x="521.00" y="767.00" font-size="7.4" fill="#111" text-anchor="end" font-weight="bold" stroke="#111" stroke-width="0.28" transform="rotate(-45 521.00 767.00)">PBS</text>
<line x1="541.80" y1="756.4" x2="541.80" y2="760.0" stroke="#111" stroke-width="1.0"/>
<text x="542.80" y="767.00" font-size="7.4" fill="#111" text-anchor="end" font-weight="bold" stroke="#111" stroke-width="0.28" transform="rotate(-45 542.80 767.00)">aT</text>
<line x1="563.70" y1="756.4" x2="563.70" y2="760.0" stroke="#111" stroke-width="1.0"/>
<text x="564.70" y="767.00" font-size="7.4" fill="#111" text-anchor="end" font-weight="bold" stroke="#111" stroke-width="0.28" transform="rotate(-45 564.70 767.00)">Exo</text>
<line x1="585.60" y1="756.4" x2="585.60" y2="760.0" stroke="#111" stroke-width="1.0"/>
<text x="586.60" y="767.00" font-size="7.4" fill="#111" text-anchor="end" font-weight="bold" stroke="#111" stroke-width="0.28" transform="rotate(-45 586.60 767.00)">aT+Exo</text>
<line x1="607.40" y1="756.4" x2="607.40" y2="760.0" stroke="#111" stroke-width="1.0"/>
<text x="608.40" y="767.00" font-size="7.4" fill="#111" text-anchor="end" font-weight="bold" stroke="#111" stroke-width="0.28" transform="rotate(-45 608.40 767.00)">aT-Exo</text>
<text x="484.6" y="707.90" font-size="7.9" font-weight="bold" fill="#111" stroke="#111" stroke-width="0.28" text-anchor="middle" transform="rotate(-90 484.6 707.90)">Relative amount of IL-1<tspan font-weight="normal" font-size="8.4" stroke-width="0.1">β</tspan></text>
<line x1="519.50" y1="662.50" x2="608.00" y2="662.50" stroke="#111" stroke-width="1.1"/>
<text x="563.40" y="663.00" font-size="9.6" fill="#111" text-anchor="middle" font-weight="bold" stroke="#111" stroke-width="0.28">*</text>
</g>
</svg>
</body></html>
